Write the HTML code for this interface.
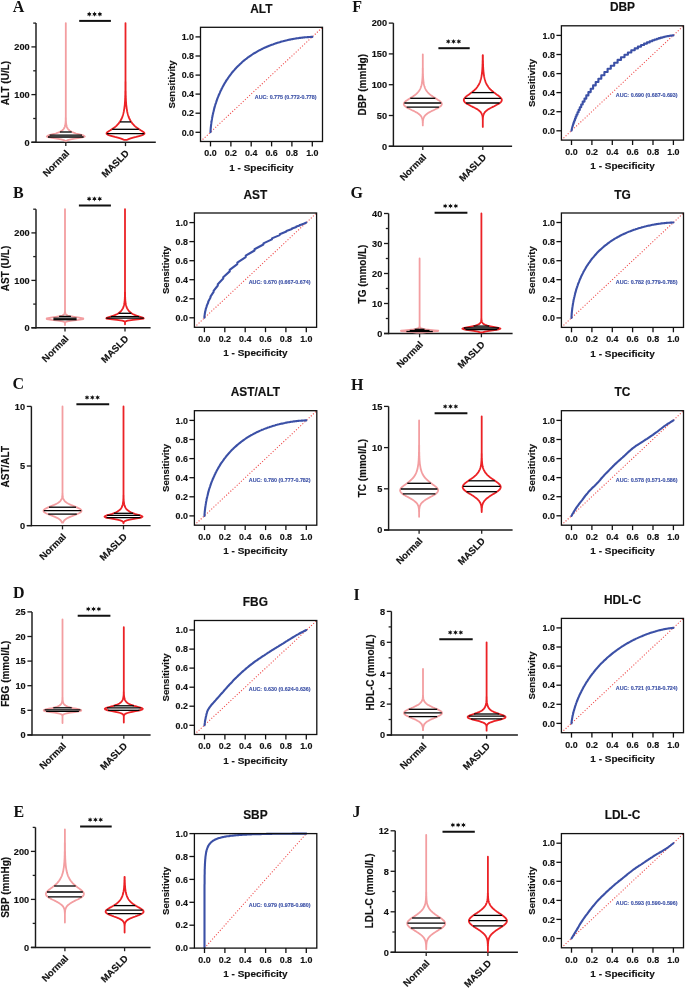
<!DOCTYPE html>
<html><head><meta charset="utf-8"><style>
html,body{margin:0;padding:0;background:#fff;}
svg{display:block;will-change:transform;}
text{font-family:"Liberation Sans",sans-serif;font-weight:bold;}
.t{fill:#111;stroke:#111;stroke-width:0.15px;}
.lt{font-family:"Liberation Serif",serif;font-size:16px;fill:#111;}
.e{text-anchor:end;} .m{text-anchor:middle;}
.vt{font-size:9.2px;} .st{font-size:13.9px;stroke-width:0.1px;} .yl{font-size:10px;} .cl{font-size:9.5px;}
.ti{font-size:11.9px;} .rt{font-size:8.9px;} .xl{font-size:10px;} .sl{font-size:9.6px;}
.au{font-size:5.35px;fill:#3b50a6;stroke:#3b50a6;stroke-width:0.12px;}
</style></head><body>
<svg width="685" height="988" viewBox="0 0 685 988">
<rect width="685" height="988" fill="#fff"/>
<text x="12.7" y="11.7" class="lt">A</text>
<line x1="36.0" y1="23.1" x2="36.0" y2="143.0" stroke="#1a1a1a" stroke-width="1.45"/>
<line x1="31.4" y1="142.3" x2="155.8" y2="142.3" stroke="#1a1a1a" stroke-width="1.45"/>
<line x1="31.4" y1="142.3" x2="36.0" y2="142.3" stroke="#1a1a1a" stroke-width="1.3"/>
<text x="29.7" y="145.6" class="t vt e">0</text>
<line x1="31.4" y1="94.6" x2="36.0" y2="94.6" stroke="#1a1a1a" stroke-width="1.3"/>
<text x="29.7" y="97.9" class="t vt e">100</text>
<line x1="31.4" y1="46.9" x2="36.0" y2="46.9" stroke="#1a1a1a" stroke-width="1.3"/>
<text x="29.7" y="50.2" class="t vt e">200</text>
<line x1="33.2" y1="118.5" x2="36.0" y2="118.5" stroke="#222" stroke-width="1.3"/>
<line x1="33.2" y1="70.8" x2="36.0" y2="70.8" stroke="#222" stroke-width="1.3"/>
<line x1="33.2" y1="23.1" x2="36.0" y2="23.1" stroke="#222" stroke-width="1.3"/>
<line x1="65.8" y1="142.3" x2="65.8" y2="146.10000000000002" stroke="#222" stroke-width="1.3"/>
<line x1="125.5" y1="142.3" x2="125.5" y2="146.10000000000002" stroke="#222" stroke-width="1.3"/>
<path d="M65.8,23.1 65.8,23.8 65.8,24.5 65.8,25.3 65.8,26 65.8,26.8 65.8,27.5 65.8,28.2 65.8,29 65.8,29.7 65.8,30.5 65.8,31.2 65.8,31.9 65.8,32.7 65.8,33.4 65.8,34.2 65.8,34.9 65.8,35.6 65.8,36.4 65.8,37.1 65.8,37.9 65.8,38.6 65.8,39.4 65.8,40.1 65.8,40.8 65.8,41.6 65.8,42.3 65.8,43.1 65.8,43.8 65.8,44.5 65.8,45.3 65.8,46 65.8,46.8 65.8,47.5 65.8,48.2 65.8,49 65.8,49.7 65.8,50.5 65.8,51.2 65.8,51.9 65.8,52.7 65.8,53.4 65.8,54.2 65.8,54.9 65.8,55.7 65.8,56.4 65.8,57.1 65.8,57.9 65.8,58.6 65.8,59.4 65.8,60.1 65.8,60.8 65.8,61.6 65.8,62.3 65.8,63.1 65.8,63.8 65.8,64.5 65.8,65.3 65.8,66 65.8,66.8 65.8,67.5 65.8,68.3 65.8,69 65.8,69.7 65.8,70.5 65.8,71.2 65.8,72 65.8,72.7 65.8,73.4 65.8,74.2 65.8,74.9 65.8,75.7 65.8,76.4 65.8,77.1 65.8,77.9 65.8,78.6 65.8,79.4 65.8,80.1 65.8,80.8 65.8,81.6 65.8,82.3 65.8,83.1 65.8,83.8 65.8,84.6 65.8,85.3 65.8,86 65.8,86.8 65.8,87.5 65.8,88.3 65.8,89 65.8,89.7 65.8,90.5 65.8,91.2 65.8,92 65.8,92.7 65.8,93.4 65.8,94.2 65.8,94.9 65.8,95.7 65.8,96.4 65.8,97.2 65.8,97.9 65.8,98.6 65.8,99.4 65.8,100.1 65.8,100.9 65.8,101.6 65.8,102.3 65.8,103.1 65.8,103.8 65.8,104.6 65.8,105.3 65.8,106 65.8,106.8 65.8,107.5 65.8,108.3 65.8,109 65.8,109.7 65.8,110.5 65.8,111.2 65.8,112 65.8,112.7 65.8,113.5 65.8,114.2 65.8,114.9 65.8,115.7 65.8,116.4 65.8,117.2 65.9,117.9 65.9,118.6 65.9,119.4 65.9,120.1 65.9,120.9 66,121.6 66,122.3 66.1,123.1 66.2,123.8 66.3,124.6 66.4,125.3 66.6,126 66.8,126.8 67.1,127.5 67.5,128.3 68,129 68.7,129.8 69.5,130.5 70.6,131.2 71.9,132 73.7,132.7 75.9,133.5 78.6,134.2 81.4,134.9 83.8,135.7 84.8,136.4 83.4,137.2 79.6,137.9 74.7,138.6 70.5,139.4 67.7,140.1 66.4,140.9 L65.2,140.9 63.9,140.1 61.1,139.4 56.9,138.6 52,137.9 48.2,137.2 46.8,136.4 47.8,135.7 50.2,134.9 53,134.2 55.7,133.5 57.9,132.7 59.7,132 61,131.2 62.1,130.5 62.9,129.8 63.6,129 64.1,128.3 64.5,127.5 64.8,126.8 65,126 65.2,125.3 65.3,124.6 65.4,123.8 65.5,123.1 65.6,122.3 65.6,121.6 65.7,120.9 65.7,120.1 65.7,119.4 65.7,118.6 65.7,117.9 65.8,117.2 65.8,116.4 65.8,115.7 65.8,114.9 65.8,114.2 65.8,113.5 65.8,112.7 65.8,112 65.8,111.2 65.8,110.5 65.8,109.7 65.8,109 65.8,108.3 65.8,107.5 65.8,106.8 65.8,106 65.8,105.3 65.8,104.6 65.8,103.8 65.8,103.1 65.8,102.3 65.8,101.6 65.8,100.9 65.8,100.1 65.8,99.4 65.8,98.6 65.8,97.9 65.8,97.2 65.8,96.4 65.8,95.7 65.8,94.9 65.8,94.2 65.8,93.4 65.8,92.7 65.8,92 65.8,91.2 65.8,90.5 65.8,89.7 65.8,89 65.8,88.3 65.8,87.5 65.8,86.8 65.8,86 65.8,85.3 65.8,84.6 65.8,83.8 65.8,83.1 65.8,82.3 65.8,81.6 65.8,80.8 65.8,80.1 65.8,79.4 65.8,78.6 65.8,77.9 65.8,77.1 65.8,76.4 65.8,75.7 65.8,74.9 65.8,74.2 65.8,73.4 65.8,72.7 65.8,72 65.8,71.2 65.8,70.5 65.8,69.7 65.8,69 65.8,68.3 65.8,67.5 65.8,66.8 65.8,66 65.8,65.3 65.8,64.5 65.8,63.8 65.8,63.1 65.8,62.3 65.8,61.6 65.8,60.8 65.8,60.1 65.8,59.4 65.8,58.6 65.8,57.9 65.8,57.1 65.8,56.4 65.8,55.7 65.8,54.9 65.8,54.2 65.8,53.4 65.8,52.7 65.8,51.9 65.8,51.2 65.8,50.5 65.8,49.7 65.8,49 65.8,48.2 65.8,47.5 65.8,46.8 65.8,46 65.8,45.3 65.8,44.5 65.8,43.8 65.8,43.1 65.8,42.3 65.8,41.6 65.8,40.8 65.8,40.1 65.8,39.4 65.8,38.6 65.8,37.9 65.8,37.1 65.8,36.4 65.8,35.6 65.8,34.9 65.8,34.2 65.8,33.4 65.8,32.7 65.8,31.9 65.8,31.2 65.8,30.5 65.8,29.7 65.8,29 65.8,28.2 65.8,27.5 65.8,26.8 65.8,26 65.8,25.3 65.8,24.5 65.8,23.8 65.8,23.1 Z" fill="none" stroke="#f39ea1" stroke-width="1.8" stroke-linejoin="round"/>
<line x1="48" y1="137" x2="83.6" y2="137" stroke="#000" stroke-width="1.3"/>
<line x1="49.6" y1="135.2" x2="82" y2="135.2" stroke="#000" stroke-width="1.3"/>
<line x1="59.9" y1="132" x2="71.7" y2="132" stroke="#000" stroke-width="1.3"/>
<path d="M125.5,23.1 125.5,23.8 125.5,24.5 125.5,25.3 125.5,26 125.5,26.7 125.5,27.5 125.5,28.2 125.5,28.9 125.5,29.7 125.5,30.4 125.5,31.1 125.5,31.9 125.5,32.6 125.5,33.3 125.5,34.1 125.5,34.8 125.5,35.5 125.5,36.3 125.5,37 125.5,37.7 125.5,38.5 125.5,39.2 125.5,39.9 125.5,40.7 125.5,41.4 125.5,42.1 125.5,42.9 125.5,43.6 125.5,44.3 125.5,45.1 125.5,45.8 125.5,46.6 125.5,47.3 125.5,48 125.5,48.8 125.5,49.5 125.5,50.2 125.5,51 125.5,51.7 125.5,52.4 125.5,53.2 125.5,53.9 125.5,54.6 125.5,55.4 125.5,56.1 125.5,56.8 125.5,57.6 125.5,58.3 125.5,59 125.5,59.8 125.5,60.5 125.5,61.2 125.5,62 125.5,62.7 125.5,63.4 125.5,64.2 125.5,64.9 125.5,65.6 125.5,66.4 125.5,67.1 125.5,67.8 125.5,68.6 125.5,69.3 125.5,70.1 125.5,70.8 125.5,71.5 125.5,72.3 125.5,73 125.5,73.7 125.5,74.5 125.5,75.2 125.5,75.9 125.5,76.7 125.5,77.4 125.5,78.1 125.5,78.9 125.5,79.6 125.5,80.3 125.5,81.1 125.6,81.8 125.6,82.5 125.6,83.3 125.6,84 125.6,84.7 125.6,85.5 125.6,86.2 125.6,86.9 125.6,87.7 125.6,88.4 125.6,89.1 125.6,89.9 125.6,90.6 125.7,91.3 125.7,92.1 125.7,92.8 125.7,93.6 125.7,94.3 125.7,95 125.8,95.8 125.8,96.5 125.8,97.2 125.8,98 125.9,98.7 125.9,99.4 125.9,100.2 126,100.9 126,101.6 126.1,102.4 126.1,103.1 126.2,103.8 126.2,104.6 126.3,105.3 126.4,106 126.5,106.8 126.6,107.5 126.6,108.2 126.8,109 126.9,109.7 127,110.4 127.1,111.2 127.3,111.9 127.4,112.6 127.6,113.4 127.8,114.1 128,114.9 128.2,115.6 128.5,116.3 128.7,117.1 129,117.8 129.3,118.5 129.7,119.3 130.1,120 130.5,120.7 130.9,121.5 131.4,122.2 132,122.9 132.5,123.7 133.2,124.4 133.9,125.1 134.6,125.9 135.4,126.6 136.3,127.3 137.3,128.1 138.4,128.8 139.5,129.5 140.7,130.3 141.9,131 143,131.7 144,132.5 144.5,133.2 144.3,133.9 143.4,134.7 141.6,135.4 139.1,136.1 136.1,136.9 133.2,137.6 130.6,138.4 128.6,139.1 127.2,139.8 L123.8,139.8 122.4,139.1 120.4,138.4 117.8,137.6 114.9,136.9 111.9,136.1 109.4,135.4 107.6,134.7 106.7,133.9 106.5,133.2 107,132.5 108,131.7 109.1,131 110.3,130.3 111.5,129.5 112.6,128.8 113.7,128.1 114.7,127.3 115.6,126.6 116.4,125.9 117.1,125.1 117.8,124.4 118.5,123.7 119,122.9 119.6,122.2 120.1,121.5 120.5,120.7 120.9,120 121.3,119.3 121.7,118.5 122,117.8 122.3,117.1 122.5,116.3 122.8,115.6 123,114.9 123.2,114.1 123.4,113.4 123.6,112.6 123.7,111.9 123.9,111.2 124,110.4 124.1,109.7 124.2,109 124.4,108.2 124.4,107.5 124.5,106.8 124.6,106 124.7,105.3 124.8,104.6 124.8,103.8 124.9,103.1 124.9,102.4 125,101.6 125,100.9 125.1,100.2 125.1,99.4 125.1,98.7 125.2,98 125.2,97.2 125.2,96.5 125.2,95.8 125.3,95 125.3,94.3 125.3,93.6 125.3,92.8 125.3,92.1 125.3,91.3 125.4,90.6 125.4,89.9 125.4,89.1 125.4,88.4 125.4,87.7 125.4,86.9 125.4,86.2 125.4,85.5 125.4,84.7 125.4,84 125.4,83.3 125.4,82.5 125.4,81.8 125.5,81.1 125.5,80.3 125.5,79.6 125.5,78.9 125.5,78.1 125.5,77.4 125.5,76.7 125.5,75.9 125.5,75.2 125.5,74.5 125.5,73.7 125.5,73 125.5,72.3 125.5,71.5 125.5,70.8 125.5,70.1 125.5,69.3 125.5,68.6 125.5,67.8 125.5,67.1 125.5,66.4 125.5,65.6 125.5,64.9 125.5,64.2 125.5,63.4 125.5,62.7 125.5,62 125.5,61.2 125.5,60.5 125.5,59.8 125.5,59 125.5,58.3 125.5,57.6 125.5,56.8 125.5,56.1 125.5,55.4 125.5,54.6 125.5,53.9 125.5,53.2 125.5,52.4 125.5,51.7 125.5,51 125.5,50.2 125.5,49.5 125.5,48.8 125.5,48 125.5,47.3 125.5,46.6 125.5,45.8 125.5,45.1 125.5,44.3 125.5,43.6 125.5,42.9 125.5,42.1 125.5,41.4 125.5,40.7 125.5,39.9 125.5,39.2 125.5,38.5 125.5,37.7 125.5,37 125.5,36.3 125.5,35.5 125.5,34.8 125.5,34.1 125.5,33.3 125.5,32.6 125.5,31.9 125.5,31.1 125.5,30.4 125.5,29.7 125.5,28.9 125.5,28.2 125.5,27.5 125.5,26.7 125.5,26 125.5,25.3 125.5,24.5 125.5,23.8 125.5,23.1 Z" fill="none" stroke="#ec2226" stroke-width="1.8" stroke-linejoin="round"/>
<line x1="106.8" y1="133.6" x2="144.2" y2="133.6" stroke="#000" stroke-width="1.3"/>
<line x1="112.2" y1="129.3" x2="138.8" y2="129.3" stroke="#000" stroke-width="1.3"/>
<line x1="120.1" y1="121.9" x2="130.9" y2="121.9" stroke="#000" stroke-width="1.3"/>
<line x1="79.2" y1="20.9" x2="110.9" y2="20.9" stroke="#111" stroke-width="2"/>
<polygon points="89.3,11.6 88.6,13.1 87,12.9 88,14.1 87,15.4 88.6,15.2 89.3,16.7 89.9,15.2 91.5,15.4 90.5,14.1 91.5,12.9 89.9,13.1" fill="#111"/>
<polygon points="94.6,11.6 93.9,13.1 92.3,12.9 93.3,14.1 92.3,15.4 93.9,15.2 94.6,16.7 95.2,15.2 96.8,15.4 95.8,14.1 96.8,12.9 95.2,13.1" fill="#111"/>
<polygon points="99.9,11.6 99.2,13.1 97.6,12.9 98.6,14.1 97.6,15.4 99.2,15.2 99.9,16.7 100.5,15.2 102.1,15.4 101.1,14.1 102.1,12.9 100.5,13.1" fill="#111"/>
<text transform="translate(8.8,83.0) rotate(-90)" class="t yl m">ALT (U/L)</text>
<text transform="translate(69.8,154) rotate(-45)" class="t cl e">Normal</text>
<text transform="translate(129.5,154) rotate(-45)" class="t cl e">MASLD</text>
<text x="13.0" y="197.8" class="lt">B</text>
<line x1="36.0" y1="209.2" x2="36.0" y2="328.5" stroke="#1a1a1a" stroke-width="1.45"/>
<line x1="31.4" y1="327.8" x2="150.6" y2="327.8" stroke="#1a1a1a" stroke-width="1.45"/>
<line x1="31.4" y1="327.8" x2="36.0" y2="327.8" stroke="#1a1a1a" stroke-width="1.3"/>
<text x="29.7" y="331.1" class="t vt e">0</text>
<line x1="31.4" y1="280.4" x2="36.0" y2="280.4" stroke="#1a1a1a" stroke-width="1.3"/>
<text x="29.7" y="283.7" class="t vt e">100</text>
<line x1="31.4" y1="232.9" x2="36.0" y2="232.9" stroke="#1a1a1a" stroke-width="1.3"/>
<text x="29.7" y="236.2" class="t vt e">200</text>
<line x1="33.2" y1="304.1" x2="36.0" y2="304.1" stroke="#222" stroke-width="1.3"/>
<line x1="33.2" y1="256.6" x2="36.0" y2="256.6" stroke="#222" stroke-width="1.3"/>
<line x1="33.2" y1="209.2" x2="36.0" y2="209.2" stroke="#222" stroke-width="1.3"/>
<line x1="65.0" y1="327.8" x2="65.0" y2="331.6" stroke="#222" stroke-width="1.3"/>
<line x1="125.0" y1="327.8" x2="125.0" y2="331.6" stroke="#222" stroke-width="1.3"/>
<path d="M65,209.2 65,209.9 65,210.7 65,211.4 65,212.1 65,212.8 65,213.6 65,214.3 65,215 65,215.8 65,216.5 65,217.2 65,217.9 65,218.7 65,219.4 65,220.1 65,220.8 65,221.6 65,222.3 65,223 65,223.8 65,224.5 65,225.2 65,225.9 65,226.7 65,227.4 65,228.1 65,228.9 65,229.6 65,230.3 65,231 65,231.8 65,232.5 65,233.2 65,234 65,234.7 65,235.4 65,236.1 65,236.9 65,237.6 65,238.3 65,239 65,239.8 65,240.5 65,241.2 65,242 65,242.7 65,243.4 65,244.1 65,244.9 65,245.6 65,246.3 65,247.1 65,247.8 65,248.5 65,249.2 65,250 65,250.7 65,251.4 65,252.2 65,252.9 65,253.6 65,254.3 65,255.1 65,255.8 65,256.5 65,257.2 65,258 65,258.7 65,259.4 65,260.2 65,260.9 65,261.6 65,262.3 65,263.1 65,263.8 65,264.5 65,265.3 65,266 65,266.7 65,267.4 65,268.2 65,268.9 65,269.6 65,270.4 65,271.1 65,271.8 65,272.5 65,273.3 65,274 65,274.7 65,275.4 65,276.2 65,276.9 65,277.6 65,278.4 65,279.1 65,279.8 65,280.5 65,281.3 65,282 65,282.7 65,283.5 65,284.2 65,284.9 65,285.6 65,286.4 65,287.1 65,287.8 65,288.6 65,289.3 65,290 65,290.7 65,291.5 65,292.2 65,292.9 65,293.6 65,294.4 65,295.1 65,295.8 65,296.6 65,297.3 65,298 65,298.7 65,299.5 65,300.2 65,300.9 65,301.7 65,302.4 65,303.1 65,303.8 65,304.6 65,305.3 65,306 65,306.8 65,307.5 65,308.2 65,308.9 65,309.7 65,310.4 65,311.1 65.1,311.8 65.2,312.6 65.4,313.3 65.7,314 66.4,314.8 67.7,315.5 70.2,316.2 74.1,316.9 79.2,317.7 83.3,318.4 83.3,319.1 78.4,319.9 71.9,320.6 67.4,321.3 65.6,322 65.1,322.8 65,323.5 65,324.2 65,325 L65,325 65,324.2 65,323.5 64.9,322.8 64.4,322 62.6,321.3 58.1,320.6 51.6,319.9 46.7,319.1 46.7,318.4 50.8,317.7 55.9,316.9 59.8,316.2 62.3,315.5 63.6,314.8 64.3,314 64.6,313.3 64.8,312.6 64.9,311.8 65,311.1 65,310.4 65,309.7 65,308.9 65,308.2 65,307.5 65,306.8 65,306 65,305.3 65,304.6 65,303.8 65,303.1 65,302.4 65,301.7 65,300.9 65,300.2 65,299.5 65,298.7 65,298 65,297.3 65,296.6 65,295.8 65,295.1 65,294.4 65,293.6 65,292.9 65,292.2 65,291.5 65,290.7 65,290 65,289.3 65,288.6 65,287.8 65,287.1 65,286.4 65,285.6 65,284.9 65,284.2 65,283.5 65,282.7 65,282 65,281.3 65,280.5 65,279.8 65,279.1 65,278.4 65,277.6 65,276.9 65,276.2 65,275.4 65,274.7 65,274 65,273.3 65,272.5 65,271.8 65,271.1 65,270.4 65,269.6 65,268.9 65,268.2 65,267.4 65,266.7 65,266 65,265.3 65,264.5 65,263.8 65,263.1 65,262.3 65,261.6 65,260.9 65,260.2 65,259.4 65,258.7 65,258 65,257.2 65,256.5 65,255.8 65,255.1 65,254.3 65,253.6 65,252.9 65,252.2 65,251.4 65,250.7 65,250 65,249.2 65,248.5 65,247.8 65,247.1 65,246.3 65,245.6 65,244.9 65,244.1 65,243.4 65,242.7 65,242 65,241.2 65,240.5 65,239.8 65,239 65,238.3 65,237.6 65,236.9 65,236.1 65,235.4 65,234.7 65,234 65,233.2 65,232.5 65,231.8 65,231 65,230.3 65,229.6 65,228.9 65,228.1 65,227.4 65,226.7 65,225.9 65,225.2 65,224.5 65,223.8 65,223 65,222.3 65,221.6 65,220.8 65,220.1 65,219.4 65,218.7 65,217.9 65,217.2 65,216.5 65,215.8 65,215 65,214.3 65,213.6 65,212.8 65,212.1 65,211.4 65,210.7 65,209.9 65,209.2 Z" fill="none" stroke="#f39ea1" stroke-width="1.8" stroke-linejoin="round"/>
<line x1="53.4" y1="319.7" x2="76.6" y2="319.7" stroke="#000" stroke-width="1.3"/>
<line x1="53.4" y1="318.2" x2="76.6" y2="318.2" stroke="#000" stroke-width="1.3"/>
<line x1="59.1" y1="316.4" x2="70.9" y2="316.4" stroke="#000" stroke-width="1.3"/>
<path d="M125,209.2 125,209.9 125,210.6 125,211.4 125,212.1 125,212.8 125,213.5 125,214.3 125,215 125,215.7 125,216.4 125,217.2 125,217.9 125,218.6 125,219.3 125,220.1 125,220.8 125,221.5 125,222.2 125,223 125,223.7 125,224.4 125,225.1 125,225.8 125,226.6 125,227.3 125,228 125,228.7 125,229.5 125,230.2 125,230.9 125,231.6 125,232.4 125,233.1 125,233.8 125,234.5 125,235.3 125,236 125,236.7 125,237.4 125,238.2 125,238.9 125,239.6 125,240.3 125,241 125,241.8 125,242.5 125,243.2 125,243.9 125,244.7 125,245.4 125,246.1 125,246.8 125,247.6 125,248.3 125,249 125,249.7 125,250.5 125,251.2 125,251.9 125,252.6 125,253.4 125,254.1 125,254.8 125,255.5 125,256.2 125,257 125,257.7 125,258.4 125,259.1 125,259.9 125,260.6 125,261.3 125,262 125,262.8 125,263.5 125,264.2 125,264.9 125,265.7 125,266.4 125,267.1 125,267.8 125,268.6 125,269.3 125,270 125,270.7 125,271.4 125,272.2 125,272.9 125,273.6 125,274.3 125,275.1 125,275.8 125,276.5 125,277.2 125,278 125,278.7 125,279.4 125,280.1 125,280.9 125,281.6 125,282.3 125,283 125,283.8 125,284.5 125,285.2 125,285.9 125,286.7 125,287.4 125,288.1 125,288.8 125,289.5 125,290.3 125,291 125,291.7 125.1,292.4 125.1,293.2 125.1,293.9 125.1,294.6 125.1,295.3 125.1,296.1 125.1,296.8 125.2,297.5 125.2,298.2 125.2,299 125.3,299.7 125.3,300.4 125.4,301.1 125.5,301.9 125.5,302.6 125.7,303.3 125.8,304 125.9,304.7 126.1,305.5 126.3,306.2 126.5,306.9 126.8,307.6 127.1,308.4 127.5,309.1 128,309.8 128.5,310.5 129.2,311.3 130,312 130.9,312.7 131.9,313.4 133.2,314.2 134.7,314.9 136.5,315.6 138.6,316.3 141.1,317.1 143.4,317.8 143.7,318.5 139.9,319.2 133.1,319.9 127.7,320.7 125.5,321.4 125.1,322.1 125,322.8 125,323.6 125,324.3 L125,324.3 125,323.6 125,322.8 124.9,322.1 124.5,321.4 122.3,320.7 116.9,319.9 110.1,319.2 106.3,318.5 106.6,317.8 108.9,317.1 111.4,316.3 113.5,315.6 115.3,314.9 116.8,314.2 118.1,313.4 119.1,312.7 120,312 120.8,311.3 121.5,310.5 122,309.8 122.5,309.1 122.9,308.4 123.2,307.6 123.5,306.9 123.7,306.2 123.9,305.5 124.1,304.7 124.2,304 124.3,303.3 124.5,302.6 124.5,301.9 124.6,301.1 124.7,300.4 124.7,299.7 124.8,299 124.8,298.2 124.8,297.5 124.9,296.8 124.9,296.1 124.9,295.3 124.9,294.6 124.9,293.9 124.9,293.2 124.9,292.4 125,291.7 125,291 125,290.3 125,289.5 125,288.8 125,288.1 125,287.4 125,286.7 125,285.9 125,285.2 125,284.5 125,283.8 125,283 125,282.3 125,281.6 125,280.9 125,280.1 125,279.4 125,278.7 125,278 125,277.2 125,276.5 125,275.8 125,275.1 125,274.3 125,273.6 125,272.9 125,272.2 125,271.4 125,270.7 125,270 125,269.3 125,268.6 125,267.8 125,267.1 125,266.4 125,265.7 125,264.9 125,264.2 125,263.5 125,262.8 125,262 125,261.3 125,260.6 125,259.9 125,259.1 125,258.4 125,257.7 125,257 125,256.2 125,255.5 125,254.8 125,254.1 125,253.4 125,252.6 125,251.9 125,251.2 125,250.5 125,249.7 125,249 125,248.3 125,247.6 125,246.8 125,246.1 125,245.4 125,244.7 125,243.9 125,243.2 125,242.5 125,241.8 125,241 125,240.3 125,239.6 125,238.9 125,238.2 125,237.4 125,236.7 125,236 125,235.3 125,234.5 125,233.8 125,233.1 125,232.4 125,231.6 125,230.9 125,230.2 125,229.5 125,228.7 125,228 125,227.3 125,226.6 125,225.8 125,225.1 125,224.4 125,223.7 125,223 125,222.2 125,221.5 125,220.8 125,220.1 125,219.3 125,218.6 125,217.9 125,217.2 125,216.4 125,215.7 125,215 125,214.3 125,213.5 125,212.8 125,212.1 125,211.4 125,210.6 125,209.9 125,209.2 Z" fill="none" stroke="#ec2226" stroke-width="1.8" stroke-linejoin="round"/>
<line x1="106.3" y1="318.1" x2="143.7" y2="318.1" stroke="#000" stroke-width="1.3"/>
<line x1="110.8" y1="316.6" x2="139.2" y2="316.6" stroke="#000" stroke-width="1.3"/>
<line x1="118.6" y1="313.3" x2="131.4" y2="313.3" stroke="#000" stroke-width="1.3"/>
<line x1="78.9" y1="205.6" x2="110.9" y2="205.6" stroke="#111" stroke-width="2"/>
<polygon points="89.1,196.3 88.5,197.8 86.9,197.6 87.9,198.8 86.9,200.1 88.5,199.9 89.1,201.4 89.7,199.9 91.3,200.1 90.4,198.8 91.3,197.6 89.7,197.8" fill="#111"/>
<polygon points="94.4,196.3 93.8,197.8 92.2,197.6 93.2,198.8 92.2,200.1 93.8,199.9 94.4,201.4 95,199.9 96.6,200.1 95.7,198.8 96.6,197.6 95,197.8" fill="#111"/>
<polygon points="99.7,196.3 99.1,197.8 97.5,197.6 98.5,198.8 97.5,200.1 99.1,199.9 99.7,201.4 100.3,199.9 101.9,200.1 101,198.8 101.9,197.6 100.3,197.8" fill="#111"/>
<text transform="translate(8.8,268.5) rotate(-90)" class="t yl m">AST (U/L)</text>
<text transform="translate(69,339.5) rotate(-45)" class="t cl e">Normal</text>
<text transform="translate(129,339.5) rotate(-45)" class="t cl e">MASLD</text>
<text x="12.6" y="389.4" class="lt">C</text>
<line x1="31.4" y1="406.4" x2="31.4" y2="526.3000000000001" stroke="#1a1a1a" stroke-width="1.45"/>
<line x1="26.799999999999997" y1="525.6" x2="150.6" y2="525.6" stroke="#1a1a1a" stroke-width="1.45"/>
<line x1="26.799999999999997" y1="525.6" x2="31.4" y2="525.6" stroke="#1a1a1a" stroke-width="1.3"/>
<text x="25.099999999999998" y="528.9" class="t vt e">0</text>
<line x1="26.799999999999997" y1="466" x2="31.4" y2="466" stroke="#1a1a1a" stroke-width="1.3"/>
<text x="25.099999999999998" y="469.3" class="t vt e">5</text>
<line x1="26.799999999999997" y1="406.4" x2="31.4" y2="406.4" stroke="#1a1a1a" stroke-width="1.3"/>
<text x="25.099999999999998" y="409.7" class="t vt e">10</text>
<line x1="62.5" y1="525.6" x2="62.5" y2="529.4" stroke="#222" stroke-width="1.3"/>
<line x1="123.5" y1="525.6" x2="123.5" y2="529.4" stroke="#222" stroke-width="1.3"/>
<path d="M62.5,406.4 62.5,407.1 62.5,407.9 62.5,408.6 62.5,409.3 62.5,410.1 62.5,410.8 62.5,411.5 62.5,412.3 62.5,413 62.5,413.7 62.5,414.4 62.5,415.2 62.5,415.9 62.5,416.6 62.5,417.4 62.5,418.1 62.5,418.8 62.5,419.6 62.5,420.3 62.5,421 62.5,421.8 62.5,422.5 62.5,423.2 62.5,424 62.5,424.7 62.5,425.4 62.5,426.2 62.5,426.9 62.5,427.6 62.5,428.4 62.5,429.1 62.5,429.8 62.5,430.5 62.5,431.3 62.5,432 62.5,432.7 62.5,433.5 62.5,434.2 62.5,434.9 62.5,435.7 62.5,436.4 62.5,437.1 62.5,437.9 62.5,438.6 62.5,439.3 62.5,440.1 62.5,440.8 62.5,441.5 62.5,442.3 62.5,443 62.5,443.7 62.5,444.4 62.5,445.2 62.5,445.9 62.5,446.6 62.5,447.4 62.5,448.1 62.5,448.8 62.5,449.6 62.5,450.3 62.5,451 62.5,451.8 62.5,452.5 62.5,453.2 62.5,454 62.5,454.7 62.5,455.4 62.5,456.2 62.5,456.9 62.5,457.6 62.5,458.4 62.5,459.1 62.5,459.8 62.5,460.5 62.5,461.3 62.5,462 62.5,462.7 62.5,463.5 62.5,464.2 62.5,464.9 62.5,465.7 62.5,466.4 62.5,467.1 62.5,467.9 62.5,468.6 62.5,469.3 62.5,470.1 62.5,470.8 62.5,471.5 62.5,472.3 62.5,473 62.5,473.7 62.5,474.4 62.5,475.2 62.5,475.9 62.5,476.6 62.5,477.4 62.5,478.1 62.5,478.8 62.5,479.6 62.5,480.3 62.5,481 62.5,481.8 62.5,482.5 62.5,483.2 62.5,484 62.5,484.7 62.5,485.4 62.5,486.2 62.5,486.9 62.5,487.6 62.5,488.3 62.5,489.1 62.5,489.8 62.5,490.5 62.5,491.3 62.5,492 62.5,492.7 62.6,493.5 62.6,494.2 62.6,494.9 62.7,495.7 62.8,496.4 62.9,497.1 63,497.9 63.2,498.6 63.6,499.3 64,500.1 64.5,500.8 65.2,501.5 66.1,502.3 67.1,503 68.4,503.7 69.8,504.4 71.5,505.2 73.2,505.9 75,506.6 76.8,507.4 78.4,508.1 79.7,508.8 80.8,509.6 81.4,510.3 81.5,511 81.1,511.8 80.3,512.5 79,513.2 77.4,514 75.6,514.7 73.8,515.4 71.9,516.2 70.1,516.9 68.5,517.6 67.1,518.3 65.9,519.1 65,519.8 64.2,520.5 63.7,521.3 63.3,522 63,522.7 L62,522.7 61.7,522 61.3,521.3 60.8,520.5 60,519.8 59.1,519.1 57.9,518.3 56.5,517.6 54.9,516.9 53.1,516.2 51.2,515.4 49.4,514.7 47.6,514 46,513.2 44.7,512.5 43.9,511.8 43.5,511 43.6,510.3 44.2,509.6 45.3,508.8 46.6,508.1 48.2,507.4 50,506.6 51.8,505.9 53.5,505.2 55.2,504.4 56.6,503.7 57.9,503 58.9,502.3 59.8,501.5 60.5,500.8 61,500.1 61.4,499.3 61.8,498.6 62,497.9 62.1,497.1 62.2,496.4 62.3,495.7 62.4,494.9 62.4,494.2 62.4,493.5 62.5,492.7 62.5,492 62.5,491.3 62.5,490.5 62.5,489.8 62.5,489.1 62.5,488.3 62.5,487.6 62.5,486.9 62.5,486.2 62.5,485.4 62.5,484.7 62.5,484 62.5,483.2 62.5,482.5 62.5,481.8 62.5,481 62.5,480.3 62.5,479.6 62.5,478.8 62.5,478.1 62.5,477.4 62.5,476.6 62.5,475.9 62.5,475.2 62.5,474.4 62.5,473.7 62.5,473 62.5,472.3 62.5,471.5 62.5,470.8 62.5,470.1 62.5,469.3 62.5,468.6 62.5,467.9 62.5,467.1 62.5,466.4 62.5,465.7 62.5,464.9 62.5,464.2 62.5,463.5 62.5,462.7 62.5,462 62.5,461.3 62.5,460.5 62.5,459.8 62.5,459.1 62.5,458.4 62.5,457.6 62.5,456.9 62.5,456.2 62.5,455.4 62.5,454.7 62.5,454 62.5,453.2 62.5,452.5 62.5,451.8 62.5,451 62.5,450.3 62.5,449.6 62.5,448.8 62.5,448.1 62.5,447.4 62.5,446.6 62.5,445.9 62.5,445.2 62.5,444.4 62.5,443.7 62.5,443 62.5,442.3 62.5,441.5 62.5,440.8 62.5,440.1 62.5,439.3 62.5,438.6 62.5,437.9 62.5,437.1 62.5,436.4 62.5,435.7 62.5,434.9 62.5,434.2 62.5,433.5 62.5,432.7 62.5,432 62.5,431.3 62.5,430.5 62.5,429.8 62.5,429.1 62.5,428.4 62.5,427.6 62.5,426.9 62.5,426.2 62.5,425.4 62.5,424.7 62.5,424 62.5,423.2 62.5,422.5 62.5,421.8 62.5,421 62.5,420.3 62.5,419.6 62.5,418.8 62.5,418.1 62.5,417.4 62.5,416.6 62.5,415.9 62.5,415.2 62.5,414.4 62.5,413.7 62.5,413 62.5,412.3 62.5,411.5 62.5,410.8 62.5,410.1 62.5,409.3 62.5,408.6 62.5,407.9 62.5,407.1 62.5,406.4 Z" fill="none" stroke="#f39ea1" stroke-width="1.8" stroke-linejoin="round"/>
<line x1="48.2" y1="514.1" x2="76.8" y2="514.1" stroke="#000" stroke-width="1.3"/>
<line x1="43.8" y1="510.6" x2="81.2" y2="510.6" stroke="#000" stroke-width="1.3"/>
<line x1="49" y1="507.2" x2="76" y2="507.2" stroke="#000" stroke-width="1.3"/>
<path d="M123.5,406.4 123.5,407.1 123.5,407.9 123.5,408.6 123.5,409.3 123.5,410.1 123.5,410.8 123.5,411.5 123.5,412.3 123.5,413 123.5,413.8 123.5,414.5 123.5,415.2 123.5,416 123.5,416.7 123.5,417.4 123.5,418.2 123.5,418.9 123.5,419.6 123.5,420.4 123.5,421.1 123.5,421.8 123.5,422.6 123.5,423.3 123.5,424.1 123.5,424.8 123.5,425.5 123.5,426.3 123.5,427 123.5,427.7 123.5,428.5 123.5,429.2 123.5,429.9 123.5,430.7 123.5,431.4 123.5,432.1 123.5,432.9 123.5,433.6 123.5,434.3 123.5,435.1 123.5,435.8 123.5,436.6 123.5,437.3 123.5,438 123.5,438.8 123.5,439.5 123.5,440.2 123.5,441 123.5,441.7 123.5,442.4 123.5,443.2 123.5,443.9 123.5,444.6 123.5,445.4 123.5,446.1 123.5,446.8 123.5,447.6 123.5,448.3 123.5,449.1 123.5,449.8 123.5,450.5 123.5,451.3 123.5,452 123.5,452.7 123.5,453.5 123.5,454.2 123.5,454.9 123.5,455.7 123.5,456.4 123.5,457.1 123.5,457.9 123.5,458.6 123.5,459.4 123.5,460.1 123.5,460.8 123.5,461.6 123.5,462.3 123.5,463 123.5,463.8 123.5,464.5 123.5,465.2 123.5,466 123.5,466.7 123.5,467.4 123.5,468.2 123.5,468.9 123.5,469.6 123.5,470.4 123.5,471.1 123.5,471.9 123.5,472.6 123.5,473.3 123.5,474.1 123.5,474.8 123.5,475.5 123.5,476.3 123.5,477 123.5,477.7 123.5,478.5 123.5,479.2 123.5,479.9 123.5,480.7 123.5,481.4 123.5,482.2 123.5,482.9 123.5,483.6 123.5,484.4 123.5,485.1 123.5,485.8 123.5,486.6 123.5,487.3 123.5,488 123.5,488.8 123.5,489.5 123.5,490.2 123.5,491 123.5,491.7 123.5,492.4 123.5,493.2 123.5,493.9 123.5,494.7 123.6,495.4 123.6,496.1 123.6,496.9 123.6,497.6 123.6,498.3 123.7,499.1 123.7,499.8 123.7,500.5 123.8,501.3 123.9,502 124,502.7 124.1,503.5 124.2,504.2 124.4,504.9 124.6,505.7 124.9,506.4 125.2,507.2 125.6,507.9 126.1,508.6 126.7,509.4 127.4,510.1 128.4,510.8 129.5,511.6 130.9,512.3 132.7,513 134.8,513.8 137.2,514.5 139.7,515.2 141.7,516 142.5,516.7 141.3,517.5 138.2,518.2 133.9,518.9 129.8,519.7 126.7,520.4 124.8,521.1 124,521.9 123.6,522.6 123.5,523.3 L123.5,523.3 123.4,522.6 123,521.9 122.2,521.1 120.3,520.4 117.2,519.7 113.1,518.9 108.8,518.2 105.7,517.5 104.5,516.7 105.3,516 107.3,515.2 109.8,514.5 112.2,513.8 114.3,513 116.1,512.3 117.5,511.6 118.6,510.8 119.6,510.1 120.3,509.4 120.9,508.6 121.4,507.9 121.8,507.2 122.1,506.4 122.4,505.7 122.6,504.9 122.8,504.2 122.9,503.5 123,502.7 123.1,502 123.2,501.3 123.3,500.5 123.3,499.8 123.3,499.1 123.4,498.3 123.4,497.6 123.4,496.9 123.4,496.1 123.4,495.4 123.5,494.7 123.5,493.9 123.5,493.2 123.5,492.4 123.5,491.7 123.5,491 123.5,490.2 123.5,489.5 123.5,488.8 123.5,488 123.5,487.3 123.5,486.6 123.5,485.8 123.5,485.1 123.5,484.4 123.5,483.6 123.5,482.9 123.5,482.2 123.5,481.4 123.5,480.7 123.5,479.9 123.5,479.2 123.5,478.5 123.5,477.7 123.5,477 123.5,476.3 123.5,475.5 123.5,474.8 123.5,474.1 123.5,473.3 123.5,472.6 123.5,471.9 123.5,471.1 123.5,470.4 123.5,469.6 123.5,468.9 123.5,468.2 123.5,467.4 123.5,466.7 123.5,466 123.5,465.2 123.5,464.5 123.5,463.8 123.5,463 123.5,462.3 123.5,461.6 123.5,460.8 123.5,460.1 123.5,459.4 123.5,458.6 123.5,457.9 123.5,457.1 123.5,456.4 123.5,455.7 123.5,454.9 123.5,454.2 123.5,453.5 123.5,452.7 123.5,452 123.5,451.3 123.5,450.5 123.5,449.8 123.5,449.1 123.5,448.3 123.5,447.6 123.5,446.8 123.5,446.1 123.5,445.4 123.5,444.6 123.5,443.9 123.5,443.2 123.5,442.4 123.5,441.7 123.5,441 123.5,440.2 123.5,439.5 123.5,438.8 123.5,438 123.5,437.3 123.5,436.6 123.5,435.8 123.5,435.1 123.5,434.3 123.5,433.6 123.5,432.9 123.5,432.1 123.5,431.4 123.5,430.7 123.5,429.9 123.5,429.2 123.5,428.5 123.5,427.7 123.5,427 123.5,426.3 123.5,425.5 123.5,424.8 123.5,424.1 123.5,423.3 123.5,422.6 123.5,421.8 123.5,421.1 123.5,420.4 123.5,419.6 123.5,418.9 123.5,418.2 123.5,417.4 123.5,416.7 123.5,416 123.5,415.2 123.5,414.5 123.5,413.8 123.5,413 123.5,412.3 123.5,411.5 123.5,410.8 123.5,410.1 123.5,409.3 123.5,408.6 123.5,407.9 123.5,407.1 123.5,406.4 Z" fill="none" stroke="#ec2226" stroke-width="1.8" stroke-linejoin="round"/>
<line x1="106.5" y1="517.6" x2="140.5" y2="517.6" stroke="#000" stroke-width="1.3"/>
<line x1="107.1" y1="515.4" x2="139.9" y2="515.4" stroke="#000" stroke-width="1.3"/>
<line x1="113.9" y1="513.3" x2="133.1" y2="513.3" stroke="#000" stroke-width="1.3"/>
<line x1="76.4" y1="404.2" x2="109.2" y2="404.2" stroke="#111" stroke-width="2"/>
<polygon points="87,394.9 86.4,396.4 84.8,396.2 85.8,397.4 84.8,398.7 86.4,398.5 87,400 87.6,398.5 89.2,398.7 88.3,397.4 89.2,396.2 87.6,396.4" fill="#111"/>
<polygon points="92.3,394.9 91.7,396.4 90.1,396.2 91.1,397.4 90.1,398.7 91.7,398.5 92.3,400 92.9,398.5 94.5,398.7 93.6,397.4 94.5,396.2 92.9,396.4" fill="#111"/>
<polygon points="97.6,394.9 97,396.4 95.4,396.2 96.4,397.4 95.4,398.7 97,398.5 97.6,400 98.2,398.5 99.8,398.7 98.9,397.4 99.8,396.2 98.2,396.4" fill="#111"/>
<text transform="translate(8.8,466.7) rotate(-90)" class="t yl m">AST/ALT</text>
<text transform="translate(66.5,537.3) rotate(-45)" class="t cl e">Normal</text>
<text transform="translate(127.5,537.3) rotate(-45)" class="t cl e">MASLD</text>
<text x="12.9" y="598.4" class="lt">D</text>
<line x1="32.0" y1="611.9" x2="32.0" y2="735.6" stroke="#1a1a1a" stroke-width="1.45"/>
<line x1="27.4" y1="734.9" x2="150.6" y2="734.9" stroke="#1a1a1a" stroke-width="1.45"/>
<line x1="27.4" y1="734.9" x2="32.0" y2="734.9" stroke="#1a1a1a" stroke-width="1.3"/>
<text x="25.7" y="738.2" class="t vt e">0</text>
<line x1="27.4" y1="710.3" x2="32.0" y2="710.3" stroke="#1a1a1a" stroke-width="1.3"/>
<text x="25.7" y="713.6" class="t vt e">5</text>
<line x1="27.4" y1="685.7" x2="32.0" y2="685.7" stroke="#1a1a1a" stroke-width="1.3"/>
<text x="25.7" y="689" class="t vt e">10</text>
<line x1="27.4" y1="661.1" x2="32.0" y2="661.1" stroke="#1a1a1a" stroke-width="1.3"/>
<text x="25.7" y="664.4" class="t vt e">15</text>
<line x1="27.4" y1="636.5" x2="32.0" y2="636.5" stroke="#1a1a1a" stroke-width="1.3"/>
<text x="25.7" y="639.8" class="t vt e">20</text>
<line x1="27.4" y1="611.9" x2="32.0" y2="611.9" stroke="#1a1a1a" stroke-width="1.3"/>
<text x="25.7" y="615.2" class="t vt e">25</text>
<line x1="62.5" y1="734.9" x2="62.5" y2="738.6999999999999" stroke="#222" stroke-width="1.3"/>
<line x1="123.8" y1="734.9" x2="123.8" y2="738.6999999999999" stroke="#222" stroke-width="1.3"/>
<path d="M62.5,619.3 62.5,619.9 62.5,620.6 62.5,621.2 62.5,621.9 62.5,622.5 62.5,623.2 62.5,623.9 62.5,624.5 62.5,625.2 62.5,625.8 62.5,626.5 62.5,627.1 62.5,627.8 62.5,628.4 62.5,629.1 62.5,629.7 62.5,630.4 62.5,631 62.5,631.7 62.5,632.3 62.5,633 62.5,633.6 62.5,634.3 62.5,634.9 62.5,635.6 62.5,636.3 62.5,636.9 62.5,637.6 62.5,638.2 62.5,638.9 62.5,639.5 62.5,640.2 62.5,640.8 62.5,641.5 62.5,642.1 62.5,642.8 62.5,643.4 62.5,644.1 62.5,644.7 62.5,645.4 62.5,646 62.5,646.7 62.5,647.4 62.5,648 62.5,648.7 62.5,649.3 62.5,650 62.5,650.6 62.5,651.3 62.5,651.9 62.5,652.6 62.5,653.2 62.5,653.9 62.5,654.5 62.5,655.2 62.5,655.8 62.5,656.5 62.5,657.1 62.5,657.8 62.5,658.5 62.5,659.1 62.5,659.8 62.5,660.4 62.5,661.1 62.5,661.7 62.5,662.4 62.5,663 62.5,663.7 62.5,664.3 62.5,665 62.5,665.6 62.5,666.3 62.5,666.9 62.5,667.6 62.5,668.2 62.5,668.9 62.5,669.6 62.5,670.2 62.5,670.9 62.5,671.5 62.5,672.2 62.5,672.8 62.5,673.5 62.5,674.1 62.5,674.8 62.5,675.4 62.5,676.1 62.5,676.7 62.5,677.4 62.5,678 62.5,678.7 62.5,679.3 62.5,680 62.5,680.7 62.5,681.3 62.5,682 62.5,682.6 62.5,683.3 62.5,683.9 62.5,684.6 62.5,685.2 62.5,685.9 62.5,686.5 62.5,687.2 62.5,687.8 62.5,688.5 62.5,689.1 62.5,689.8 62.5,690.4 62.5,691.1 62.5,691.8 62.5,692.4 62.5,693.1 62.5,693.7 62.5,694.4 62.5,695 62.5,695.7 62.5,696.3 62.5,697 62.6,697.6 62.6,698.3 62.6,698.9 62.6,699.6 62.7,700.2 62.8,700.9 62.9,701.5 63,702.2 63.3,702.9 63.6,703.5 64,704.2 64.6,704.8 65.4,705.5 66.6,706.1 68.2,706.8 70.3,707.4 73.1,708.1 76.2,708.7 79.2,709.4 81.2,710 81.2,710.7 78.9,711.3 74.9,712 70.4,712.6 66.7,713.3 64.4,714 63.2,714.6 62.7,715.3 62.6,715.9 62.5,716.6 62.5,717.2 62.5,717.9 62.5,718.5 62.5,719.2 62.5,719.8 62.5,720.5 62.5,721.1 62.5,721.8 62.5,722.4 62.5,723.1 L62.5,723.1 62.5,722.4 62.5,721.8 62.5,721.1 62.5,720.5 62.5,719.8 62.5,719.2 62.5,718.5 62.5,717.9 62.5,717.2 62.5,716.6 62.4,715.9 62.3,715.3 61.8,714.6 60.6,714 58.3,713.3 54.6,712.6 50.1,712 46.1,711.3 43.8,710.7 43.8,710 45.8,709.4 48.8,708.7 51.9,708.1 54.7,707.4 56.8,706.8 58.4,706.1 59.6,705.5 60.4,704.8 61,704.2 61.4,703.5 61.7,702.9 62,702.2 62.1,701.5 62.2,700.9 62.3,700.2 62.4,699.6 62.4,698.9 62.4,698.3 62.4,697.6 62.5,697 62.5,696.3 62.5,695.7 62.5,695 62.5,694.4 62.5,693.7 62.5,693.1 62.5,692.4 62.5,691.8 62.5,691.1 62.5,690.4 62.5,689.8 62.5,689.1 62.5,688.5 62.5,687.8 62.5,687.2 62.5,686.5 62.5,685.9 62.5,685.2 62.5,684.6 62.5,683.9 62.5,683.3 62.5,682.6 62.5,682 62.5,681.3 62.5,680.7 62.5,680 62.5,679.3 62.5,678.7 62.5,678 62.5,677.4 62.5,676.7 62.5,676.1 62.5,675.4 62.5,674.8 62.5,674.1 62.5,673.5 62.5,672.8 62.5,672.2 62.5,671.5 62.5,670.9 62.5,670.2 62.5,669.6 62.5,668.9 62.5,668.2 62.5,667.6 62.5,666.9 62.5,666.3 62.5,665.6 62.5,665 62.5,664.3 62.5,663.7 62.5,663 62.5,662.4 62.5,661.7 62.5,661.1 62.5,660.4 62.5,659.8 62.5,659.1 62.5,658.5 62.5,657.8 62.5,657.1 62.5,656.5 62.5,655.8 62.5,655.2 62.5,654.5 62.5,653.9 62.5,653.2 62.5,652.6 62.5,651.9 62.5,651.3 62.5,650.6 62.5,650 62.5,649.3 62.5,648.7 62.5,648 62.5,647.4 62.5,646.7 62.5,646 62.5,645.4 62.5,644.7 62.5,644.1 62.5,643.4 62.5,642.8 62.5,642.1 62.5,641.5 62.5,640.8 62.5,640.2 62.5,639.5 62.5,638.9 62.5,638.2 62.5,637.6 62.5,636.9 62.5,636.3 62.5,635.6 62.5,634.9 62.5,634.3 62.5,633.6 62.5,633 62.5,632.3 62.5,631.7 62.5,631 62.5,630.4 62.5,629.7 62.5,629.1 62.5,628.4 62.5,627.8 62.5,627.1 62.5,626.5 62.5,625.8 62.5,625.2 62.5,624.5 62.5,623.9 62.5,623.2 62.5,622.5 62.5,621.9 62.5,621.2 62.5,620.6 62.5,619.9 62.5,619.3 Z" fill="none" stroke="#f39ea1" stroke-width="1.8" stroke-linejoin="round"/>
<line x1="46.1" y1="711.3" x2="78.9" y2="711.3" stroke="#000" stroke-width="1.3"/>
<line x1="44.6" y1="709.8" x2="80.4" y2="709.8" stroke="#000" stroke-width="1.3"/>
<line x1="53.3" y1="707.8" x2="71.7" y2="707.8" stroke="#000" stroke-width="1.3"/>
<path d="M123.8,627.2 123.8,627.8 123.8,628.4 123.8,629 123.8,629.6 123.8,630.2 123.8,630.8 123.8,631.4 123.8,632 123.8,632.6 123.8,633.2 123.8,633.8 123.8,634.4 123.8,635 123.8,635.6 123.8,636.2 123.8,636.8 123.8,637.4 123.8,638 123.8,638.6 123.8,639.2 123.8,639.8 123.8,640.4 123.8,641 123.8,641.6 123.8,642.2 123.8,642.8 123.8,643.4 123.8,644 123.8,644.6 123.8,645.2 123.8,645.8 123.8,646.4 123.8,647 123.8,647.6 123.8,648.2 123.8,648.8 123.8,649.4 123.8,650 123.8,650.6 123.8,651.2 123.8,651.8 123.8,652.4 123.8,653 123.8,653.6 123.8,654.2 123.8,654.8 123.8,655.4 123.8,656 123.8,656.6 123.8,657.2 123.8,657.8 123.8,658.4 123.8,659 123.8,659.6 123.8,660.2 123.8,660.8 123.8,661.4 123.8,662 123.8,662.6 123.8,663.2 123.8,663.8 123.8,664.4 123.8,665 123.8,665.6 123.8,666.2 123.8,666.8 123.8,667.4 123.8,668 123.8,668.6 123.8,669.2 123.8,669.8 123.8,670.4 123.8,671 123.8,671.6 123.8,672.2 123.8,672.8 123.8,673.4 123.8,674 123.8,674.6 123.8,675.2 123.8,675.8 123.8,676.4 123.8,677 123.8,677.6 123.8,678.2 123.8,678.8 123.8,679.4 123.8,680 123.8,680.6 123.8,681.2 123.8,681.8 123.8,682.4 123.8,683 123.8,683.6 123.8,684.2 123.8,684.8 123.8,685.4 123.8,686 123.8,686.6 123.8,687.2 123.8,687.8 123.8,688.4 123.8,689 123.8,689.6 123.8,690.2 123.8,690.8 123.8,691.4 123.9,692 123.9,692.6 123.9,693.2 123.9,693.8 123.9,694.4 124,695 124,695.6 124.1,696.2 124.2,696.8 124.3,697.4 124.4,698 124.5,698.6 124.7,699.2 124.9,699.8 125.2,700.4 125.6,701 126,701.6 126.6,702.2 127.3,702.8 128.2,703.4 129.2,704 130.6,704.6 132.2,705.2 134.1,705.8 136.2,706.4 138.4,707 140.4,707.6 142,708.2 142.8,708.8 142.4,709.4 141,710 138.5,710.6 135.5,711.2 132.3,711.8 129.5,712.4 127.3,713 125.8,713.6 124.8,714.2 124.3,714.8 124,715.4 123.9,716 123.8,716.6 123.8,717.2 123.8,717.8 123.8,718.4 123.8,719 123.8,719.6 123.8,720.2 123.8,720.8 123.8,721.4 123.8,722 123.8,722.6 L123.8,722.6 123.8,722 123.8,721.4 123.8,720.8 123.8,720.2 123.8,719.6 123.8,719 123.8,718.4 123.8,717.8 123.8,717.2 123.8,716.6 123.7,716 123.6,715.4 123.3,714.8 122.8,714.2 121.8,713.6 120.3,713 118.1,712.4 115.3,711.8 112.1,711.2 109.1,710.6 106.6,710 105.2,709.4 104.8,708.8 105.6,708.2 107.2,707.6 109.2,707 111.4,706.4 113.5,705.8 115.4,705.2 117,704.6 118.4,704 119.4,703.4 120.3,702.8 121,702.2 121.6,701.6 122,701 122.4,700.4 122.7,699.8 122.9,699.2 123.1,698.6 123.2,698 123.3,697.4 123.4,696.8 123.5,696.2 123.6,695.6 123.6,695 123.7,694.4 123.7,693.8 123.7,693.2 123.7,692.6 123.7,692 123.8,691.4 123.8,690.8 123.8,690.2 123.8,689.6 123.8,689 123.8,688.4 123.8,687.8 123.8,687.2 123.8,686.6 123.8,686 123.8,685.4 123.8,684.8 123.8,684.2 123.8,683.6 123.8,683 123.8,682.4 123.8,681.8 123.8,681.2 123.8,680.6 123.8,680 123.8,679.4 123.8,678.8 123.8,678.2 123.8,677.6 123.8,677 123.8,676.4 123.8,675.8 123.8,675.2 123.8,674.6 123.8,674 123.8,673.4 123.8,672.8 123.8,672.2 123.8,671.6 123.8,671 123.8,670.4 123.8,669.8 123.8,669.2 123.8,668.6 123.8,668 123.8,667.4 123.8,666.8 123.8,666.2 123.8,665.6 123.8,665 123.8,664.4 123.8,663.8 123.8,663.2 123.8,662.6 123.8,662 123.8,661.4 123.8,660.8 123.8,660.2 123.8,659.6 123.8,659 123.8,658.4 123.8,657.8 123.8,657.2 123.8,656.6 123.8,656 123.8,655.4 123.8,654.8 123.8,654.2 123.8,653.6 123.8,653 123.8,652.4 123.8,651.8 123.8,651.2 123.8,650.6 123.8,650 123.8,649.4 123.8,648.8 123.8,648.2 123.8,647.6 123.8,647 123.8,646.4 123.8,645.8 123.8,645.2 123.8,644.6 123.8,644 123.8,643.4 123.8,642.8 123.8,642.2 123.8,641.6 123.8,641 123.8,640.4 123.8,639.8 123.8,639.2 123.8,638.6 123.8,638 123.8,637.4 123.8,636.8 123.8,636.2 123.8,635.6 123.8,635 123.8,634.4 123.8,633.8 123.8,633.2 123.8,632.6 123.8,632 123.8,631.4 123.8,630.8 123.8,630.2 123.8,629.6 123.8,629 123.8,628.4 123.8,627.8 123.8,627.2 Z" fill="none" stroke="#ec2226" stroke-width="1.8" stroke-linejoin="round"/>
<line x1="108.1" y1="710.3" x2="139.5" y2="710.3" stroke="#000" stroke-width="1.3"/>
<line x1="106.9" y1="707.8" x2="140.7" y2="707.8" stroke="#000" stroke-width="1.3"/>
<line x1="113.7" y1="705.8" x2="133.9" y2="705.8" stroke="#000" stroke-width="1.3"/>
<line x1="77.7" y1="615.8" x2="110.4" y2="615.8" stroke="#111" stroke-width="2"/>
<polygon points="88.3,606.5 87.6,608 86,607.8 87,609 86,610.3 87.6,610.1 88.3,611.6 88.9,610.1 90.5,610.3 89.5,609 90.5,607.8 88.9,608" fill="#111"/>
<polygon points="93.6,606.5 92.9,608 91.3,607.8 92.3,609 91.3,610.3 92.9,610.1 93.6,611.6 94.2,610.1 95.8,610.3 94.8,609 95.8,607.8 94.2,608" fill="#111"/>
<polygon points="98.9,606.5 98.2,608 96.6,607.8 97.6,609 96.6,610.3 98.2,610.1 98.9,611.6 99.5,610.1 101.1,610.3 100.1,609 101.1,607.8 99.5,608" fill="#111"/>
<text transform="translate(8.8,673.7) rotate(-90)" class="t yl m">FBG (mmol/L)</text>
<text transform="translate(66.5,746.6) rotate(-45)" class="t cl e">Normal</text>
<text transform="translate(127.8,746.6) rotate(-45)" class="t cl e">MASLD</text>
<text x="13.6" y="817.1" class="lt">E</text>
<line x1="35.5" y1="827.4" x2="35.5" y2="948.1" stroke="#1a1a1a" stroke-width="1.45"/>
<line x1="30.9" y1="947.4" x2="150.6" y2="947.4" stroke="#1a1a1a" stroke-width="1.45"/>
<line x1="30.9" y1="947.4" x2="35.5" y2="947.4" stroke="#1a1a1a" stroke-width="1.3"/>
<text x="29.2" y="950.7" class="t vt e">0</text>
<line x1="30.9" y1="899.4" x2="35.5" y2="899.4" stroke="#1a1a1a" stroke-width="1.3"/>
<text x="29.2" y="902.7" class="t vt e">100</text>
<line x1="30.9" y1="851.4" x2="35.5" y2="851.4" stroke="#1a1a1a" stroke-width="1.3"/>
<text x="29.2" y="854.7" class="t vt e">200</text>
<line x1="32.7" y1="923.4" x2="35.5" y2="923.4" stroke="#222" stroke-width="1.3"/>
<line x1="32.7" y1="875.4" x2="35.5" y2="875.4" stroke="#222" stroke-width="1.3"/>
<line x1="32.7" y1="827.4" x2="35.5" y2="827.4" stroke="#222" stroke-width="1.3"/>
<line x1="64.9" y1="947.4" x2="64.9" y2="951.1999999999999" stroke="#222" stroke-width="1.3"/>
<line x1="124.6" y1="947.4" x2="124.6" y2="951.1999999999999" stroke="#222" stroke-width="1.3"/>
<path d="M64.9,829.5 64.9,830.1 64.9,830.7 64.9,831.3 64.9,831.9 64.9,832.4 64.9,833 64.9,833.6 64.9,834.2 64.9,834.8 64.9,835.4 64.9,836 64.9,836.5 64.9,837.1 64.9,837.7 64.9,838.3 64.9,838.9 64.9,839.5 64.9,840 64.9,840.6 64.9,841.2 64.9,841.8 64.9,842.4 65,843 65,843.6 65,844.1 65,844.7 65,845.3 65,845.9 65,846.5 65,847.1 65,847.7 65,848.2 65,848.8 65,849.4 65,850 65,850.6 65,851.2 65.1,851.8 65.1,852.3 65.1,852.9 65.1,853.5 65.1,854.1 65.1,854.7 65.1,855.3 65.2,855.9 65.2,856.4 65.2,857 65.2,857.6 65.2,858.2 65.3,858.8 65.3,859.4 65.3,860 65.4,860.5 65.4,861.1 65.4,861.7 65.5,862.3 65.5,862.9 65.6,863.5 65.6,864 65.7,864.6 65.7,865.2 65.8,865.8 65.9,866.4 65.9,867 66,867.6 66.1,868.1 66.2,868.7 66.3,869.3 66.4,869.9 66.5,870.5 66.6,871.1 66.8,871.7 66.9,872.2 67,872.8 67.2,873.4 67.4,874 67.6,874.6 67.8,875.2 68,875.8 68.2,876.3 68.5,876.9 68.8,877.5 69.1,878.1 69.4,878.7 69.7,879.3 70.1,879.9 70.5,880.4 70.9,881 71.4,881.6 71.8,882.2 72.4,882.8 72.9,883.4 73.5,884 74.1,884.5 74.8,885.1 75.5,885.7 76.2,886.3 77,886.9 77.7,887.5 78.5,888 79.3,888.6 80.1,889.2 80.8,889.8 81.5,890.4 82.1,891 82.7,891.6 83.2,892.1 83.6,892.7 83.8,893.3 83.9,893.9 83.8,894.5 83.6,895.1 83.3,895.7 82.7,896.2 82.1,896.8 81.3,897.4 80.3,898 79.3,898.6 78.2,899.2 77,899.8 75.9,900.3 74.7,900.9 73.5,901.5 72.4,902.1 71.4,902.7 70.4,903.3 69.6,903.9 68.8,904.4 68.1,905 67.5,905.6 67,906.2 66.5,906.8 66.2,907.4 65.9,908 65.6,908.5 65.5,909.1 65.3,909.7 65.2,910.3 65.1,910.9 65.1,911.5 65,912 65,912.6 65,913.2 64.9,913.8 64.9,914.4 64.9,915 64.9,915.6 64.9,916.1 64.9,916.7 64.9,917.3 64.9,917.9 64.9,918.5 64.9,919.1 64.9,919.7 64.9,920.2 64.9,920.8 64.9,921.4 64.9,922 64.9,922.6 L64.9,922.6 64.9,922 64.9,921.4 64.9,920.8 64.9,920.2 64.9,919.7 64.9,919.1 64.9,918.5 64.9,917.9 64.9,917.3 64.9,916.7 64.9,916.1 64.9,915.6 64.9,915 64.9,914.4 64.9,913.8 64.8,913.2 64.8,912.6 64.8,912 64.7,911.5 64.7,910.9 64.6,910.3 64.5,909.7 64.3,909.1 64.2,908.5 63.9,908 63.6,907.4 63.3,906.8 62.8,906.2 62.3,905.6 61.7,905 61,904.4 60.2,903.9 59.4,903.3 58.4,902.7 57.4,902.1 56.3,901.5 55.1,900.9 53.9,900.3 52.8,899.8 51.6,899.2 50.5,898.6 49.5,898 48.5,897.4 47.7,896.8 47.1,896.2 46.5,895.7 46.2,895.1 46,894.5 45.9,893.9 46,893.3 46.2,892.7 46.6,892.1 47.1,891.6 47.7,891 48.3,890.4 49,889.8 49.7,889.2 50.5,888.6 51.3,888 52.1,887.5 52.8,886.9 53.6,886.3 54.3,885.7 55,885.1 55.7,884.5 56.3,884 56.9,883.4 57.4,882.8 58,882.2 58.4,881.6 58.9,881 59.3,880.4 59.7,879.9 60.1,879.3 60.4,878.7 60.7,878.1 61,877.5 61.3,876.9 61.6,876.3 61.8,875.8 62,875.2 62.2,874.6 62.4,874 62.6,873.4 62.8,872.8 62.9,872.2 63,871.7 63.2,871.1 63.3,870.5 63.4,869.9 63.5,869.3 63.6,868.7 63.7,868.1 63.8,867.6 63.9,867 63.9,866.4 64,865.8 64.1,865.2 64.1,864.6 64.2,864 64.2,863.5 64.3,862.9 64.3,862.3 64.4,861.7 64.4,861.1 64.4,860.5 64.5,860 64.5,859.4 64.5,858.8 64.6,858.2 64.6,857.6 64.6,857 64.6,856.4 64.6,855.9 64.7,855.3 64.7,854.7 64.7,854.1 64.7,853.5 64.7,852.9 64.7,852.3 64.7,851.8 64.8,851.2 64.8,850.6 64.8,850 64.8,849.4 64.8,848.8 64.8,848.2 64.8,847.7 64.8,847.1 64.8,846.5 64.8,845.9 64.8,845.3 64.8,844.7 64.8,844.1 64.8,843.6 64.8,843 64.9,842.4 64.9,841.8 64.9,841.2 64.9,840.6 64.9,840 64.9,839.5 64.9,838.9 64.9,838.3 64.9,837.7 64.9,837.1 64.9,836.5 64.9,836 64.9,835.4 64.9,834.8 64.9,834.2 64.9,833.6 64.9,833 64.9,832.4 64.9,831.9 64.9,831.3 64.9,830.7 64.9,830.1 64.9,829.5 Z" fill="none" stroke="#f39ea1" stroke-width="1.8" stroke-linejoin="round"/>
<line x1="48" y1="896.8" x2="81.8" y2="896.8" stroke="#000" stroke-width="1.3"/>
<line x1="47" y1="892" x2="82.8" y2="892" stroke="#000" stroke-width="1.3"/>
<line x1="54.2" y1="886" x2="75.6" y2="886" stroke="#000" stroke-width="1.3"/>
<path d="M124.7,877 124.7,877.3 124.7,877.7 124.7,878 124.7,878.4 124.7,878.7 124.7,879.1 124.7,879.4 124.7,879.8 124.8,880.1 124.8,880.5 124.8,880.8 124.8,881.2 124.8,881.5 124.8,881.9 124.8,882.2 124.8,882.6 124.9,882.9 124.9,883.3 124.9,883.6 124.9,884 124.9,884.3 124.9,884.7 125,885 125,885.4 125,885.7 125,886.1 125.1,886.4 125.1,886.8 125.1,887.1 125.1,887.5 125.2,887.8 125.2,888.2 125.2,888.5 125.3,888.9 125.3,889.2 125.4,889.6 125.4,889.9 125.5,890.3 125.5,890.6 125.6,891 125.6,891.3 125.7,891.7 125.8,892 125.8,892.4 125.9,892.7 126,893.1 126.1,893.4 126.1,893.7 126.2,894.1 126.3,894.4 126.4,894.8 126.6,895.1 126.7,895.5 126.8,895.8 126.9,896.2 127.1,896.5 127.2,896.9 127.4,897.2 127.5,897.6 127.7,897.9 127.9,898.3 128.1,898.6 128.3,899 128.5,899.3 128.8,899.7 129,900 129.3,900.4 129.6,900.7 129.9,901.1 130.2,901.4 130.5,901.8 130.9,902.1 131.3,902.5 131.7,902.8 132.1,903.2 132.5,903.5 133,903.9 133.5,904.2 134,904.6 134.5,904.9 135,905.3 135.6,905.6 136.2,906 136.8,906.3 137.4,906.7 138,907 138.6,907.4 139.3,907.7 139.9,908.1 140.5,908.4 141,908.8 141.6,909.1 142,909.5 142.5,909.8 142.9,910.2 143.2,910.5 143.4,910.9 143.5,911.2 143.6,911.6 143.6,911.9 143.4,912.3 143.2,912.6 142.8,913 142.4,913.3 141.8,913.7 141.2,914 140.5,914.4 139.7,914.7 138.9,915.1 138,915.4 137.1,915.8 136.2,916.1 135.3,916.5 134.3,916.8 133.4,917.2 132.5,917.5 131.7,917.9 130.9,918.2 130.1,918.5 129.4,918.9 128.7,919.2 128.2,919.6 127.6,919.9 127.2,920.3 126.7,920.6 126.4,921 126.1,921.3 125.8,921.7 125.6,922 125.4,922.4 125.2,922.7 125.1,923.1 125,923.4 124.9,923.8 124.8,924.1 124.8,924.5 124.7,924.8 124.7,925.2 124.7,925.5 124.7,925.9 124.6,926.2 124.6,926.6 124.6,926.9 124.6,927.3 124.6,927.6 124.6,928 124.6,928.3 124.6,928.7 124.6,929 124.6,929.4 124.6,929.7 124.6,930.1 124.6,930.4 124.6,930.8 124.6,931.1 124.6,931.5 124.6,931.8 124.6,932.2 124.6,932.5 L124.6,932.5 124.6,932.2 124.6,931.8 124.6,931.5 124.6,931.1 124.6,930.8 124.6,930.4 124.6,930.1 124.6,929.7 124.6,929.4 124.6,929 124.6,928.7 124.6,928.3 124.6,928 124.6,927.6 124.6,927.3 124.6,926.9 124.6,926.6 124.6,926.2 124.5,925.9 124.5,925.5 124.5,925.2 124.5,924.8 124.4,924.5 124.4,924.1 124.3,923.8 124.2,923.4 124.1,923.1 124,922.7 123.8,922.4 123.6,922 123.4,921.7 123.1,921.3 122.8,921 122.5,920.6 122,920.3 121.6,919.9 121,919.6 120.5,919.2 119.8,918.9 119.1,918.5 118.3,918.2 117.5,917.9 116.7,917.5 115.8,917.2 114.9,916.8 113.9,916.5 113,916.1 112.1,915.8 111.2,915.4 110.3,915.1 109.5,914.7 108.7,914.4 108,914 107.4,913.7 106.8,913.3 106.4,913 106,912.6 105.8,912.3 105.6,911.9 105.6,911.6 105.7,911.2 105.8,910.9 106,910.5 106.3,910.2 106.7,909.8 107.2,909.5 107.6,909.1 108.2,908.8 108.7,908.4 109.3,908.1 109.9,907.7 110.6,907.4 111.2,907 111.8,906.7 112.4,906.3 113,906 113.6,905.6 114.2,905.3 114.7,904.9 115.2,904.6 115.7,904.2 116.2,903.9 116.7,903.5 117.1,903.2 117.5,902.8 117.9,902.5 118.3,902.1 118.7,901.8 119,901.4 119.3,901.1 119.6,900.7 119.9,900.4 120.2,900 120.4,899.7 120.7,899.3 120.9,899 121.1,898.6 121.3,898.3 121.5,897.9 121.7,897.6 121.8,897.2 122,896.9 122.1,896.5 122.3,896.2 122.4,895.8 122.5,895.5 122.6,895.1 122.8,894.8 122.9,894.4 123,894.1 123.1,893.7 123.1,893.4 123.2,893.1 123.3,892.7 123.4,892.4 123.4,892 123.5,891.7 123.6,891.3 123.6,891 123.7,890.6 123.7,890.3 123.8,889.9 123.8,889.6 123.9,889.2 123.9,888.9 124,888.5 124,888.2 124,887.8 124.1,887.5 124.1,887.1 124.1,886.8 124.1,886.4 124.2,886.1 124.2,885.7 124.2,885.4 124.2,885 124.3,884.7 124.3,884.3 124.3,884 124.3,883.6 124.3,883.3 124.3,882.9 124.4,882.6 124.4,882.2 124.4,881.9 124.4,881.5 124.4,881.2 124.4,880.8 124.4,880.5 124.4,880.1 124.5,879.8 124.5,879.4 124.5,879.1 124.5,878.7 124.5,878.4 124.5,878 124.5,877.7 124.5,877.3 124.5,877 Z" fill="none" stroke="#ec2226" stroke-width="1.8" stroke-linejoin="round"/>
<line x1="107.7" y1="913.7" x2="141.5" y2="913.7" stroke="#000" stroke-width="1.3"/>
<line x1="106.7" y1="910.1" x2="142.5" y2="910.1" stroke="#000" stroke-width="1.3"/>
<line x1="114" y1="905.6" x2="135.2" y2="905.6" stroke="#000" stroke-width="1.3"/>
<line x1="80.1" y1="826.5" x2="111.7" y2="826.5" stroke="#111" stroke-width="2"/>
<polygon points="90.1,817.2 89.5,818.7 87.9,818.5 88.9,819.8 87.9,821 89.5,820.8 90.1,822.3 90.7,820.8 92.3,821 91.4,819.8 92.3,818.5 90.7,818.7" fill="#111"/>
<polygon points="95.4,817.2 94.8,818.7 93.2,818.5 94.2,819.8 93.2,821 94.8,820.8 95.4,822.3 96,820.8 97.6,821 96.7,819.8 97.6,818.5 96,818.7" fill="#111"/>
<polygon points="100.7,817.2 100.1,818.7 98.5,818.5 99.5,819.8 98.5,821 100.1,820.8 100.7,822.3 101.3,820.8 102.9,821 102,819.8 102.9,818.5 101.3,818.7" fill="#111"/>
<text transform="translate(8.8,887.4) rotate(-90)" class="t yl m">SBP (mmHg)</text>
<text transform="translate(68.9,959.1) rotate(-45)" class="t cl e">Normal</text>
<text transform="translate(128.6,959.1) rotate(-45)" class="t cl e">MASLD</text>
<text x="352.3" y="11.8" class="lt">F</text>
<line x1="393.4" y1="23.1" x2="393.4" y2="147.0" stroke="#1a1a1a" stroke-width="1.45"/>
<line x1="388.79999999999995" y1="146.3" x2="512.1" y2="146.3" stroke="#1a1a1a" stroke-width="1.45"/>
<line x1="388.79999999999995" y1="146.3" x2="393.4" y2="146.3" stroke="#1a1a1a" stroke-width="1.3"/>
<text x="387.09999999999997" y="149.6" class="t vt e">0</text>
<line x1="388.79999999999995" y1="115.5" x2="393.4" y2="115.5" stroke="#1a1a1a" stroke-width="1.3"/>
<text x="387.09999999999997" y="118.8" class="t vt e">50</text>
<line x1="388.79999999999995" y1="84.7" x2="393.4" y2="84.7" stroke="#1a1a1a" stroke-width="1.3"/>
<text x="387.09999999999997" y="88" class="t vt e">100</text>
<line x1="388.79999999999995" y1="53.9" x2="393.4" y2="53.9" stroke="#1a1a1a" stroke-width="1.3"/>
<text x="387.09999999999997" y="57.2" class="t vt e">150</text>
<line x1="388.79999999999995" y1="23.1" x2="393.4" y2="23.1" stroke="#1a1a1a" stroke-width="1.3"/>
<text x="387.09999999999997" y="26.4" class="t vt e">200</text>
<line x1="422.8" y1="146.3" x2="422.8" y2="150.10000000000002" stroke="#222" stroke-width="1.3"/>
<line x1="482.8" y1="146.3" x2="482.8" y2="150.10000000000002" stroke="#222" stroke-width="1.3"/>
<path d="M422.8,54.3 422.8,54.7 422.8,55.2 422.8,55.6 422.8,56.1 422.8,56.5 422.8,57 422.8,57.4 422.8,57.8 422.8,58.3 422.8,58.7 422.8,59.2 422.8,59.6 422.8,60.1 422.8,60.5 422.8,61 422.8,61.4 422.8,61.9 422.8,62.3 422.8,62.8 422.8,63.2 422.8,63.7 422.8,64.1 422.8,64.6 422.8,65 422.8,65.4 422.8,65.9 422.8,66.3 422.8,66.8 422.8,67.2 422.8,67.7 422.9,68.1 422.9,68.6 422.9,69 422.9,69.5 422.9,69.9 422.9,70.4 422.9,70.8 422.9,71.3 422.9,71.7 422.9,72.2 422.9,72.6 422.9,73 422.9,73.5 423,73.9 423,74.4 423,74.8 423,75.3 423,75.7 423,76.2 423.1,76.6 423.1,77.1 423.1,77.5 423.1,78 423.2,78.4 423.2,78.9 423.2,79.3 423.3,79.8 423.3,80.2 423.4,80.6 423.4,81.1 423.5,81.5 423.5,82 423.6,82.4 423.7,82.9 423.7,83.3 423.8,83.8 423.9,84.2 424,84.7 424.1,85.1 424.2,85.6 424.3,86 424.5,86.5 424.6,86.9 424.8,87.4 424.9,87.8 425.1,88.2 425.3,88.7 425.5,89.1 425.8,89.6 426,90 426.3,90.5 426.6,90.9 427,91.4 427.3,91.8 427.7,92.3 428.1,92.7 428.5,93.2 429,93.6 429.5,94.1 430,94.5 430.6,95 431.2,95.4 431.8,95.8 432.4,96.3 433.1,96.7 433.8,97.2 434.5,97.6 435.2,98.1 436,98.5 436.7,99 437.4,99.4 438.1,99.9 438.7,100.3 439.4,100.8 439.9,101.2 440.4,101.7 440.9,102.1 441.3,102.6 441.5,103 441.7,103.4 441.8,103.9 441.8,104.3 441.6,104.8 441.4,105.2 441.1,105.7 440.6,106.1 440.1,106.6 439.5,107 438.8,107.5 438,107.9 437.2,108.4 436.3,108.8 435.4,109.3 434.5,109.7 433.5,110.2 432.6,110.6 431.7,111 430.8,111.5 430,111.9 429.2,112.4 428.4,112.8 427.7,113.3 427.1,113.7 426.5,114.2 426,114.6 425.5,115.1 425.1,115.5 424.7,116 424.4,116.4 424.1,116.9 423.9,117.3 423.7,117.8 423.5,118.2 423.4,118.6 423.2,119.1 423.2,119.5 423.1,120 423,120.4 423,120.9 422.9,121.3 422.9,121.8 422.9,122.2 422.9,122.7 422.8,123.1 422.8,123.6 422.8,124 422.8,124.5 422.8,124.9 422.8,125.4 L422.8,125.4 422.8,124.9 422.8,124.5 422.8,124 422.8,123.6 422.8,123.1 422.7,122.7 422.7,122.2 422.7,121.8 422.7,121.3 422.6,120.9 422.6,120.4 422.5,120 422.4,119.5 422.4,119.1 422.2,118.6 422.1,118.2 421.9,117.8 421.7,117.3 421.5,116.9 421.2,116.4 420.9,116 420.5,115.5 420.1,115.1 419.6,114.6 419.1,114.2 418.5,113.7 417.9,113.3 417.2,112.8 416.4,112.4 415.6,111.9 414.8,111.5 413.9,111 413,110.6 412.1,110.2 411.1,109.7 410.2,109.3 409.3,108.8 408.4,108.4 407.6,107.9 406.8,107.5 406.1,107 405.5,106.6 405,106.1 404.5,105.7 404.2,105.2 404,104.8 403.8,104.3 403.8,103.9 403.9,103.4 404.1,103 404.3,102.6 404.7,102.1 405.2,101.7 405.7,101.2 406.2,100.8 406.9,100.3 407.5,99.9 408.2,99.4 408.9,99 409.6,98.5 410.4,98.1 411.1,97.6 411.8,97.2 412.5,96.7 413.2,96.3 413.8,95.8 414.4,95.4 415,95 415.6,94.5 416.1,94.1 416.6,93.6 417.1,93.2 417.5,92.7 417.9,92.3 418.3,91.8 418.6,91.4 419,90.9 419.3,90.5 419.6,90 419.8,89.6 420.1,89.1 420.3,88.7 420.5,88.2 420.7,87.8 420.8,87.4 421,86.9 421.1,86.5 421.3,86 421.4,85.6 421.5,85.1 421.6,84.7 421.7,84.2 421.8,83.8 421.9,83.3 421.9,82.9 422,82.4 422.1,82 422.1,81.5 422.2,81.1 422.2,80.6 422.3,80.2 422.3,79.8 422.4,79.3 422.4,78.9 422.4,78.4 422.5,78 422.5,77.5 422.5,77.1 422.5,76.6 422.6,76.2 422.6,75.7 422.6,75.3 422.6,74.8 422.6,74.4 422.6,73.9 422.7,73.5 422.7,73 422.7,72.6 422.7,72.2 422.7,71.7 422.7,71.3 422.7,70.8 422.7,70.4 422.7,69.9 422.7,69.5 422.7,69 422.7,68.6 422.7,68.1 422.8,67.7 422.8,67.2 422.8,66.8 422.8,66.3 422.8,65.9 422.8,65.4 422.8,65 422.8,64.6 422.8,64.1 422.8,63.7 422.8,63.2 422.8,62.8 422.8,62.3 422.8,61.9 422.8,61.4 422.8,61 422.8,60.5 422.8,60.1 422.8,59.6 422.8,59.2 422.8,58.7 422.8,58.3 422.8,57.8 422.8,57.4 422.8,57 422.8,56.5 422.8,56.1 422.8,55.6 422.8,55.2 422.8,54.7 422.8,54.3 Z" fill="none" stroke="#f39ea1" stroke-width="1.8" stroke-linejoin="round"/>
<line x1="406.7" y1="107.2" x2="438.9" y2="107.2" stroke="#000" stroke-width="1.3"/>
<line x1="404.4" y1="103" x2="441.2" y2="103" stroke="#000" stroke-width="1.3"/>
<line x1="410.3" y1="98.3" x2="435.3" y2="98.3" stroke="#000" stroke-width="1.3"/>
<path d="M482.9,55.2 482.9,55.6 482.9,56.1 482.9,56.5 482.9,57 482.9,57.4 482.9,57.9 482.9,58.4 482.9,58.8 482.9,59.3 482.9,59.7 482.9,60.2 483,60.6 483,61.1 483,61.5 483,62 483,62.4 483,62.9 483,63.3 483,63.8 483.1,64.2 483.1,64.7 483.1,65.1 483.1,65.6 483.1,66 483.1,66.5 483.2,66.9 483.2,67.4 483.2,67.8 483.2,68.3 483.3,68.7 483.3,69.2 483.3,69.6 483.4,70.1 483.4,70.5 483.4,71 483.5,71.4 483.5,71.9 483.6,72.3 483.6,72.8 483.7,73.2 483.7,73.7 483.8,74.1 483.8,74.6 483.9,75 484,75.5 484,75.9 484.1,76.4 484.2,76.8 484.3,77.3 484.4,77.7 484.5,78.2 484.6,78.6 484.7,79.1 484.8,79.5 485,80 485.1,80.4 485.2,80.9 485.4,81.3 485.5,81.8 485.7,82.3 485.9,82.7 486.1,83.2 486.3,83.6 486.5,84.1 486.8,84.5 487,85 487.3,85.4 487.6,85.9 487.9,86.3 488.2,86.8 488.5,87.2 488.9,87.7 489.2,88.1 489.6,88.6 490,89 490.5,89.5 491,89.9 491.4,90.4 491.9,90.8 492.5,91.3 493,91.7 493.6,92.2 494.2,92.6 494.8,93.1 495.4,93.5 496,94 496.6,94.4 497.3,94.9 497.9,95.3 498.5,95.8 499.1,96.2 499.6,96.7 500.1,97.1 500.5,97.6 500.9,98 501.3,98.5 501.5,98.9 501.7,99.4 501.8,99.8 501.8,100.3 501.7,100.7 501.5,101.2 501.2,101.6 500.8,102.1 500.4,102.5 499.8,103 499.2,103.4 498.4,103.9 497.7,104.3 496.8,104.8 496,105.2 495.1,105.7 494.2,106.2 493.3,106.6 492.4,107.1 491.5,107.5 490.6,108 489.8,108.4 489,108.9 488.3,109.3 487.6,109.8 487,110.2 486.4,110.7 485.9,111.1 485.4,111.6 485,112 484.7,112.5 484.4,112.9 484.1,113.4 483.9,113.8 483.7,114.3 483.5,114.7 483.4,115.2 483.2,115.6 483.1,116.1 483.1,116.5 483,117 483,117.4 482.9,117.9 482.9,118.3 482.9,118.8 482.9,119.2 482.8,119.7 482.8,120.1 482.8,120.6 482.8,121 482.8,121.5 482.8,121.9 482.8,122.4 482.8,122.8 482.8,123.3 482.8,123.7 482.8,124.2 482.8,124.6 482.8,125.1 482.8,125.5 482.8,126 482.8,126.4 482.8,126.9 L482.8,126.9 482.8,126.4 482.8,126 482.8,125.5 482.8,125.1 482.8,124.6 482.8,124.2 482.8,123.7 482.8,123.3 482.8,122.8 482.8,122.4 482.8,121.9 482.8,121.5 482.8,121 482.8,120.6 482.8,120.1 482.8,119.7 482.7,119.2 482.7,118.8 482.7,118.3 482.7,117.9 482.6,117.4 482.6,117 482.5,116.5 482.5,116.1 482.4,115.6 482.2,115.2 482.1,114.7 481.9,114.3 481.7,113.8 481.5,113.4 481.2,112.9 480.9,112.5 480.6,112 480.2,111.6 479.7,111.1 479.2,110.7 478.6,110.2 478,109.8 477.3,109.3 476.6,108.9 475.8,108.4 475,108 474.1,107.5 473.2,107.1 472.3,106.6 471.4,106.2 470.5,105.7 469.6,105.2 468.8,104.8 467.9,104.3 467.2,103.9 466.4,103.4 465.8,103 465.2,102.5 464.8,102.1 464.4,101.6 464.1,101.2 463.9,100.7 463.8,100.3 463.8,99.8 463.9,99.4 464.1,98.9 464.3,98.5 464.7,98 465.1,97.6 465.5,97.1 466,96.7 466.5,96.2 467.1,95.8 467.7,95.3 468.3,94.9 469,94.4 469.6,94 470.2,93.5 470.8,93.1 471.4,92.6 472,92.2 472.6,91.7 473.1,91.3 473.7,90.8 474.2,90.4 474.6,89.9 475.1,89.5 475.6,89 476,88.6 476.4,88.1 476.7,87.7 477.1,87.2 477.4,86.8 477.7,86.3 478,85.9 478.3,85.4 478.6,85 478.8,84.5 479.1,84.1 479.3,83.6 479.5,83.2 479.7,82.7 479.9,82.3 480.1,81.8 480.2,81.3 480.4,80.9 480.5,80.4 480.6,80 480.8,79.5 480.9,79.1 481,78.6 481.1,78.2 481.2,77.7 481.3,77.3 481.4,76.8 481.5,76.4 481.6,75.9 481.6,75.5 481.7,75 481.8,74.6 481.8,74.1 481.9,73.7 481.9,73.2 482,72.8 482,72.3 482.1,71.9 482.1,71.4 482.2,71 482.2,70.5 482.2,70.1 482.3,69.6 482.3,69.2 482.3,68.7 482.4,68.3 482.4,67.8 482.4,67.4 482.4,66.9 482.5,66.5 482.5,66 482.5,65.6 482.5,65.1 482.5,64.7 482.5,64.2 482.6,63.8 482.6,63.3 482.6,62.9 482.6,62.4 482.6,62 482.6,61.5 482.6,61.1 482.6,60.6 482.7,60.2 482.7,59.7 482.7,59.3 482.7,58.8 482.7,58.4 482.7,57.9 482.7,57.4 482.7,57 482.7,56.5 482.7,56.1 482.7,55.6 482.7,55.2 Z" fill="none" stroke="#ec2226" stroke-width="1.8" stroke-linejoin="round"/>
<line x1="466.1" y1="103" x2="499.5" y2="103" stroke="#000" stroke-width="1.3"/>
<line x1="464.8" y1="98.3" x2="500.8" y2="98.3" stroke="#000" stroke-width="1.3"/>
<line x1="471.8" y1="92.6" x2="493.8" y2="92.6" stroke="#000" stroke-width="1.3"/>
<line x1="438.4" y1="48.2" x2="469.7" y2="48.2" stroke="#111" stroke-width="2"/>
<polygon points="448.2,38.9 447.6,40.4 446,40.2 447,41.5 446,42.7 447.6,42.5 448.2,44 448.9,42.5 450.5,42.7 449.5,41.5 450.5,40.2 448.9,40.4" fill="#111"/>
<polygon points="453.5,38.9 452.9,40.4 451.3,40.2 452.3,41.5 451.3,42.7 452.9,42.5 453.5,44 454.2,42.5 455.8,42.7 454.8,41.5 455.8,40.2 454.2,40.4" fill="#111"/>
<polygon points="458.8,38.9 458.2,40.4 456.6,40.2 457.6,41.5 456.6,42.7 458.2,42.5 458.8,44 459.5,42.5 461.1,42.7 460.1,41.5 461.1,40.2 459.5,40.4" fill="#111"/>
<text transform="translate(365.7,84.7) rotate(-90)" class="t yl m">DBP (mmHg)</text>
<text transform="translate(426.8,158) rotate(-45)" class="t cl e">Normal</text>
<text transform="translate(486.8,158) rotate(-45)" class="t cl e">MASLD</text>
<text x="350.5" y="198.4" class="lt">G</text>
<line x1="388.6" y1="213.5" x2="388.6" y2="334.2" stroke="#1a1a1a" stroke-width="1.45"/>
<line x1="384.0" y1="333.5" x2="512.6" y2="333.5" stroke="#1a1a1a" stroke-width="1.45"/>
<line x1="384.0" y1="333.5" x2="388.6" y2="333.5" stroke="#1a1a1a" stroke-width="1.3"/>
<text x="382.3" y="336.8" class="t vt e">0</text>
<line x1="384.0" y1="303.5" x2="388.6" y2="303.5" stroke="#1a1a1a" stroke-width="1.3"/>
<text x="382.3" y="306.8" class="t vt e">10</text>
<line x1="384.0" y1="273.5" x2="388.6" y2="273.5" stroke="#1a1a1a" stroke-width="1.3"/>
<text x="382.3" y="276.8" class="t vt e">20</text>
<line x1="384.0" y1="243.5" x2="388.6" y2="243.5" stroke="#1a1a1a" stroke-width="1.3"/>
<text x="382.3" y="246.8" class="t vt e">30</text>
<line x1="384.0" y1="213.5" x2="388.6" y2="213.5" stroke="#1a1a1a" stroke-width="1.3"/>
<text x="382.3" y="216.8" class="t vt e">40</text>
<line x1="385.8" y1="318.5" x2="388.6" y2="318.5" stroke="#222" stroke-width="1.3"/>
<line x1="385.8" y1="288.5" x2="388.6" y2="288.5" stroke="#222" stroke-width="1.3"/>
<line x1="385.8" y1="258.5" x2="388.6" y2="258.5" stroke="#222" stroke-width="1.3"/>
<line x1="385.8" y1="228.5" x2="388.6" y2="228.5" stroke="#222" stroke-width="1.3"/>
<line x1="419.6" y1="333.5" x2="419.6" y2="337.3" stroke="#222" stroke-width="1.3"/>
<line x1="481.4" y1="333.5" x2="481.4" y2="337.3" stroke="#222" stroke-width="1.3"/>
<path d="M419.6,258.5 419.6,259 419.6,259.4 419.6,259.9 419.6,260.4 419.6,260.8 419.6,261.3 419.6,261.8 419.6,262.2 419.6,262.7 419.6,263.2 419.6,263.6 419.6,264.1 419.6,264.6 419.6,265 419.6,265.5 419.6,266 419.6,266.4 419.6,266.9 419.6,267.4 419.6,267.8 419.6,268.3 419.6,268.8 419.6,269.2 419.6,269.7 419.6,270.2 419.6,270.6 419.6,271.1 419.6,271.5 419.6,272 419.6,272.5 419.6,272.9 419.6,273.4 419.6,273.9 419.6,274.3 419.6,274.8 419.6,275.3 419.6,275.7 419.6,276.2 419.6,276.7 419.6,277.1 419.6,277.6 419.6,278.1 419.6,278.5 419.6,279 419.6,279.5 419.6,279.9 419.6,280.4 419.6,280.9 419.6,281.3 419.6,281.8 419.6,282.3 419.6,282.7 419.6,283.2 419.6,283.7 419.6,284.1 419.6,284.6 419.6,285.1 419.6,285.5 419.6,286 419.6,286.5 419.6,286.9 419.6,287.4 419.6,287.9 419.6,288.3 419.6,288.8 419.6,289.3 419.6,289.7 419.6,290.2 419.6,290.7 419.6,291.1 419.6,291.6 419.6,292.1 419.6,292.5 419.6,293 419.6,293.5 419.6,293.9 419.6,294.4 419.6,294.9 419.6,295.3 419.6,295.8 419.6,296.2 419.6,296.7 419.6,297.2 419.6,297.6 419.6,298.1 419.6,298.6 419.6,299 419.6,299.5 419.6,300 419.6,300.4 419.6,300.9 419.6,301.4 419.6,301.8 419.6,302.3 419.6,302.8 419.6,303.2 419.6,303.7 419.6,304.2 419.6,304.6 419.6,305.1 419.6,305.6 419.6,306 419.6,306.5 419.6,307 419.6,307.4 419.6,307.9 419.6,308.4 419.6,308.8 419.6,309.3 419.6,309.8 419.6,310.2 419.6,310.7 419.6,311.2 419.6,311.6 419.6,312.1 419.6,312.6 419.6,313 419.6,313.5 419.6,314 419.6,314.4 419.6,314.9 419.6,315.4 419.6,315.8 419.6,316.3 419.6,316.8 419.6,317.2 419.6,317.7 419.6,318.2 419.6,318.6 419.6,319.1 419.6,319.6 419.6,320 419.6,320.5 419.6,320.9 419.6,321.4 419.6,321.9 419.6,322.3 419.6,322.8 419.6,323.3 419.6,323.7 419.6,324.2 419.6,324.7 419.6,325.1 419.6,325.6 419.7,326.1 419.7,326.5 419.9,327 420.1,327.5 420.6,327.9 421.4,328.4 423.1,328.9 425.8,329.3 430,329.8 434.8,330.3 438.3,330.7 437.6,331.2 432.7,331.7 426.5,332.1 422.2,332.6 L417,332.6 412.7,332.1 406.5,331.7 401.6,331.2 400.9,330.7 404.4,330.3 409.2,329.8 413.4,329.3 416.1,328.9 417.8,328.4 418.6,327.9 419.1,327.5 419.3,327 419.5,326.5 419.5,326.1 419.6,325.6 419.6,325.1 419.6,324.7 419.6,324.2 419.6,323.7 419.6,323.3 419.6,322.8 419.6,322.3 419.6,321.9 419.6,321.4 419.6,320.9 419.6,320.5 419.6,320 419.6,319.6 419.6,319.1 419.6,318.6 419.6,318.2 419.6,317.7 419.6,317.2 419.6,316.8 419.6,316.3 419.6,315.8 419.6,315.4 419.6,314.9 419.6,314.4 419.6,314 419.6,313.5 419.6,313 419.6,312.6 419.6,312.1 419.6,311.6 419.6,311.2 419.6,310.7 419.6,310.2 419.6,309.8 419.6,309.3 419.6,308.8 419.6,308.4 419.6,307.9 419.6,307.4 419.6,307 419.6,306.5 419.6,306 419.6,305.6 419.6,305.1 419.6,304.6 419.6,304.2 419.6,303.7 419.6,303.2 419.6,302.8 419.6,302.3 419.6,301.8 419.6,301.4 419.6,300.9 419.6,300.4 419.6,300 419.6,299.5 419.6,299 419.6,298.6 419.6,298.1 419.6,297.6 419.6,297.2 419.6,296.7 419.6,296.2 419.6,295.8 419.6,295.3 419.6,294.9 419.6,294.4 419.6,293.9 419.6,293.5 419.6,293 419.6,292.5 419.6,292.1 419.6,291.6 419.6,291.1 419.6,290.7 419.6,290.2 419.6,289.7 419.6,289.3 419.6,288.8 419.6,288.3 419.6,287.9 419.6,287.4 419.6,286.9 419.6,286.5 419.6,286 419.6,285.5 419.6,285.1 419.6,284.6 419.6,284.1 419.6,283.7 419.6,283.2 419.6,282.7 419.6,282.3 419.6,281.8 419.6,281.3 419.6,280.9 419.6,280.4 419.6,279.9 419.6,279.5 419.6,279 419.6,278.5 419.6,278.1 419.6,277.6 419.6,277.1 419.6,276.7 419.6,276.2 419.6,275.7 419.6,275.3 419.6,274.8 419.6,274.3 419.6,273.9 419.6,273.4 419.6,272.9 419.6,272.5 419.6,272 419.6,271.5 419.6,271.1 419.6,270.6 419.6,270.2 419.6,269.7 419.6,269.2 419.6,268.8 419.6,268.3 419.6,267.8 419.6,267.4 419.6,266.9 419.6,266.4 419.6,266 419.6,265.5 419.6,265 419.6,264.6 419.6,264.1 419.6,263.6 419.6,263.2 419.6,262.7 419.6,262.2 419.6,261.8 419.6,261.3 419.6,260.8 419.6,260.4 419.6,259.9 419.6,259.4 419.6,259 419.6,258.5 Z" fill="none" stroke="#f39ea1" stroke-width="1.8" stroke-linejoin="round"/>
<line x1="406.4" y1="331.5" x2="432.8" y2="331.5" stroke="#000" stroke-width="1.3"/>
<line x1="409.7" y1="330.5" x2="429.5" y2="330.5" stroke="#000" stroke-width="1.3"/>
<line x1="414.7" y1="329.3" x2="424.5" y2="329.3" stroke="#000" stroke-width="1.3"/>
<path d="M481.4,213.5 481.4,214.2 481.4,215 481.4,215.7 481.4,216.5 481.4,217.2 481.4,218 481.4,218.7 481.4,219.5 481.4,220.2 481.4,221 481.4,221.7 481.4,222.5 481.4,223.2 481.4,224 481.4,224.7 481.4,225.5 481.4,226.2 481.4,226.9 481.4,227.7 481.4,228.4 481.4,229.2 481.4,229.9 481.4,230.7 481.4,231.4 481.4,232.2 481.4,232.9 481.4,233.7 481.4,234.4 481.4,235.2 481.4,235.9 481.4,236.7 481.4,237.4 481.4,238.2 481.4,238.9 481.4,239.7 481.4,240.4 481.4,241.1 481.4,241.9 481.4,242.6 481.4,243.4 481.4,244.1 481.4,244.9 481.4,245.6 481.4,246.4 481.4,247.1 481.4,247.9 481.4,248.6 481.4,249.4 481.4,250.1 481.4,250.9 481.4,251.6 481.4,252.4 481.4,253.1 481.4,253.8 481.4,254.6 481.4,255.3 481.4,256.1 481.4,256.8 481.4,257.6 481.4,258.3 481.4,259.1 481.4,259.8 481.4,260.6 481.4,261.3 481.4,262.1 481.4,262.8 481.4,263.6 481.4,264.3 481.4,265.1 481.4,265.8 481.4,266.5 481.4,267.3 481.4,268 481.4,268.8 481.4,269.5 481.4,270.3 481.4,271 481.4,271.8 481.4,272.5 481.4,273.3 481.4,274 481.4,274.8 481.4,275.5 481.4,276.3 481.4,277 481.4,277.8 481.4,278.5 481.4,279.3 481.4,280 481.4,280.7 481.4,281.5 481.4,282.2 481.4,283 481.4,283.7 481.4,284.5 481.4,285.2 481.4,286 481.4,286.7 481.4,287.5 481.4,288.2 481.4,289 481.4,289.7 481.4,290.5 481.4,291.2 481.4,292 481.4,292.7 481.4,293.4 481.4,294.2 481.4,294.9 481.4,295.7 481.4,296.4 481.4,297.2 481.4,297.9 481.4,298.7 481.4,299.4 481.4,300.2 481.4,300.9 481.4,301.7 481.4,302.4 481.4,303.2 481.4,303.9 481.4,304.7 481.4,305.4 481.4,306.1 481.4,306.9 481.4,307.6 481.4,308.4 481.4,309.1 481.4,309.9 481.4,310.6 481.4,311.4 481.4,312.1 481.4,312.9 481.4,313.6 481.4,314.4 481.4,315.1 481.4,315.9 481.4,316.6 481.4,317.4 481.4,318.1 481.5,318.9 481.5,319.6 481.6,320.3 481.7,321.1 481.9,321.8 482.3,322.6 482.8,323.3 483.7,324.1 485.2,324.8 487.4,325.6 490.6,326.3 494.6,327.1 498.4,327.8 500.4,328.6 499,329.3 494.6,330.1 489.1,330.8 484.9,331.6 482.6,332.3 L480.2,332.3 477.9,331.6 473.7,330.8 468.2,330.1 463.8,329.3 462.4,328.6 464.4,327.8 468.2,327.1 472.2,326.3 475.4,325.6 477.6,324.8 479.1,324.1 480,323.3 480.5,322.6 480.9,321.8 481.1,321.1 481.2,320.3 481.3,319.6 481.3,318.9 481.4,318.1 481.4,317.4 481.4,316.6 481.4,315.9 481.4,315.1 481.4,314.4 481.4,313.6 481.4,312.9 481.4,312.1 481.4,311.4 481.4,310.6 481.4,309.9 481.4,309.1 481.4,308.4 481.4,307.6 481.4,306.9 481.4,306.1 481.4,305.4 481.4,304.7 481.4,303.9 481.4,303.2 481.4,302.4 481.4,301.7 481.4,300.9 481.4,300.2 481.4,299.4 481.4,298.7 481.4,297.9 481.4,297.2 481.4,296.4 481.4,295.7 481.4,294.9 481.4,294.2 481.4,293.4 481.4,292.7 481.4,292 481.4,291.2 481.4,290.5 481.4,289.7 481.4,289 481.4,288.2 481.4,287.5 481.4,286.7 481.4,286 481.4,285.2 481.4,284.5 481.4,283.7 481.4,283 481.4,282.2 481.4,281.5 481.4,280.7 481.4,280 481.4,279.3 481.4,278.5 481.4,277.8 481.4,277 481.4,276.3 481.4,275.5 481.4,274.8 481.4,274 481.4,273.3 481.4,272.5 481.4,271.8 481.4,271 481.4,270.3 481.4,269.5 481.4,268.8 481.4,268 481.4,267.3 481.4,266.5 481.4,265.8 481.4,265.1 481.4,264.3 481.4,263.6 481.4,262.8 481.4,262.1 481.4,261.3 481.4,260.6 481.4,259.8 481.4,259.1 481.4,258.3 481.4,257.6 481.4,256.8 481.4,256.1 481.4,255.3 481.4,254.6 481.4,253.8 481.4,253.1 481.4,252.4 481.4,251.6 481.4,250.9 481.4,250.1 481.4,249.4 481.4,248.6 481.4,247.9 481.4,247.1 481.4,246.4 481.4,245.6 481.4,244.9 481.4,244.1 481.4,243.4 481.4,242.6 481.4,241.9 481.4,241.1 481.4,240.4 481.4,239.7 481.4,238.9 481.4,238.2 481.4,237.4 481.4,236.7 481.4,235.9 481.4,235.2 481.4,234.4 481.4,233.7 481.4,232.9 481.4,232.2 481.4,231.4 481.4,230.7 481.4,229.9 481.4,229.2 481.4,228.4 481.4,227.7 481.4,226.9 481.4,226.2 481.4,225.5 481.4,224.7 481.4,224 481.4,223.2 481.4,222.5 481.4,221.7 481.4,221 481.4,220.2 481.4,219.5 481.4,218.7 481.4,218 481.4,217.2 481.4,216.5 481.4,215.7 481.4,215 481.4,214.2 481.4,213.5 Z" fill="none" stroke="#ec2226" stroke-width="1.8" stroke-linejoin="round"/>
<line x1="465.5" y1="329.6" x2="497.3" y2="329.6" stroke="#000" stroke-width="1.3"/>
<line x1="463.9" y1="328" x2="498.9" y2="328" stroke="#000" stroke-width="1.3"/>
<line x1="473.6" y1="326.1" x2="489.2" y2="326.1" stroke="#000" stroke-width="1.3"/>
<line x1="434.6" y1="212.8" x2="467.4" y2="212.8" stroke="#111" stroke-width="2"/>
<polygon points="445.2,203.5 444.6,205 443,204.8 443.9,206.1 443,207.3 444.6,207.1 445.2,208.6 445.8,207.1 447.4,207.3 446.4,206.1 447.4,204.8 445.8,205" fill="#111"/>
<polygon points="450.5,203.5 449.9,205 448.3,204.8 449.2,206.1 448.3,207.3 449.9,207.1 450.5,208.6 451.1,207.1 452.7,207.3 451.8,206.1 452.7,204.8 451.1,205" fill="#111"/>
<polygon points="455.8,203.5 455.2,205 453.6,204.8 454.6,206.1 453.6,207.3 455.2,207.1 455.8,208.6 456.4,207.1 458,207.3 457.1,206.1 458,204.8 456.4,205" fill="#111"/>
<text transform="translate(366.3,274.0) rotate(-90)" class="t yl m">TG (mmol/L)</text>
<text transform="translate(423.6,345.2) rotate(-45)" class="t cl e">Normal</text>
<text transform="translate(485.4,345.2) rotate(-45)" class="t cl e">MASLD</text>
<text x="351.0" y="390.0" class="lt">H</text>
<line x1="388.6" y1="406.4" x2="388.6" y2="530.7" stroke="#1a1a1a" stroke-width="1.45"/>
<line x1="384.0" y1="530.0" x2="512.6" y2="530.0" stroke="#1a1a1a" stroke-width="1.45"/>
<line x1="384.0" y1="530" x2="388.6" y2="530" stroke="#1a1a1a" stroke-width="1.3"/>
<text x="382.3" y="533.3" class="t vt e">0</text>
<line x1="384.0" y1="488.8" x2="388.6" y2="488.8" stroke="#1a1a1a" stroke-width="1.3"/>
<text x="382.3" y="492.1" class="t vt e">5</text>
<line x1="384.0" y1="447.6" x2="388.6" y2="447.6" stroke="#1a1a1a" stroke-width="1.3"/>
<text x="382.3" y="450.9" class="t vt e">10</text>
<line x1="384.0" y1="406.4" x2="388.6" y2="406.4" stroke="#1a1a1a" stroke-width="1.3"/>
<text x="382.3" y="409.7" class="t vt e">15</text>
<line x1="419.1" y1="530.0" x2="419.1" y2="533.8" stroke="#222" stroke-width="1.3"/>
<line x1="481.7" y1="530.0" x2="481.7" y2="533.8" stroke="#222" stroke-width="1.3"/>
<path d="M419.1,420.4 419.1,421 419.1,421.6 419.1,422.2 419.1,422.8 419.1,423.4 419.1,424 419.1,424.7 419.1,425.3 419.1,425.9 419.1,426.5 419.1,427.1 419.1,427.7 419.1,428.3 419.1,428.9 419.1,429.5 419.1,430.1 419.1,430.7 419.1,431.3 419.1,431.9 419.1,432.5 419.1,433.1 419.1,433.7 419.1,434.4 419.1,435 419.1,435.6 419.1,436.2 419.1,436.8 419.1,437.4 419.1,438 419.1,438.6 419.1,439.2 419.1,439.8 419.1,440.4 419.1,441 419.1,441.6 419.1,442.2 419.1,442.8 419.1,443.4 419.1,444.1 419.1,444.7 419.2,445.3 419.2,445.9 419.2,446.5 419.2,447.1 419.2,447.7 419.2,448.3 419.2,448.9 419.2,449.5 419.2,450.1 419.2,450.7 419.2,451.3 419.2,451.9 419.3,452.5 419.3,453.2 419.3,453.8 419.3,454.4 419.3,455 419.3,455.6 419.4,456.2 419.4,456.8 419.4,457.4 419.4,458 419.5,458.6 419.5,459.2 419.5,459.8 419.6,460.4 419.6,461 419.7,461.6 419.7,462.2 419.8,462.9 419.8,463.5 419.9,464.1 420,464.7 420.1,465.3 420.2,465.9 420.3,466.5 420.4,467.1 420.5,467.7 420.6,468.3 420.7,468.9 420.9,469.5 421.1,470.1 421.3,470.7 421.4,471.3 421.7,471.9 421.9,472.6 422.2,473.2 422.4,473.8 422.8,474.4 423.1,475 423.4,475.6 423.8,476.2 424.3,476.8 424.7,477.4 425.2,478 425.8,478.6 426.4,479.2 427,479.8 427.7,480.4 428.4,481 429.1,481.6 429.9,482.3 430.7,482.9 431.5,483.5 432.3,484.1 433.1,484.7 433.9,485.3 434.7,485.9 435.5,486.5 436.2,487.1 436.8,487.7 437.3,488.3 437.7,488.9 437.9,489.5 438.1,490.1 438.1,490.7 437.9,491.3 437.6,492 437.1,492.6 436.5,493.2 435.8,493.8 435,494.4 434,495 433,495.6 431.9,496.2 430.8,496.8 429.7,497.4 428.6,498 427.5,498.6 426.4,499.2 425.5,499.8 424.6,500.4 423.7,501.1 423,501.7 422.3,502.3 421.7,502.9 421.2,503.5 420.8,504.1 420.5,504.7 420.2,505.3 419.9,505.9 419.7,506.5 419.6,507.1 419.5,507.7 419.4,508.3 419.3,508.9 419.2,509.5 419.2,510.1 419.2,510.8 419.2,511.4 419.1,512 419.1,512.6 419.1,513.2 419.1,513.8 419.1,514.4 419.1,515 419.1,515.6 419.1,516.2 419.1,516.8 L419.1,516.8 419.1,516.2 419.1,515.6 419.1,515 419.1,514.4 419.1,513.8 419.1,513.2 419.1,512.6 419.1,512 419,511.4 419,510.8 419,510.1 419,509.5 418.9,508.9 418.8,508.3 418.7,507.7 418.6,507.1 418.5,506.5 418.3,505.9 418,505.3 417.7,504.7 417.4,504.1 417,503.5 416.5,502.9 415.9,502.3 415.2,501.7 414.5,501.1 413.6,500.4 412.7,499.8 411.8,499.2 410.7,498.6 409.6,498 408.5,497.4 407.4,496.8 406.3,496.2 405.2,495.6 404.2,495 403.2,494.4 402.4,493.8 401.7,493.2 401.1,492.6 400.6,492 400.3,491.3 400.1,490.7 400.1,490.1 400.3,489.5 400.5,488.9 400.9,488.3 401.4,487.7 402,487.1 402.7,486.5 403.5,485.9 404.3,485.3 405.1,484.7 405.9,484.1 406.7,483.5 407.5,482.9 408.3,482.3 409.1,481.6 409.8,481 410.5,480.4 411.2,479.8 411.8,479.2 412.4,478.6 413,478 413.5,477.4 413.9,476.8 414.4,476.2 414.8,475.6 415.1,475 415.4,474.4 415.8,473.8 416,473.2 416.3,472.6 416.5,471.9 416.8,471.3 416.9,470.7 417.1,470.1 417.3,469.5 417.5,468.9 417.6,468.3 417.7,467.7 417.8,467.1 417.9,466.5 418,465.9 418.1,465.3 418.2,464.7 418.3,464.1 418.4,463.5 418.4,462.9 418.5,462.2 418.5,461.6 418.6,461 418.6,460.4 418.7,459.8 418.7,459.2 418.7,458.6 418.8,458 418.8,457.4 418.8,456.8 418.8,456.2 418.9,455.6 418.9,455 418.9,454.4 418.9,453.8 418.9,453.2 418.9,452.5 419,451.9 419,451.3 419,450.7 419,450.1 419,449.5 419,448.9 419,448.3 419,447.7 419,447.1 419,446.5 419,445.9 419,445.3 419.1,444.7 419.1,444.1 419.1,443.4 419.1,442.8 419.1,442.2 419.1,441.6 419.1,441 419.1,440.4 419.1,439.8 419.1,439.2 419.1,438.6 419.1,438 419.1,437.4 419.1,436.8 419.1,436.2 419.1,435.6 419.1,435 419.1,434.4 419.1,433.7 419.1,433.1 419.1,432.5 419.1,431.9 419.1,431.3 419.1,430.7 419.1,430.1 419.1,429.5 419.1,428.9 419.1,428.3 419.1,427.7 419.1,427.1 419.1,426.5 419.1,425.9 419.1,425.3 419.1,424.7 419.1,424 419.1,423.4 419.1,422.8 419.1,422.2 419.1,421.6 419.1,421 419.1,420.4 Z" fill="none" stroke="#f39ea1" stroke-width="1.8" stroke-linejoin="round"/>
<line x1="402.8" y1="493.8" x2="435.4" y2="493.8" stroke="#000" stroke-width="1.3"/>
<line x1="400.8" y1="489" x2="437.4" y2="489" stroke="#000" stroke-width="1.3"/>
<line x1="407.3" y1="483.3" x2="430.9" y2="483.3" stroke="#000" stroke-width="1.3"/>
<path d="M481.7,416.3 481.7,416.9 481.7,417.5 481.7,418.1 481.7,418.7 481.7,419.3 481.7,419.9 481.7,420.5 481.7,421.1 481.7,421.7 481.7,422.3 481.7,422.9 481.7,423.5 481.7,424.1 481.7,424.7 481.7,425.3 481.7,425.9 481.7,426.5 481.7,427.1 481.7,427.7 481.7,428.3 481.7,428.9 481.7,429.5 481.7,430.2 481.7,430.8 481.7,431.4 481.7,432 481.7,432.6 481.7,433.2 481.7,433.8 481.7,434.4 481.7,435 481.7,435.6 481.7,436.2 481.7,436.8 481.7,437.4 481.7,438 481.7,438.6 481.7,439.2 481.7,439.8 481.7,440.4 481.7,441 481.7,441.6 481.7,442.2 481.7,442.8 481.7,443.4 481.7,444 481.7,444.6 481.7,445.2 481.7,445.8 481.7,446.4 481.7,447 481.7,447.6 481.7,448.2 481.7,448.8 481.7,449.4 481.7,450 481.7,450.6 481.7,451.2 481.7,451.8 481.7,452.5 481.7,453.1 481.8,453.7 481.8,454.3 481.8,454.9 481.8,455.5 481.8,456.1 481.8,456.7 481.8,457.3 481.8,457.9 481.9,458.5 481.9,459.1 481.9,459.7 481.9,460.3 482,460.9 482,461.5 482.1,462.1 482.1,462.7 482.2,463.3 482.2,463.9 482.3,464.5 482.4,465.1 482.5,465.7 482.6,466.3 482.8,466.9 482.9,467.5 483.1,468.1 483.3,468.7 483.5,469.3 483.8,469.9 484.1,470.5 484.4,471.1 484.8,471.7 485.1,472.3 485.6,472.9 486.1,473.5 486.6,474.1 487.2,474.8 487.8,475.4 488.5,476 489.2,476.6 489.9,477.2 490.7,477.8 491.6,478.4 492.4,479 493.3,479.6 494.2,480.2 495,480.8 495.9,481.4 496.7,482 497.5,482.6 498.3,483.2 498.9,483.8 499.5,484.4 500,485 500.3,485.6 500.6,486.2 500.7,486.8 500.7,487.4 500.5,488 500.3,488.6 499.9,489.2 499.4,489.8 498.7,490.4 498,491 497.2,491.6 496.3,492.2 495.4,492.8 494.4,493.4 493.4,494 492.4,494.6 491.4,495.2 490.4,495.8 489.5,496.4 488.6,497.1 487.8,497.7 487,498.3 486.3,498.9 485.6,499.5 485.1,500.1 484.5,500.7 484.1,501.3 483.7,501.9 483.3,502.5 483,503.1 482.8,503.7 482.6,504.3 482.4,504.9 482.2,505.5 482.1,506.1 482,506.7 482,507.3 481.9,507.9 481.8,508.5 481.8,509.1 481.8,509.7 481.8,510.3 481.7,510.9 481.7,511.5 481.7,512.1 L481.7,512.1 481.7,511.5 481.7,510.9 481.6,510.3 481.6,509.7 481.6,509.1 481.6,508.5 481.5,507.9 481.4,507.3 481.4,506.7 481.3,506.1 481.2,505.5 481,504.9 480.8,504.3 480.6,503.7 480.4,503.1 480.1,502.5 479.7,501.9 479.3,501.3 478.9,500.7 478.3,500.1 477.8,499.5 477.1,498.9 476.4,498.3 475.6,497.7 474.8,497.1 473.9,496.4 473,495.8 472,495.2 471,494.6 470,494 469,493.4 468,492.8 467.1,492.2 466.2,491.6 465.4,491 464.7,490.4 464,489.8 463.5,489.2 463.1,488.6 462.9,488 462.7,487.4 462.7,486.8 462.8,486.2 463.1,485.6 463.4,485 463.9,484.4 464.5,483.8 465.1,483.2 465.9,482.6 466.7,482 467.5,481.4 468.4,480.8 469.2,480.2 470.1,479.6 471,479 471.8,478.4 472.7,477.8 473.5,477.2 474.2,476.6 474.9,476 475.6,475.4 476.2,474.8 476.8,474.1 477.3,473.5 477.8,472.9 478.3,472.3 478.6,471.7 479,471.1 479.3,470.5 479.6,469.9 479.9,469.3 480.1,468.7 480.3,468.1 480.5,467.5 480.6,466.9 480.8,466.3 480.9,465.7 481,465.1 481.1,464.5 481.2,463.9 481.2,463.3 481.3,462.7 481.3,462.1 481.4,461.5 481.4,460.9 481.5,460.3 481.5,459.7 481.5,459.1 481.5,458.5 481.6,457.9 481.6,457.3 481.6,456.7 481.6,456.1 481.6,455.5 481.6,454.9 481.6,454.3 481.6,453.7 481.7,453.1 481.7,452.5 481.7,451.8 481.7,451.2 481.7,450.6 481.7,450 481.7,449.4 481.7,448.8 481.7,448.2 481.7,447.6 481.7,447 481.7,446.4 481.7,445.8 481.7,445.2 481.7,444.6 481.7,444 481.7,443.4 481.7,442.8 481.7,442.2 481.7,441.6 481.7,441 481.7,440.4 481.7,439.8 481.7,439.2 481.7,438.6 481.7,438 481.7,437.4 481.7,436.8 481.7,436.2 481.7,435.6 481.7,435 481.7,434.4 481.7,433.8 481.7,433.2 481.7,432.6 481.7,432 481.7,431.4 481.7,430.8 481.7,430.2 481.7,429.5 481.7,428.9 481.7,428.3 481.7,427.7 481.7,427.1 481.7,426.5 481.7,425.9 481.7,425.3 481.7,424.7 481.7,424.1 481.7,423.5 481.7,422.9 481.7,422.3 481.7,421.7 481.7,421.1 481.7,420.5 481.7,419.9 481.7,419.3 481.7,418.7 481.7,418.1 481.7,417.5 481.7,416.9 481.7,416.3 Z" fill="none" stroke="#ec2226" stroke-width="1.8" stroke-linejoin="round"/>
<line x1="466.6" y1="491.7" x2="496.8" y2="491.7" stroke="#000" stroke-width="1.3"/>
<line x1="463.1" y1="486.4" x2="500.3" y2="486.4" stroke="#000" stroke-width="1.3"/>
<line x1="468.6" y1="480.8" x2="494.8" y2="480.8" stroke="#000" stroke-width="1.3"/>
<line x1="434.6" y1="413.3" x2="467.4" y2="413.3" stroke="#111" stroke-width="2"/>
<polygon points="445.2,404 444.6,405.5 443,405.3 443.9,406.6 443,407.8 444.6,407.6 445.2,409.1 445.8,407.6 447.4,407.8 446.4,406.6 447.4,405.3 445.8,405.5" fill="#111"/>
<polygon points="450.5,404 449.9,405.5 448.3,405.3 449.2,406.6 448.3,407.8 449.9,407.6 450.5,409.1 451.1,407.6 452.7,407.8 451.8,406.6 452.7,405.3 451.1,405.5" fill="#111"/>
<polygon points="455.8,404 455.2,405.5 453.6,405.3 454.6,406.6 453.6,407.8 455.2,407.6 455.8,409.1 456.4,407.6 458,407.8 457.1,406.6 458,405.3 456.4,405.5" fill="#111"/>
<text transform="translate(365.6,468.2) rotate(-90)" class="t yl m">TC (mmol/L)</text>
<text transform="translate(423.1,541.7) rotate(-45)" class="t cl e">Normal</text>
<text transform="translate(485.7,541.7) rotate(-45)" class="t cl e">MASLD</text>
<text x="353.5" y="600.2" class="lt">I</text>
<line x1="391.4" y1="611.4" x2="391.4" y2="735.7" stroke="#1a1a1a" stroke-width="1.45"/>
<line x1="386.79999999999995" y1="735.0" x2="517.9" y2="735.0" stroke="#1a1a1a" stroke-width="1.45"/>
<line x1="386.79999999999995" y1="735" x2="391.4" y2="735" stroke="#1a1a1a" stroke-width="1.3"/>
<text x="385.09999999999997" y="738.3" class="t vt e">0</text>
<line x1="386.79999999999995" y1="704.1" x2="391.4" y2="704.1" stroke="#1a1a1a" stroke-width="1.3"/>
<text x="385.09999999999997" y="707.4" class="t vt e">2</text>
<line x1="386.79999999999995" y1="673.2" x2="391.4" y2="673.2" stroke="#1a1a1a" stroke-width="1.3"/>
<text x="385.09999999999997" y="676.5" class="t vt e">4</text>
<line x1="386.79999999999995" y1="642.3" x2="391.4" y2="642.3" stroke="#1a1a1a" stroke-width="1.3"/>
<text x="385.09999999999997" y="645.6" class="t vt e">6</text>
<line x1="386.79999999999995" y1="611.4" x2="391.4" y2="611.4" stroke="#1a1a1a" stroke-width="1.3"/>
<text x="385.09999999999997" y="614.7" class="t vt e">8</text>
<line x1="388.59999999999997" y1="719.5" x2="391.4" y2="719.5" stroke="#222" stroke-width="1.3"/>
<line x1="388.59999999999997" y1="688.6" x2="391.4" y2="688.6" stroke="#222" stroke-width="1.3"/>
<line x1="388.59999999999997" y1="657.8" x2="391.4" y2="657.8" stroke="#222" stroke-width="1.3"/>
<line x1="388.59999999999997" y1="626.9" x2="391.4" y2="626.9" stroke="#222" stroke-width="1.3"/>
<line x1="423.0" y1="735.0" x2="423.0" y2="738.8" stroke="#222" stroke-width="1.3"/>
<line x1="486.6" y1="735.0" x2="486.6" y2="738.8" stroke="#222" stroke-width="1.3"/>
<path d="M423,668.9 423,669.3 423,669.6 423,670 423,670.4 423,670.8 423,671.2 423,671.6 423,672 423,672.3 423,672.7 423,673.1 423,673.5 423,673.9 423,674.3 423,674.7 423,675 423,675.4 423,675.8 423,676.2 423,676.6 423,677 423,677.4 423,677.7 423,678.1 423,678.5 423,678.9 423,679.3 423,679.7 423,680.1 423,680.4 423,680.8 423,681.2 423,681.6 423,682 423,682.4 423,682.8 423,683.1 423,683.5 423,683.9 423,684.3 423,684.7 423,685.1 423,685.5 423,685.8 423,686.2 423,686.6 423,687 423,687.4 423,687.8 423,688.2 423,688.5 423,688.9 423,689.3 423,689.7 423,690.1 423,690.5 423,690.9 423,691.2 423,691.6 423,692 423,692.4 423,692.8 423,693.2 423,693.6 423,693.9 423,694.3 423,694.7 423,695.1 423.1,695.5 423.1,695.9 423.1,696.3 423.1,696.6 423.1,697 423.2,697.4 423.2,697.8 423.3,698.2 423.3,698.6 423.4,699 423.5,699.3 423.6,699.7 423.8,700.1 423.9,700.5 424.1,700.9 424.3,701.3 424.5,701.7 424.8,702 425.1,702.4 425.5,702.8 425.9,703.2 426.3,703.6 426.8,704 427.3,704.4 427.9,704.8 428.6,705.1 429.3,705.5 430,705.9 430.8,706.3 431.6,706.7 432.4,707.1 433.3,707.5 434.2,707.8 435,708.2 435.9,708.6 436.8,709 437.6,709.4 438.4,709.8 439.1,710.2 439.8,710.5 440.4,710.9 440.9,711.3 441.4,711.7 441.7,712.1 441.9,712.5 442,712.9 442,713.2 441.8,713.6 441.6,714 441.2,714.4 440.8,714.8 440.2,715.2 439.6,715.6 438.9,715.9 438.1,716.3 437.3,716.7 436.4,717.1 435.6,717.5 434.7,717.9 433.8,718.3 432.9,718.6 432,719 431.1,719.4 430.3,719.8 429.5,720.2 428.8,720.6 428.1,721 427.5,721.3 426.9,721.7 426.4,722.1 425.9,722.5 425.5,722.9 425.1,723.3 424.8,723.7 424.5,724 424.3,724.4 424,724.8 423.9,725.2 423.7,725.6 423.6,726 423.5,726.4 423.4,726.7 423.3,727.1 423.2,727.5 423.2,727.9 423.1,728.3 423.1,728.7 423.1,729.1 423.1,729.4 423.1,729.8 423,730.2 L423,730.2 422.9,729.8 422.9,729.4 422.9,729.1 422.9,728.7 422.9,728.3 422.8,727.9 422.8,727.5 422.7,727.1 422.6,726.7 422.5,726.4 422.4,726 422.3,725.6 422.1,725.2 422,724.8 421.7,724.4 421.5,724 421.2,723.7 420.9,723.3 420.5,722.9 420.1,722.5 419.6,722.1 419.1,721.7 418.5,721.3 417.9,721 417.2,720.6 416.5,720.2 415.7,719.8 414.9,719.4 414,719 413.1,718.6 412.2,718.3 411.3,717.9 410.4,717.5 409.6,717.1 408.7,716.7 407.9,716.3 407.1,715.9 406.4,715.6 405.8,715.2 405.2,714.8 404.8,714.4 404.4,714 404.2,713.6 404,713.2 404,712.9 404.1,712.5 404.3,712.1 404.6,711.7 405.1,711.3 405.6,710.9 406.2,710.5 406.9,710.2 407.6,709.8 408.4,709.4 409.2,709 410.1,708.6 411,708.2 411.8,707.8 412.7,707.5 413.6,707.1 414.4,706.7 415.2,706.3 416,705.9 416.7,705.5 417.4,705.1 418.1,704.8 418.7,704.4 419.2,704 419.7,703.6 420.1,703.2 420.5,702.8 420.9,702.4 421.2,702 421.5,701.7 421.7,701.3 421.9,700.9 422.1,700.5 422.2,700.1 422.4,699.7 422.5,699.3 422.6,699 422.7,698.6 422.7,698.2 422.8,697.8 422.8,697.4 422.9,697 422.9,696.6 422.9,696.3 422.9,695.9 422.9,695.5 423,695.1 423,694.7 423,694.3 423,693.9 423,693.6 423,693.2 423,692.8 423,692.4 423,692 423,691.6 423,691.2 423,690.9 423,690.5 423,690.1 423,689.7 423,689.3 423,688.9 423,688.5 423,688.2 423,687.8 423,687.4 423,687 423,686.6 423,686.2 423,685.8 423,685.5 423,685.1 423,684.7 423,684.3 423,683.9 423,683.5 423,683.1 423,682.8 423,682.4 423,682 423,681.6 423,681.2 423,680.8 423,680.4 423,680.1 423,679.7 423,679.3 423,678.9 423,678.5 423,678.1 423,677.7 423,677.4 423,677 423,676.6 423,676.2 423,675.8 423,675.4 423,675 423,674.7 423,674.3 423,673.9 423,673.5 423,673.1 423,672.7 423,672.3 423,672 423,671.6 423,671.2 423,670.8 423,670.4 423,670 423,669.6 423,669.3 423,668.9 Z" fill="none" stroke="#f39ea1" stroke-width="1.8" stroke-linejoin="round"/>
<line x1="408.8" y1="716.6" x2="437.2" y2="716.6" stroke="#000" stroke-width="1.3"/>
<line x1="404.3" y1="712.8" x2="441.7" y2="712.8" stroke="#000" stroke-width="1.3"/>
<line x1="408.8" y1="709.3" x2="437.2" y2="709.3" stroke="#000" stroke-width="1.3"/>
<path d="M486.6,642.3 486.6,642.9 486.6,643.4 486.6,644 486.6,644.5 486.6,645.1 486.6,645.6 486.6,646.2 486.6,646.7 486.6,647.3 486.6,647.9 486.6,648.4 486.6,649 486.6,649.5 486.6,650.1 486.6,650.6 486.6,651.2 486.6,651.7 486.6,652.3 486.6,652.9 486.6,653.4 486.6,654 486.6,654.5 486.6,655.1 486.6,655.6 486.6,656.2 486.6,656.8 486.6,657.3 486.6,657.9 486.6,658.4 486.6,659 486.6,659.5 486.6,660.1 486.6,660.6 486.6,661.2 486.6,661.8 486.6,662.3 486.6,662.9 486.6,663.4 486.6,664 486.6,664.5 486.6,665.1 486.6,665.6 486.6,666.2 486.6,666.8 486.6,667.3 486.6,667.9 486.6,668.4 486.6,669 486.6,669.5 486.6,670.1 486.6,670.6 486.6,671.2 486.6,671.8 486.6,672.3 486.6,672.9 486.6,673.4 486.6,674 486.6,674.5 486.6,675.1 486.6,675.6 486.6,676.2 486.6,676.8 486.6,677.3 486.6,677.9 486.6,678.4 486.6,679 486.6,679.5 486.6,680.1 486.6,680.7 486.6,681.2 486.6,681.8 486.6,682.3 486.6,682.9 486.6,683.4 486.6,684 486.6,684.5 486.6,685.1 486.6,685.7 486.6,686.2 486.6,686.8 486.6,687.3 486.6,687.9 486.6,688.4 486.6,689 486.6,689.5 486.6,690.1 486.6,690.7 486.6,691.2 486.6,691.8 486.6,692.3 486.6,692.9 486.6,693.4 486.6,694 486.6,694.5 486.6,695.1 486.6,695.7 486.6,696.2 486.7,696.8 486.7,697.3 486.7,697.9 486.7,698.4 486.7,699 486.7,699.5 486.8,700.1 486.8,700.7 486.8,701.2 486.9,701.8 486.9,702.3 487,702.9 487.1,703.4 487.2,704 487.3,704.6 487.4,705.1 487.6,705.7 487.8,706.2 488,706.8 488.3,707.3 488.6,707.9 489,708.4 489.5,709 490,709.6 490.7,710.1 491.5,710.7 492.5,711.2 493.6,711.8 494.9,712.3 496.3,712.9 497.8,713.4 499.4,714 501.1,714.6 502.6,715.1 504,715.7 505,716.2 505.5,716.8 505.5,717.3 505,717.9 503.9,718.4 502.3,719 500.4,719.6 498.2,720.1 496.1,720.7 494,721.2 492.2,721.8 490.7,722.3 489.4,722.9 488.5,723.4 487.8,724 487.3,724.6 487,725.1 486.8,725.7 486.7,726.2 486.7,726.8 486.6,727.3 486.6,727.9 486.6,728.5 486.6,729 486.6,729.6 486.6,730.1 486.6,730.7 L486.6,730.7 486.6,730.1 486.6,729.6 486.6,729 486.6,728.5 486.6,727.9 486.6,727.3 486.5,726.8 486.5,726.2 486.4,725.7 486.2,725.1 485.9,724.6 485.4,724 484.7,723.4 483.8,722.9 482.5,722.3 481,721.8 479.2,721.2 477.1,720.7 475,720.1 472.8,719.6 470.9,719 469.3,718.4 468.2,717.9 467.7,717.3 467.7,716.8 468.2,716.2 469.2,715.7 470.6,715.1 472.1,714.6 473.8,714 475.4,713.4 476.9,712.9 478.3,712.3 479.6,711.8 480.7,711.2 481.7,710.7 482.5,710.1 483.2,709.6 483.7,709 484.2,708.4 484.6,707.9 484.9,707.3 485.2,706.8 485.4,706.2 485.6,705.7 485.8,705.1 485.9,704.6 486,704 486.1,703.4 486.2,702.9 486.3,702.3 486.3,701.8 486.4,701.2 486.4,700.7 486.4,700.1 486.5,699.5 486.5,699 486.5,698.4 486.5,697.9 486.5,697.3 486.5,696.8 486.6,696.2 486.6,695.7 486.6,695.1 486.6,694.5 486.6,694 486.6,693.4 486.6,692.9 486.6,692.3 486.6,691.8 486.6,691.2 486.6,690.7 486.6,690.1 486.6,689.5 486.6,689 486.6,688.4 486.6,687.9 486.6,687.3 486.6,686.8 486.6,686.2 486.6,685.7 486.6,685.1 486.6,684.5 486.6,684 486.6,683.4 486.6,682.9 486.6,682.3 486.6,681.8 486.6,681.2 486.6,680.7 486.6,680.1 486.6,679.5 486.6,679 486.6,678.4 486.6,677.9 486.6,677.3 486.6,676.8 486.6,676.2 486.6,675.6 486.6,675.1 486.6,674.5 486.6,674 486.6,673.4 486.6,672.9 486.6,672.3 486.6,671.8 486.6,671.2 486.6,670.6 486.6,670.1 486.6,669.5 486.6,669 486.6,668.4 486.6,667.9 486.6,667.3 486.6,666.8 486.6,666.2 486.6,665.6 486.6,665.1 486.6,664.5 486.6,664 486.6,663.4 486.6,662.9 486.6,662.3 486.6,661.8 486.6,661.2 486.6,660.6 486.6,660.1 486.6,659.5 486.6,659 486.6,658.4 486.6,657.9 486.6,657.3 486.6,656.8 486.6,656.2 486.6,655.6 486.6,655.1 486.6,654.5 486.6,654 486.6,653.4 486.6,652.9 486.6,652.3 486.6,651.7 486.6,651.2 486.6,650.6 486.6,650.1 486.6,649.5 486.6,649 486.6,648.4 486.6,647.9 486.6,647.3 486.6,646.7 486.6,646.2 486.6,645.6 486.6,645.1 486.6,644.5 486.6,644 486.6,643.4 486.6,642.9 486.6,642.3 Z" fill="none" stroke="#ec2226" stroke-width="1.8" stroke-linejoin="round"/>
<line x1="470.9" y1="718.9" x2="502.3" y2="718.9" stroke="#000" stroke-width="1.3"/>
<line x1="468.7" y1="716.1" x2="504.5" y2="716.1" stroke="#000" stroke-width="1.3"/>
<line x1="474" y1="714" x2="499.2" y2="714" stroke="#000" stroke-width="1.3"/>
<line x1="439.3" y1="639.3" x2="472.7" y2="639.3" stroke="#111" stroke-width="2"/>
<polygon points="450.2,630 449.6,631.5 448,631.3 448.9,632.5 448,633.8 449.6,633.6 450.2,635.1 450.8,633.6 452.4,633.8 451.4,632.5 452.4,631.3 450.8,631.5" fill="#111"/>
<polygon points="455.5,630 454.9,631.5 453.3,631.3 454.2,632.5 453.3,633.8 454.9,633.6 455.5,635.1 456.1,633.6 457.7,633.8 456.8,632.5 457.7,631.3 456.1,631.5" fill="#111"/>
<polygon points="460.8,630 460.2,631.5 458.6,631.3 459.6,632.5 458.6,633.8 460.2,633.6 460.8,635.1 461.4,633.6 463,633.8 462.1,632.5 463,631.3 461.4,631.5" fill="#111"/>
<text transform="translate(373.5,672.5) rotate(-90)" class="t yl m">HDL-C (mmol/L)</text>
<text transform="translate(427,746.7) rotate(-45)" class="t cl e">Normal</text>
<text transform="translate(490.6,746.7) rotate(-45)" class="t cl e">MASLD</text>
<text x="352.6" y="817.3" class="lt">J</text>
<line x1="395.2" y1="830.8" x2="395.2" y2="953.0" stroke="#1a1a1a" stroke-width="1.45"/>
<line x1="390.59999999999997" y1="952.3" x2="517.9" y2="952.3" stroke="#1a1a1a" stroke-width="1.45"/>
<line x1="390.59999999999997" y1="952.3" x2="395.2" y2="952.3" stroke="#1a1a1a" stroke-width="1.3"/>
<text x="388.9" y="955.6" class="t vt e">0</text>
<line x1="390.59999999999997" y1="911.8" x2="395.2" y2="911.8" stroke="#1a1a1a" stroke-width="1.3"/>
<text x="388.9" y="915.1" class="t vt e">4</text>
<line x1="390.59999999999997" y1="871.3" x2="395.2" y2="871.3" stroke="#1a1a1a" stroke-width="1.3"/>
<text x="388.9" y="874.6" class="t vt e">8</text>
<line x1="390.59999999999997" y1="830.8" x2="395.2" y2="830.8" stroke="#1a1a1a" stroke-width="1.3"/>
<text x="388.9" y="834.1" class="t vt e">12</text>
<line x1="392.4" y1="932" x2="395.2" y2="932" stroke="#222" stroke-width="1.3"/>
<line x1="392.4" y1="891.5" x2="395.2" y2="891.5" stroke="#222" stroke-width="1.3"/>
<line x1="392.4" y1="851" x2="395.2" y2="851" stroke="#222" stroke-width="1.3"/>
<line x1="426.2" y1="952.3" x2="426.2" y2="956.0999999999999" stroke="#222" stroke-width="1.3"/>
<line x1="487.9" y1="952.3" x2="487.9" y2="956.0999999999999" stroke="#222" stroke-width="1.3"/>
<path d="M426.2,834.8 426.2,835.6 426.2,836.3 426.2,837 426.2,837.7 426.2,838.4 426.2,839.2 426.2,839.9 426.2,840.6 426.2,841.3 426.2,842 426.2,842.8 426.2,843.5 426.2,844.2 426.2,844.9 426.2,845.6 426.2,846.4 426.2,847.1 426.2,847.8 426.2,848.5 426.2,849.2 426.2,850 426.2,850.7 426.2,851.4 426.2,852.1 426.2,852.8 426.2,853.6 426.2,854.3 426.2,855 426.2,855.7 426.2,856.4 426.2,857.2 426.2,857.9 426.2,858.6 426.2,859.3 426.2,860 426.2,860.8 426.2,861.5 426.2,862.2 426.2,862.9 426.2,863.6 426.2,864.4 426.2,865.1 426.2,865.8 426.2,866.5 426.2,867.2 426.2,868 426.2,868.7 426.2,869.4 426.2,870.1 426.2,870.8 426.2,871.5 426.2,872.3 426.2,873 426.2,873.7 426.2,874.4 426.2,875.1 426.2,875.9 426.2,876.6 426.2,877.3 426.2,878 426.2,878.7 426.2,879.5 426.2,880.2 426.2,880.9 426.2,881.6 426.2,882.3 426.2,883.1 426.2,883.8 426.2,884.5 426.2,885.2 426.2,885.9 426.2,886.7 426.2,887.4 426.2,888.1 426.2,888.8 426.2,889.5 426.2,890.3 426.2,891 426.2,891.7 426.3,892.4 426.3,893.1 426.3,893.9 426.3,894.6 426.3,895.3 426.3,896 426.4,896.7 426.4,897.5 426.4,898.2 426.5,898.9 426.5,899.6 426.6,900.3 426.7,901.1 426.8,901.8 426.9,902.5 427.1,903.2 427.2,903.9 427.4,904.6 427.6,905.4 427.9,906.1 428.2,906.8 428.6,907.5 429,908.2 429.5,909 430,909.7 430.6,910.4 431.3,911.1 432.1,911.8 432.9,912.6 433.8,913.3 434.7,914 435.7,914.7 436.8,915.4 437.9,916.2 438.9,916.9 440,917.6 441,918.3 442,919 442.9,919.8 443.6,920.5 444.3,921.2 444.7,921.9 445.1,922.6 445.2,923.4 445.1,924.1 444.9,924.8 444.5,925.5 443.9,926.2 443.1,927 442.2,927.7 441.2,928.4 440.1,929.1 439,929.8 437.8,930.6 436.6,931.3 435.5,932 434.3,932.7 433.3,933.4 432.3,934.2 431.4,934.9 430.5,935.6 429.8,936.3 429.2,937 428.6,937.7 428.1,938.5 427.7,939.2 427.4,939.9 427.1,940.6 426.9,941.3 426.7,942.1 426.6,942.8 426.5,943.5 426.4,944.2 426.4,944.9 426.3,945.7 426.3,946.4 426.3,947.1 426.2,947.8 426.2,948.5 426.2,949.3 L426.2,949.3 426.2,948.5 426.2,947.8 426.1,947.1 426.1,946.4 426.1,945.7 426,944.9 426,944.2 425.9,943.5 425.8,942.8 425.7,942.1 425.5,941.3 425.3,940.6 425,939.9 424.7,939.2 424.3,938.5 423.8,937.7 423.2,937 422.6,936.3 421.9,935.6 421,934.9 420.1,934.2 419.1,933.4 418.1,932.7 416.9,932 415.8,931.3 414.6,930.6 413.4,929.8 412.3,929.1 411.2,928.4 410.2,927.7 409.3,927 408.5,926.2 407.9,925.5 407.5,924.8 407.3,924.1 407.2,923.4 407.3,922.6 407.7,921.9 408.1,921.2 408.8,920.5 409.5,919.8 410.4,919 411.4,918.3 412.4,917.6 413.5,916.9 414.5,916.2 415.6,915.4 416.7,914.7 417.7,914 418.6,913.3 419.5,912.6 420.3,911.8 421.1,911.1 421.8,910.4 422.4,909.7 422.9,909 423.4,908.2 423.8,907.5 424.2,906.8 424.5,906.1 424.8,905.4 425,904.6 425.2,903.9 425.3,903.2 425.5,902.5 425.6,901.8 425.7,901.1 425.8,900.3 425.9,899.6 425.9,898.9 426,898.2 426,897.5 426,896.7 426.1,896 426.1,895.3 426.1,894.6 426.1,893.9 426.1,893.1 426.1,892.4 426.2,891.7 426.2,891 426.2,890.3 426.2,889.5 426.2,888.8 426.2,888.1 426.2,887.4 426.2,886.7 426.2,885.9 426.2,885.2 426.2,884.5 426.2,883.8 426.2,883.1 426.2,882.3 426.2,881.6 426.2,880.9 426.2,880.2 426.2,879.5 426.2,878.7 426.2,878 426.2,877.3 426.2,876.6 426.2,875.9 426.2,875.1 426.2,874.4 426.2,873.7 426.2,873 426.2,872.3 426.2,871.5 426.2,870.8 426.2,870.1 426.2,869.4 426.2,868.7 426.2,868 426.2,867.2 426.2,866.5 426.2,865.8 426.2,865.1 426.2,864.4 426.2,863.6 426.2,862.9 426.2,862.2 426.2,861.5 426.2,860.8 426.2,860 426.2,859.3 426.2,858.6 426.2,857.9 426.2,857.2 426.2,856.4 426.2,855.7 426.2,855 426.2,854.3 426.2,853.6 426.2,852.8 426.2,852.1 426.2,851.4 426.2,850.7 426.2,850 426.2,849.2 426.2,848.5 426.2,847.8 426.2,847.1 426.2,846.4 426.2,845.6 426.2,844.9 426.2,844.2 426.2,843.5 426.2,842.8 426.2,842 426.2,841.3 426.2,840.6 426.2,839.9 426.2,839.2 426.2,838.4 426.2,837.7 426.2,837 426.2,836.3 426.2,835.6 426.2,834.8 Z" fill="none" stroke="#f39ea1" stroke-width="1.8" stroke-linejoin="round"/>
<line x1="410.9" y1="928" x2="441.5" y2="928" stroke="#000" stroke-width="1.3"/>
<line x1="407.5" y1="923.1" x2="444.9" y2="923.1" stroke="#000" stroke-width="1.3"/>
<line x1="412.1" y1="918" x2="440.3" y2="918" stroke="#000" stroke-width="1.3"/>
<path d="M487.9,856.7 487.9,857.3 487.9,857.9 487.9,858.5 487.9,859.1 487.9,859.7 487.9,860.3 487.9,860.9 487.9,861.5 487.9,862.1 487.9,862.7 487.9,863.3 487.9,863.9 487.9,864.5 487.9,865.1 487.9,865.7 487.9,866.3 487.9,866.9 487.9,867.5 487.9,868.1 487.9,868.7 487.9,869.3 487.9,869.9 487.9,870.5 487.9,871.1 487.9,871.7 487.9,872.3 487.9,872.9 487.9,873.5 487.9,874.1 487.9,874.7 487.9,875.3 487.9,875.9 487.9,876.5 487.9,877.1 487.9,877.6 487.9,878.2 487.9,878.8 487.9,879.4 487.9,880 487.9,880.6 487.9,881.2 487.9,881.8 487.9,882.4 487.9,883 487.9,883.6 487.9,884.2 487.9,884.8 487.9,885.4 487.9,886 487.9,886.6 487.9,887.2 487.9,887.8 487.9,888.4 487.9,889 487.9,889.6 487.9,890.2 487.9,890.8 487.9,891.4 487.9,892 487.9,892.6 488,893.2 488,893.8 488,894.4 488,895 488,895.6 488.1,896.2 488.1,896.8 488.1,897.4 488.2,898 488.2,898.6 488.3,899.2 488.4,899.8 488.5,900.4 488.6,901 488.8,901.6 488.9,902.2 489.1,902.8 489.4,903.4 489.6,904 489.9,904.6 490.2,905.2 490.6,905.8 491,906.3 491.5,906.9 492,907.5 492.6,908.1 493.2,908.7 493.9,909.3 494.6,909.9 495.4,910.5 496.2,911.1 497,911.7 497.9,912.3 498.8,912.9 499.7,913.5 500.6,914.1 501.5,914.7 502.3,915.3 503.1,915.9 503.9,916.5 504.6,917.1 505.3,917.7 505.8,918.3 506.2,918.9 506.6,919.5 506.8,920.1 506.9,920.7 506.9,921.3 506.7,921.9 506.5,922.5 506.1,923.1 505.6,923.7 505,924.3 504.3,924.9 503.6,925.5 502.7,926.1 501.9,926.7 501,927.3 500,927.9 499.1,928.5 498.2,929.1 497.2,929.7 496.3,930.3 495.5,930.9 494.7,931.5 493.9,932.1 493.2,932.7 492.5,933.3 491.9,933.9 491.3,934.5 490.8,935.1 490.4,935.6 490,936.2 489.7,936.8 489.4,937.4 489.1,938 488.9,938.6 488.7,939.2 488.6,939.8 488.4,940.4 488.3,941 488.2,941.6 488.2,942.2 488.1,942.8 488.1,943.4 488,944 488,944.6 488,945.2 488,945.8 487.9,946.4 487.9,947 487.9,947.6 487.9,948.2 487.9,948.8 487.9,949.4 487.9,950 487.9,950.6 487.9,951.2 487.9,951.8 L487.9,951.8 487.9,951.2 487.9,950.6 487.9,950 487.9,949.4 487.9,948.8 487.9,948.2 487.9,947.6 487.9,947 487.9,946.4 487.8,945.8 487.8,945.2 487.8,944.6 487.8,944 487.7,943.4 487.7,942.8 487.6,942.2 487.6,941.6 487.5,941 487.4,940.4 487.2,939.8 487.1,939.2 486.9,938.6 486.7,938 486.4,937.4 486.1,936.8 485.8,936.2 485.4,935.6 485,935.1 484.5,934.5 483.9,933.9 483.3,933.3 482.6,932.7 481.9,932.1 481.1,931.5 480.3,930.9 479.5,930.3 478.6,929.7 477.6,929.1 476.7,928.5 475.8,927.9 474.8,927.3 473.9,926.7 473.1,926.1 472.2,925.5 471.5,924.9 470.8,924.3 470.2,923.7 469.7,923.1 469.3,922.5 469.1,921.9 468.9,921.3 468.9,920.7 469,920.1 469.2,919.5 469.6,918.9 470,918.3 470.5,917.7 471.2,917.1 471.9,916.5 472.7,915.9 473.5,915.3 474.3,914.7 475.2,914.1 476.1,913.5 477,912.9 477.9,912.3 478.8,911.7 479.6,911.1 480.4,910.5 481.2,909.9 481.9,909.3 482.6,908.7 483.2,908.1 483.8,907.5 484.3,906.9 484.8,906.3 485.2,905.8 485.6,905.2 485.9,904.6 486.2,904 486.4,903.4 486.7,902.8 486.9,902.2 487,901.6 487.2,901 487.3,900.4 487.4,899.8 487.5,899.2 487.6,898.6 487.6,898 487.7,897.4 487.7,896.8 487.7,896.2 487.8,895.6 487.8,895 487.8,894.4 487.8,893.8 487.8,893.2 487.9,892.6 487.9,892 487.9,891.4 487.9,890.8 487.9,890.2 487.9,889.6 487.9,889 487.9,888.4 487.9,887.8 487.9,887.2 487.9,886.6 487.9,886 487.9,885.4 487.9,884.8 487.9,884.2 487.9,883.6 487.9,883 487.9,882.4 487.9,881.8 487.9,881.2 487.9,880.6 487.9,880 487.9,879.4 487.9,878.8 487.9,878.2 487.9,877.6 487.9,877.1 487.9,876.5 487.9,875.9 487.9,875.3 487.9,874.7 487.9,874.1 487.9,873.5 487.9,872.9 487.9,872.3 487.9,871.7 487.9,871.1 487.9,870.5 487.9,869.9 487.9,869.3 487.9,868.7 487.9,868.1 487.9,867.5 487.9,866.9 487.9,866.3 487.9,865.7 487.9,865.1 487.9,864.5 487.9,863.9 487.9,863.3 487.9,862.7 487.9,862.1 487.9,861.5 487.9,860.9 487.9,860.3 487.9,859.7 487.9,859.1 487.9,858.5 487.9,857.9 487.9,857.3 487.9,856.7 Z" fill="none" stroke="#ec2226" stroke-width="1.8" stroke-linejoin="round"/>
<line x1="473.1" y1="925.9" x2="502.7" y2="925.9" stroke="#000" stroke-width="1.3"/>
<line x1="469.2" y1="920.7" x2="506.6" y2="920.7" stroke="#000" stroke-width="1.3"/>
<line x1="473.7" y1="915.4" x2="502.1" y2="915.4" stroke="#000" stroke-width="1.3"/>
<line x1="442.5" y1="831.7" x2="474.8" y2="831.7" stroke="#111" stroke-width="2"/>
<polygon points="452.8,822.4 452.2,823.9 450.6,823.7 451.6,825 450.6,826.2 452.2,826 452.8,827.5 453.5,826 455.1,826.2 454.1,825 455.1,823.7 453.5,823.9" fill="#111"/>
<polygon points="458.1,822.4 457.5,823.9 455.9,823.7 456.9,825 455.9,826.2 457.5,826 458.1,827.5 458.8,826 460.4,826.2 459.4,825 460.4,823.7 458.8,823.9" fill="#111"/>
<polygon points="463.4,822.4 462.8,823.9 461.2,823.7 462.2,825 461.2,826.2 462.8,826 463.4,827.5 464.1,826 465.7,826.2 464.7,825 465.7,823.7 464.1,823.9" fill="#111"/>
<text transform="translate(372.8,890.8) rotate(-90)" class="t yl m">LDL-C (mmol/L)</text>
<text transform="translate(430.2,964) rotate(-45)" class="t cl e">Normal</text>
<text transform="translate(491.9,964) rotate(-45)" class="t cl e">MASLD</text>
<text x="261.4" y="12.9" class="t ti m">ALT</text>
<line x1="200.5" y1="141.5" x2="322.5" y2="27.3" stroke="#ef4f4f" stroke-width="1.1" stroke-dasharray="1.1 1.8"/>
<polyline points="210.5,132.3 210.5,132.3 210.5,132.3 210.5,132.3 210.5,132.3 210.5,132.3 210.5,132.2 210.5,132.2 210.5,132.2 210.5,132.2 210.5,132.2 210.5,132.2 210.5,132.2 210.5,132.2 210.5,132.2 210.5,132.2 210.5,132.2 210.5,132.1 210.5,132.1 210.5,132.1 210.5,132.1 210.5,132.1 210.5,132 210.5,132 210.5,132 210.5,132 210.5,131.9 210.5,131.9 210.5,131.8 210.5,131.8 210.5,131.8 210.5,131.7 210.5,131.7 210.5,131.6 210.5,131.5 210.5,131.5 210.5,131.4 210.5,131.3 210.5,131.2 210.5,131.2 210.5,131.1 210.5,131 210.6,130.9 210.6,130.7 210.6,130.6 210.6,130.5 210.6,130.4 210.6,130.2 210.6,130.1 210.6,129.9 210.6,129.7 210.6,129.5 210.7,129.3 210.7,129.1 210.7,128.9 210.7,128.7 210.7,128.4 210.7,128.2 210.8,127.9 210.8,127.6 210.8,127.3 210.9,127 210.9,126.6 210.9,126.3 211,125.9 211,125.5 211.1,125.1 211.1,124.7 211.2,124.3 211.2,123.8 211.3,123.4 211.4,122.9 211.4,122.3 211.5,121.8 211.6,121.3 211.7,120.7 211.8,120.1 211.9,119.5 212,118.8 212.1,118.2 212.2,117.5 212.4,116.8 212.5,116.1 212.6,115.3 212.8,114.6 213,113.8 213.2,113 213.3,112.1 213.6,111.3 213.8,110.4 214,109.5 214.2,108.6 214.5,107.7 214.7,106.7 215,105.8 215.3,104.8 215.6,103.8 216,102.8 216.3,101.8 216.7,100.7 217,99.7 217.4,98.6 217.8,97.5 218.3,96.4 218.7,95.3 219.2,94.2 219.7,93.1 220.2,91.9 220.7,90.8 221.3,89.7 221.8,88.5 222.4,87.4 223,86.2 223.7,85.1 224.3,83.9 225,82.7 225.7,81.6 226.4,80.4 227.2,79.3 228,78.1 228.8,77 229.6,75.9 230.4,74.8 231.3,73.7 232.1,72.5 233,71.5 234,70.4 234.9,69.3 235.9,68.3 236.8,67.2 237.8,66.2 238.9,65.2 239.9,64.2 241,63.2 242,62.2 243.1,61.3 244.2,60.4 245.3,59.5 246.5,58.6 247.6,57.7 248.8,56.9 249.9,56.1 251.1,55.3 252.3,54.5 253.5,53.7 254.7,53 255.9,52.3 257.1,51.6 258.3,50.9 259.6,50.2 260.8,49.6 262,49 263.2,48.4 264.5,47.8 265.7,47.3 266.9,46.7 268.1,46.2 269.3,45.7 270.5,45.3 271.7,44.8 272.9,44.4 274,44 275.2,43.6 276.3,43.2 277.5,42.8 278.6,42.5 279.7,42.2 280.8,41.8 281.8,41.5 282.9,41.3 283.9,41 285,40.7 286,40.5 286.9,40.3 287.9,40 288.8,39.8 289.8,39.6 290.7,39.4 291.5,39.3 292.4,39.1 293.2,39 294,38.8 294.8,38.7 295.6,38.5 296.4,38.4 297.1,38.3 297.8,38.2 298.5,38.1 299.1,38 299.8,37.9 300.4,37.9 301,37.8 301.5,37.7 302.1,37.6 302.6,37.6 303.1,37.5 303.6,37.5 304.1,37.4 304.5,37.4 305,37.3 305.4,37.3 305.8,37.3 306.1,37.2 306.5,37.2 306.8,37.2 307.2,37.2 307.5,37.1 307.8,37.1 308.1,37.1 308.3,37.1 308.6,37.1 308.8,37 309,37 309.2,37 309.5,37 309.6,37 309.8,37 310,37 310.2,37 310.3,37 310.4,37 310.6,37 310.7,36.9 310.8,36.9 310.9,36.9 311,36.9 311.1,36.9 311.2,36.9 311.3,36.9 311.4,36.9 311.4,36.9 311.5,36.9 311.6,36.9 311.6,36.9 311.7,36.9 311.7,36.9 311.8,36.9 311.8,36.9 311.9,36.9 311.9,36.9 311.9,36.9 312,36.9 312,36.9 312,36.9 312.1,36.9 312.1,36.9 312.1,36.9 312.1,36.9 312.1,36.9 312.1,36.9 312.2,36.9 312.2,36.9 312.2,36.9 312.2,36.9 312.2,36.9 312.2,36.9 312.2,36.9 312.2,36.9 312.2,36.9 312.2,36.9 312.3,36.9 312.3,36.9 312.3,36.9 312.3,36.9 312.3,36.9 312.3,36.9 312.3,36.9 312.3,36.9 312.3,36.9 312.3,36.9 312.3,36.9 312.3,36.9 312.3,36.9 312.3,36.9 312.3,36.9 312.3,36.9 312.3,36.9 312.3,36.9 312.3,36.9 312.3,36.9 312.3,36.9 312.3,36.9 312.3,36.9 312.3,36.9 312.3,36.9 312.3,36.9 312.3,36.9 312.3,36.9 312.3,36.9 312.3,36.9 312.3,36.9 312.3,36.9 312.3,36.9 312.3,36.9 312.3,36.9 312.3,36.9 312.3,36.9 312.3,36.9 312.3,36.9 312.3,36.9 312.3,36.9 312.3,36.9" fill="none" stroke="#3b50a6" stroke-width="2.1" stroke-linejoin="round" stroke-linecap="round"/>
<rect x="200.5" y="27.3" width="122" height="114.2" fill="none" stroke="#111" stroke-width="1.3"/>
<line x1="210.5" y1="141.5" x2="210.5" y2="146.4" stroke="#111" stroke-width="1.3"/>
<line x1="195.5" y1="132.3" x2="200.5" y2="132.3" stroke="#111" stroke-width="1.3"/>
<text x="210.5" y="156.3" class="t rt m">0.0</text>
<text x="194" y="135.5" class="t rt e">0.0</text>
<line x1="230.9" y1="141.5" x2="230.9" y2="146.4" stroke="#111" stroke-width="1.3"/>
<line x1="195.5" y1="113.2" x2="200.5" y2="113.2" stroke="#111" stroke-width="1.3"/>
<text x="230.9" y="156.3" class="t rt m">0.2</text>
<text x="194" y="116.4" class="t rt e">0.2</text>
<line x1="251.2" y1="141.5" x2="251.2" y2="146.4" stroke="#111" stroke-width="1.3"/>
<line x1="195.5" y1="94.1" x2="200.5" y2="94.1" stroke="#111" stroke-width="1.3"/>
<text x="251.2" y="156.3" class="t rt m">0.4</text>
<text x="194" y="97.3" class="t rt e">0.4</text>
<line x1="271.6" y1="141.5" x2="271.6" y2="146.4" stroke="#111" stroke-width="1.3"/>
<line x1="195.5" y1="75.1" x2="200.5" y2="75.1" stroke="#111" stroke-width="1.3"/>
<text x="271.6" y="156.3" class="t rt m">0.6</text>
<text x="194" y="78.3" class="t rt e">0.6</text>
<line x1="291.9" y1="141.5" x2="291.9" y2="146.4" stroke="#111" stroke-width="1.3"/>
<line x1="195.5" y1="56" x2="200.5" y2="56" stroke="#111" stroke-width="1.3"/>
<text x="291.9" y="156.3" class="t rt m">0.8</text>
<text x="194" y="59.2" class="t rt e">0.8</text>
<line x1="312.3" y1="141.5" x2="312.3" y2="146.4" stroke="#111" stroke-width="1.3"/>
<line x1="195.5" y1="36.9" x2="200.5" y2="36.9" stroke="#111" stroke-width="1.3"/>
<text x="312.3" y="156.3" class="t rt m">1.0</text>
<text x="194" y="40.1" class="t rt e">1.0</text>
<text transform="translate(261.4,170.6) scale(1,0.86)" class="t xl m">1 - Specificity</text>
<text transform="translate(175.2,84.4) rotate(-90)" class="t sl m">Sensitivity</text>
<text x="254.8" y="98.8" class="au">AUC: 0.775 (0.772-0.778)</text>
<text x="255.4" y="198.5" class="t ti m">AST</text>
<line x1="194.4" y1="327.3" x2="316.6" y2="213.0" stroke="#ef4f4f" stroke-width="1.1" stroke-dasharray="1.1 1.8"/>
<polyline points="204.4,317.8 204.4,317.7 204.4,317.7 204.4,317.6 204.4,317.6 204.4,317.5 204.4,317.5 204.4,317.3 204.4,317.2 204.4,316.9 204.4,316.8 204.5,316.3 204.5,316.2 204.6,315.4 204.6,315.2 204.8,314.1 204.8,313.8 205.1,312.2 205.1,311.9 205.7,309.8 205.7,309.2 206.7,306.5 206.7,305.9 208.2,302.5 208.2,301.7 210.5,297.6 210.5,296.6 213.6,291.9 213.6,290.8 217.8,285.5 217.8,284.2 223.2,278.6 223.2,277.2 229.7,271.4 229.7,269.9 237.3,264.1 237.3,262.7 245.7,257.1 245.7,255.7 254.5,250.5 254.5,249.2 263.4,244.5 263.4,243.4 271.9,239.4 271.9,238.4 279.7,235.1 279.7,234.2 286.4,231.6 286.4,230.9 292,228.9 292,228.4 296.4,226.9 296.4,226.5 299.8,225.4 299.8,225.1 302.1,224.4 302.1,224.2 303.8,223.7 303.8,223.6 304.8,223.2 304.8,223.2 305.5,223 305.5,222.9 305.9,222.8 305.9,222.8 306.1,222.7 306.1,222.7 306.2,222.7 306.2,222.6 306.2,222.6 306.2,222.6 306.3,222.6 306.3,222.6 306.3,222.6 306.3,222.6 306.3,222.6 306.3,222.6 306.3,222.6 306.3,222.6 306.3,222.6 306.3,222.6" fill="none" stroke="#3b50a6" stroke-width="2.1" stroke-linejoin="round" stroke-linecap="round"/>
<rect x="194.4" y="213.0" width="122.2" height="114.3" fill="none" stroke="#111" stroke-width="1.3"/>
<line x1="204.4" y1="327.3" x2="204.4" y2="332.2" stroke="#111" stroke-width="1.3"/>
<line x1="189.4" y1="317.8" x2="194.4" y2="317.8" stroke="#111" stroke-width="1.3"/>
<text x="204.4" y="342.1" class="t rt m">0.0</text>
<text x="187.9" y="321" class="t rt e">0.0</text>
<line x1="224.8" y1="327.3" x2="224.8" y2="332.2" stroke="#111" stroke-width="1.3"/>
<line x1="189.4" y1="298.8" x2="194.4" y2="298.8" stroke="#111" stroke-width="1.3"/>
<text x="224.8" y="342.1" class="t rt m">0.2</text>
<text x="187.9" y="302" class="t rt e">0.2</text>
<line x1="245.2" y1="327.3" x2="245.2" y2="332.2" stroke="#111" stroke-width="1.3"/>
<line x1="189.4" y1="279.7" x2="194.4" y2="279.7" stroke="#111" stroke-width="1.3"/>
<text x="245.2" y="342.1" class="t rt m">0.4</text>
<text x="187.9" y="282.9" class="t rt e">0.4</text>
<line x1="265.5" y1="327.3" x2="265.5" y2="332.2" stroke="#111" stroke-width="1.3"/>
<line x1="189.4" y1="260.7" x2="194.4" y2="260.7" stroke="#111" stroke-width="1.3"/>
<text x="265.5" y="342.1" class="t rt m">0.6</text>
<text x="187.9" y="263.9" class="t rt e">0.6</text>
<line x1="285.9" y1="327.3" x2="285.9" y2="332.2" stroke="#111" stroke-width="1.3"/>
<line x1="189.4" y1="241.6" x2="194.4" y2="241.6" stroke="#111" stroke-width="1.3"/>
<text x="285.9" y="342.1" class="t rt m">0.8</text>
<text x="187.9" y="244.8" class="t rt e">0.8</text>
<line x1="306.3" y1="327.3" x2="306.3" y2="332.2" stroke="#111" stroke-width="1.3"/>
<line x1="189.4" y1="222.6" x2="194.4" y2="222.6" stroke="#111" stroke-width="1.3"/>
<text x="306.3" y="342.1" class="t rt m">1.0</text>
<text x="187.9" y="225.8" class="t rt e">1.0</text>
<text transform="translate(255.4,356.4) scale(1,0.86)" class="t xl m">1 - Specificity</text>
<text transform="translate(168.8,270.1) rotate(-90)" class="t sl m">Sensitivity</text>
<text x="248.7" y="284.4" class="au">AUC: 0.670 (0.667-0.674)</text>
<text x="255.4" y="396.1" class="t ti m">AST/ALT</text>
<line x1="194.4" y1="525.2" x2="316.8" y2="410.7" stroke="#ef4f4f" stroke-width="1.1" stroke-dasharray="1.1 1.8"/>
<polyline points="204.5,515.9 204.5,515.9 204.5,515.9 204.5,515.9 204.5,515.9 204.5,515.9 204.5,515.9 204.5,515.8 204.5,515.8 204.5,515.8 204.5,515.8 204.5,515.8 204.5,515.8 204.5,515.8 204.5,515.8 204.5,515.8 204.5,515.8 204.5,515.7 204.5,515.7 204.5,515.7 204.5,515.7 204.5,515.7 204.5,515.7 204.5,515.6 204.5,515.6 204.5,515.6 204.5,515.5 204.5,515.5 204.5,515.5 204.5,515.4 204.5,515.4 204.5,515.3 204.5,515.3 204.5,515.2 204.5,515.2 204.5,515.1 204.5,515.1 204.5,515 204.5,514.9 204.5,514.8 204.5,514.7 204.5,514.6 204.6,514.5 204.6,514.4 204.6,514.3 204.6,514.2 204.6,514 204.6,513.9 204.6,513.8 204.6,513.6 204.6,513.4 204.6,513.2 204.7,513.1 204.7,512.8 204.7,512.6 204.7,512.4 204.7,512.2 204.7,511.9 204.8,511.6 204.8,511.4 204.8,511.1 204.9,510.8 204.9,510.4 204.9,510.1 205,509.7 205,509.4 205.1,509 205.1,508.6 205.2,508.1 205.2,507.7 205.3,507.2 205.4,506.7 205.4,506.2 205.5,505.7 205.6,505.1 205.7,504.6 205.8,504 205.9,503.4 206,502.7 206.1,502.1 206.2,501.4 206.4,500.7 206.5,500 206.6,499.3 206.8,498.5 207,497.7 207.2,496.9 207.3,496.1 207.6,495.3 207.8,494.4 208,493.5 208.2,492.6 208.5,491.7 208.7,490.8 209,489.8 209.3,488.8 209.6,487.8 210,486.8 210.3,485.8 210.7,484.7 211,483.7 211.4,482.6 211.8,481.5 212.3,480.4 212.7,479.3 213.2,478.2 213.7,477.1 214.2,476 214.7,474.8 215.3,473.7 215.8,472.5 216.4,471.4 217,470.2 217.7,469 218.3,467.9 219,466.7 219.7,465.6 220.4,464.4 221.2,463.2 222,462.1 222.8,461 223.6,459.8 224.4,458.7 225.3,457.6 226.1,456.5 227,455.4 228,454.3 228.9,453.2 229.9,452.1 230.8,451.1 231.8,450 232.9,449 233.9,448 235,447 236,446.1 237.1,445.1 238.2,444.2 239.3,443.3 240.5,442.4 241.6,441.5 242.8,440.6 243.9,439.8 245.1,439 246.3,438.2 247.5,437.4 248.7,436.7 249.9,436 251.1,435.2 252.3,434.6 253.6,433.9 254.8,433.3 256,432.6 257.2,432 258.5,431.5 259.7,430.9 260.9,430.4 262.1,429.8 263.3,429.4 264.5,428.9 265.7,428.4 266.9,428 268,427.6 269.2,427.2 270.3,426.8 271.5,426.4 272.6,426 273.7,425.7 274.8,425.4 275.8,425.1 276.9,424.8 277.9,424.5 279,424.3 280,424 280.9,423.8 281.9,423.6 282.8,423.4 283.8,423.2 284.7,423 285.5,422.8 286.4,422.6 287.2,422.5 288,422.3 288.8,422.2 289.6,422.1 290.4,421.9 291.1,421.8 291.8,421.7 292.5,421.6 293.1,421.5 293.8,421.4 294.4,421.4 295,421.3 295.5,421.2 296.1,421.1 296.6,421.1 297.1,421 297.6,421 298.1,420.9 298.5,420.9 299,420.8 299.4,420.8 299.8,420.8 300.1,420.7 300.5,420.7 300.8,420.7 301.2,420.7 301.5,420.6 301.8,420.6 302.1,420.6 302.3,420.6 302.6,420.6 302.8,420.5 303,420.5 303.2,420.5 303.5,420.5 303.6,420.5 303.8,420.5 304,420.5 304.2,420.5 304.3,420.5 304.4,420.5 304.6,420.5 304.7,420.4 304.8,420.4 304.9,420.4 305,420.4 305.1,420.4 305.2,420.4 305.3,420.4 305.4,420.4 305.4,420.4 305.5,420.4 305.6,420.4 305.6,420.4 305.7,420.4 305.7,420.4 305.8,420.4 305.8,420.4 305.9,420.4 305.9,420.4 305.9,420.4 306,420.4 306,420.4 306,420.4 306.1,420.4 306.1,420.4 306.1,420.4 306.1,420.4 306.1,420.4 306.1,420.4 306.2,420.4 306.2,420.4 306.2,420.4 306.2,420.4 306.2,420.4 306.2,420.4 306.2,420.4 306.2,420.4 306.2,420.4 306.2,420.4 306.3,420.4 306.3,420.4 306.3,420.4 306.3,420.4 306.3,420.4 306.3,420.4 306.3,420.4 306.3,420.4 306.3,420.4 306.3,420.4 306.3,420.4 306.3,420.4 306.3,420.4 306.3,420.4 306.3,420.4 306.3,420.4 306.3,420.4 306.3,420.4 306.3,420.4 306.3,420.4 306.3,420.4 306.3,420.4 306.3,420.4 306.3,420.4 306.3,420.4 306.3,420.4 306.3,420.4 306.3,420.4 306.3,420.4 306.3,420.4 306.3,420.4 306.3,420.4 306.3,420.4 306.3,420.4 306.3,420.4 306.3,420.4 306.3,420.4 306.3,420.4 306.3,420.4 306.3,420.4 306.3,420.4 306.3,420.4" fill="none" stroke="#3b50a6" stroke-width="2.1" stroke-linejoin="round" stroke-linecap="round"/>
<rect x="194.4" y="410.7" width="122.4" height="114.5" fill="none" stroke="#111" stroke-width="1.3"/>
<line x1="204.5" y1="525.2" x2="204.5" y2="530.1" stroke="#111" stroke-width="1.3"/>
<line x1="189.4" y1="515.9" x2="194.4" y2="515.9" stroke="#111" stroke-width="1.3"/>
<text x="204.5" y="540" class="t rt m">0.0</text>
<text x="187.9" y="519.1" class="t rt e">0.0</text>
<line x1="224.9" y1="525.2" x2="224.9" y2="530.1" stroke="#111" stroke-width="1.3"/>
<line x1="189.4" y1="496.8" x2="194.4" y2="496.8" stroke="#111" stroke-width="1.3"/>
<text x="224.9" y="540" class="t rt m">0.2</text>
<text x="187.9" y="500" class="t rt e">0.2</text>
<line x1="245.2" y1="525.2" x2="245.2" y2="530.1" stroke="#111" stroke-width="1.3"/>
<line x1="189.4" y1="477.7" x2="194.4" y2="477.7" stroke="#111" stroke-width="1.3"/>
<text x="245.2" y="540" class="t rt m">0.4</text>
<text x="187.9" y="480.9" class="t rt e">0.4</text>
<line x1="265.6" y1="525.2" x2="265.6" y2="530.1" stroke="#111" stroke-width="1.3"/>
<line x1="189.4" y1="458.6" x2="194.4" y2="458.6" stroke="#111" stroke-width="1.3"/>
<text x="265.6" y="540" class="t rt m">0.6</text>
<text x="187.9" y="461.8" class="t rt e">0.6</text>
<line x1="285.9" y1="525.2" x2="285.9" y2="530.1" stroke="#111" stroke-width="1.3"/>
<line x1="189.4" y1="439.5" x2="194.4" y2="439.5" stroke="#111" stroke-width="1.3"/>
<text x="285.9" y="540" class="t rt m">0.8</text>
<text x="187.9" y="442.7" class="t rt e">0.8</text>
<line x1="306.3" y1="525.2" x2="306.3" y2="530.1" stroke="#111" stroke-width="1.3"/>
<line x1="189.4" y1="420.4" x2="194.4" y2="420.4" stroke="#111" stroke-width="1.3"/>
<text x="306.3" y="540" class="t rt m">1.0</text>
<text x="187.9" y="423.6" class="t rt e">1.0</text>
<text transform="translate(255.4,554.3) scale(1,0.86)" class="t xl m">1 - Specificity</text>
<text transform="translate(168.8,468) rotate(-90)" class="t sl m">Sensitivity</text>
<text x="248.8" y="482" class="au">AUC: 0.780 (0.777-0.782)</text>
<text x="255.4" y="606.1" class="t ti m">FBG</text>
<line x1="194.4" y1="734.5" x2="316.8" y2="620.5" stroke="#ef4f4f" stroke-width="1.1" stroke-dasharray="1.1 1.8"/>
<polyline points="204.5,725.3 204.7,723.7 204.9,722.4 205,721.2 205.2,720.2 205.4,719.3 205.6,718.5 205.7,717.6 205.9,716.8 206.1,716 206.3,715.2 206.4,714.5 206.6,713.8 206.8,713.1 207,712.5 207.1,711.9 207.3,711.4 207.5,710.9 207.7,710.5 207.8,710.2 208,709.8 208.2,709.5 208.4,709.2 208.5,708.9 208.7,708.6 208.9,708.4 209.1,708.1 209.2,707.8 209.4,707.6 209.6,707.4 210.6,706 211.5,704.8 212.5,703.7 213.5,702.6 214.5,701.5 215.5,700.4 216.4,699.3 217.4,698.2 218.4,697.1 219.4,696 220.3,694.9 221.3,693.8 222.3,692.7 223.3,691.6 224.2,690.5 225.2,689.4 226.2,688.3 227.2,687.1 228.2,686.1 229.1,685 230.1,683.9 231.1,682.9 232.1,681.9 233,680.8 234,679.8 235,678.8 236,677.9 236.9,676.9 237.9,675.9 238.9,675 239.9,674.1 240.8,673.2 241.8,672.3 242.8,671.4 243.8,670.5 244.8,669.7 245.7,668.9 246.7,668 247.7,667.2 248.7,666.4 249.6,665.7 250.6,664.9 251.6,664.1 252.6,663.4 253.5,662.7 254.5,661.9 255.5,661.2 256.5,660.5 257.5,659.9 258.4,659.2 259.4,658.5 260.4,657.9 261.4,657.2 262.3,656.5 263.3,655.9 264.3,655.3 265.3,654.6 266.2,654 267.2,653.3 268.2,652.7 269.2,652.1 270.2,651.4 271.1,650.8 272.1,650.2 273.1,649.6 274.1,649 275,648.4 276,647.8 277,647.2 278,646.6 278.9,646 279.9,645.4 280.9,644.8 281.9,644.2 282.9,643.6 283.8,643 284.8,642.4 285.8,641.7 286.8,641.1 287.7,640.5 288.7,639.9 289.7,639.3 290.7,638.7 291.6,638.1 292.6,637.5 293.6,636.9 294.6,636.3 295.6,635.7 296.5,635.2 297.5,634.6 298.5,634.1 299.5,633.5 300.4,633 301.4,632.5 302.4,632 303.4,631.5 304.3,631 305.3,630.5 306.3,630" fill="none" stroke="#3b50a6" stroke-width="2.1" stroke-linejoin="round" stroke-linecap="round"/>
<rect x="194.4" y="620.5" width="122.4" height="114" fill="none" stroke="#111" stroke-width="1.3"/>
<line x1="204.5" y1="734.5" x2="204.5" y2="739.4" stroke="#111" stroke-width="1.3"/>
<line x1="189.4" y1="725.3" x2="194.4" y2="725.3" stroke="#111" stroke-width="1.3"/>
<text x="204.5" y="749.3" class="t rt m">0.0</text>
<text x="187.9" y="728.5" class="t rt e">0.0</text>
<line x1="224.9" y1="734.5" x2="224.9" y2="739.4" stroke="#111" stroke-width="1.3"/>
<line x1="189.4" y1="706.2" x2="194.4" y2="706.2" stroke="#111" stroke-width="1.3"/>
<text x="224.9" y="749.3" class="t rt m">0.2</text>
<text x="187.9" y="709.4" class="t rt e">0.2</text>
<line x1="245.2" y1="734.5" x2="245.2" y2="739.4" stroke="#111" stroke-width="1.3"/>
<line x1="189.4" y1="687.2" x2="194.4" y2="687.2" stroke="#111" stroke-width="1.3"/>
<text x="245.2" y="749.3" class="t rt m">0.4</text>
<text x="187.9" y="690.4" class="t rt e">0.4</text>
<line x1="265.6" y1="734.5" x2="265.6" y2="739.4" stroke="#111" stroke-width="1.3"/>
<line x1="189.4" y1="668.1" x2="194.4" y2="668.1" stroke="#111" stroke-width="1.3"/>
<text x="265.6" y="749.3" class="t rt m">0.6</text>
<text x="187.9" y="671.3" class="t rt e">0.6</text>
<line x1="285.9" y1="734.5" x2="285.9" y2="739.4" stroke="#111" stroke-width="1.3"/>
<line x1="189.4" y1="649.1" x2="194.4" y2="649.1" stroke="#111" stroke-width="1.3"/>
<text x="285.9" y="749.3" class="t rt m">0.8</text>
<text x="187.9" y="652.3" class="t rt e">0.8</text>
<line x1="306.3" y1="734.5" x2="306.3" y2="739.4" stroke="#111" stroke-width="1.3"/>
<line x1="189.4" y1="630" x2="194.4" y2="630" stroke="#111" stroke-width="1.3"/>
<text x="306.3" y="749.3" class="t rt m">1.0</text>
<text x="187.9" y="633.2" class="t rt e">1.0</text>
<text transform="translate(255.4,763.6) scale(1,0.86)" class="t xl m">1 - Specificity</text>
<text transform="translate(168.8,677.5) rotate(-90)" class="t sl m">Sensitivity</text>
<text x="248.8" y="691.4" class="au">AUC: 0.630 (0.624-0.636)</text>
<text x="255.4" y="819.2" class="t ti m">SBP</text>
<line x1="204.5" y1="948.1" x2="306.3" y2="833.6" stroke="#ef4f4f" stroke-width="1.1" stroke-dasharray="1.1 1.8"/>
<polyline points="204.5,948.1 204.5,922 204.5,921.2 204.5,920.4 204.5,919.6 204.5,918.8 204.5,918 204.5,917.2 204.5,916.4 204.5,915.5 204.5,914.7 204.5,913.8 204.5,912.9 204.5,912 204.5,911.1 204.5,910.2 204.5,909.3 204.5,908.4 204.5,907.4 204.5,906.5 204.5,905.5 204.5,904.6 204.5,903.6 204.5,902.7 204.5,901.7 204.5,900.7 204.5,899.7 204.5,898.7 204.5,897.8 204.5,896.8 204.5,895.8 204.5,894.8 204.5,893.8 204.5,892.8 204.5,891.8 204.5,890.8 204.5,889.8 204.5,888.7 204.5,887.7 204.5,886.7 204.5,885.7 204.5,884.8 204.6,883.8 204.6,882.8 204.6,881.8 204.6,880.8 204.6,879.8 204.6,878.9 204.6,877.9 204.6,876.9 204.6,876 204.6,875 204.7,874.1 204.7,873.2 204.7,872.2 204.7,871.3 204.7,870.4 204.7,869.5 204.8,868.6 204.8,867.7 204.8,866.9 204.9,866 204.9,865.2 204.9,864.3 205,863.5 205,862.7 205.1,861.9 205.1,861.1 205.2,860.3 205.2,859.6 205.3,858.8 205.4,858.1 205.4,857.4 205.5,856.6 205.6,855.9 205.7,855.3 205.8,854.6 205.9,853.9 206,853.3 206.1,852.6 206.2,852 206.4,851.4 206.5,850.8 206.6,850.2 206.8,849.7 207,849.1 207.2,848.6 207.3,848 207.6,847.5 207.8,847 208,846.5 208.2,846.1 208.5,845.6 208.7,845.2 209,844.7 209.3,844.3 209.6,843.9 210,843.5 210.3,843.1 210.7,842.7 211,842.3 211.4,842 211.8,841.6 212.3,841.3 212.7,841 213.2,840.7 213.7,840.4 214.2,840.1 214.7,839.8 215.3,839.5 215.8,839.3 216.4,839 217,838.8 217.7,838.5 218.3,838.3 219,838.1 219.7,837.9 220.4,837.7 221.2,837.5 222,837.3 222.8,837.1 223.6,837 224.4,836.8 225.3,836.6 226.1,836.5 227,836.3 228,836.2 228.9,836.1 229.9,835.9 230.8,835.8 231.8,835.7 232.9,835.6 233.9,835.5 235,835.4 236,835.3 237.1,835.2 238.2,835.1 239.3,835 240.5,834.9 241.6,834.9 242.8,834.8 243.9,834.7 245.1,834.7 246.3,834.6 247.5,834.5 248.7,834.5 249.9,834.4 251.1,834.4 252.3,834.3 253.6,834.3 254.8,834.3 256,834.2 257.2,834.2 258.5,834.1 259.7,834.1 260.9,834.1 262.1,834 263.3,834 264.5,834 265.7,834 266.9,833.9 268,833.9 269.2,833.9 270.3,833.9 271.5,833.9 272.6,833.8 273.7,833.8 274.8,833.8 275.8,833.8 276.9,833.8 277.9,833.8 279,833.8 280,833.7 280.9,833.7 281.9,833.7 282.8,833.7 283.8,833.7 284.7,833.7 285.5,833.7 286.4,833.7 287.2,833.7 288,833.7 288.8,833.7 289.6,833.7 290.4,833.7 291.1,833.7 291.8,833.7 292.5,833.6 293.1,833.6 293.8,833.6 294.4,833.6 295,833.6 295.5,833.6 296.1,833.6 296.6,833.6 297.1,833.6 297.6,833.6 298.1,833.6 298.5,833.6 299,833.6 299.4,833.6 299.8,833.6 300.1,833.6 300.5,833.6 300.8,833.6 301.2,833.6 301.5,833.6 301.8,833.6 302.1,833.6 302.3,833.6 302.6,833.6 302.8,833.6 303,833.6 303.2,833.6 303.5,833.6 303.6,833.6 303.8,833.6 304,833.6 304.2,833.6 304.3,833.6 304.4,833.6 304.6,833.6 304.7,833.6 304.8,833.6 304.9,833.6 305,833.6 305.1,833.6 305.2,833.6 305.3,833.6 305.4,833.6 305.4,833.6 305.5,833.6 305.6,833.6 305.6,833.6 305.7,833.6 305.7,833.6 305.8,833.6 305.8,833.6 305.9,833.6 305.9,833.6 305.9,833.6 306,833.6 306,833.6 306,833.6 306.1,833.6 306.1,833.6 306.1,833.6 306.1,833.6 306.1,833.6 306.1,833.6 306.2,833.6 306.2,833.6 306.2,833.6 306.2,833.6 306.2,833.6 306.2,833.6 306.2,833.6 306.2,833.6 306.2,833.6 306.2,833.6 306.3,833.6 306.3,833.6 306.3,833.6 306.3,833.6 306.3,833.6 306.3,833.6 306.3,833.6 306.3,833.6 306.3,833.6 306.3,833.6 306.3,833.6 306.3,833.6 306.3,833.6 306.3,833.6 306.3,833.6 306.3,833.6 306.3,833.6 306.3,833.6 306.3,833.6 306.3,833.6 306.3,833.6 306.3,833.6 306.3,833.6 306.3,833.6 306.3,833.6 306.3,833.6 306.3,833.6 306.3,833.6 306.3,833.6 306.3,833.6 306.3,833.6 306.3,833.6 306.3,833.6 306.3,833.6 306.3,833.6 306.3,833.6 306.3,833.6 306.3,833.6 306.3,833.6 306.3,833.6 306.3,833.6 306.3,833.6" fill="none" stroke="#3b50a6" stroke-width="2.1" stroke-linejoin="round" stroke-linecap="round"/>
<rect x="194.4" y="833.6" width="122.4" height="114.5" fill="none" stroke="#111" stroke-width="1.3"/>
<line x1="204.5" y1="948.1" x2="204.5" y2="953" stroke="#111" stroke-width="1.3"/>
<line x1="189.4" y1="948.1" x2="194.4" y2="948.1" stroke="#111" stroke-width="1.3"/>
<text x="204.5" y="962.9" class="t rt m">0.0</text>
<text x="187.9" y="951.3" class="t rt e">0.0</text>
<line x1="224.9" y1="948.1" x2="224.9" y2="953" stroke="#111" stroke-width="1.3"/>
<line x1="189.4" y1="925.2" x2="194.4" y2="925.2" stroke="#111" stroke-width="1.3"/>
<text x="224.9" y="962.9" class="t rt m">0.2</text>
<text x="187.9" y="928.4" class="t rt e">0.2</text>
<line x1="245.2" y1="948.1" x2="245.2" y2="953" stroke="#111" stroke-width="1.3"/>
<line x1="189.4" y1="902.3" x2="194.4" y2="902.3" stroke="#111" stroke-width="1.3"/>
<text x="245.2" y="962.9" class="t rt m">0.4</text>
<text x="187.9" y="905.5" class="t rt e">0.4</text>
<line x1="265.6" y1="948.1" x2="265.6" y2="953" stroke="#111" stroke-width="1.3"/>
<line x1="189.4" y1="879.4" x2="194.4" y2="879.4" stroke="#111" stroke-width="1.3"/>
<text x="265.6" y="962.9" class="t rt m">0.6</text>
<text x="187.9" y="882.6" class="t rt e">0.6</text>
<line x1="285.9" y1="948.1" x2="285.9" y2="953" stroke="#111" stroke-width="1.3"/>
<line x1="189.4" y1="856.5" x2="194.4" y2="856.5" stroke="#111" stroke-width="1.3"/>
<text x="285.9" y="962.9" class="t rt m">0.8</text>
<text x="187.9" y="859.7" class="t rt e">0.8</text>
<line x1="306.3" y1="948.1" x2="306.3" y2="953" stroke="#111" stroke-width="1.3"/>
<line x1="189.4" y1="833.6" x2="194.4" y2="833.6" stroke="#111" stroke-width="1.3"/>
<text x="306.3" y="962.9" class="t rt m">1.0</text>
<text x="187.9" y="836.8" class="t rt e">1.0</text>
<text transform="translate(255.4,977.2) scale(1,0.86)" class="t xl m">1 - Specificity</text>
<text transform="translate(168.8,890.9) rotate(-90)" class="t sl m">Sensitivity</text>
<text x="248.8" y="907.2" class="au">AUC: 0.979 (0.978-0.980)</text>
<text x="622.5" y="11.1" class="t ti m">DBP</text>
<line x1="561.4" y1="140.1" x2="683.5" y2="25.8" stroke="#ef4f4f" stroke-width="1.1" stroke-dasharray="1.1 1.8"/>
<polyline points="571.5,130.8 571.5,130.8 571.5,130.8 571.5,130.8 571.5,130.8 571.5,130.8 571.5,130.8 571.5,130.8 571.5,130.8 571.5,130.8 571.5,130.7 571.5,130.7 571.5,130.7 571.5,130.7 571.5,130.7 571.5,130.7 571.5,130.7 571.5,130.7 571.5,130.6 571.5,130.6 571.5,130.6 571.5,130.6 571.5,130.5 571.6,130.5 571.6,130.4 571.6,130.4 571.6,130.3 571.6,130.3 571.6,130.2 571.6,130.2 571.6,130 571.7,130 571.7,129.8 571.7,129.8 571.7,129.5 571.8,129.5 571.8,129.1 571.9,129.1 571.9,128.7 572,128.7 572,128.3 572.1,128.3 572.1,127.7 572.3,127.7 572.3,127 572.5,127 572.5,126.2 572.8,126.2 572.8,125.3 573.1,125.3 573.1,124.3 573.4,124.3 573.4,123.1 573.9,123.1 573.9,121.7 574.4,121.7 574.4,120.2 575,120.2 575,118.5 575.7,118.5 575.7,116.6 576.5,116.6 576.5,114.6 577.5,114.6 577.5,112.3 578.6,112.3 578.6,109.9 579.8,109.9 579.8,107.3 581.2,107.3 581.2,104.5 582.7,104.5 582.7,101.6 584.5,101.6 584.5,98.6 586.3,98.6 586.3,95.4 588.4,95.4 588.4,92.1 590.7,92.1 590.7,88.8 593.1,88.8 593.1,85.4 595.7,85.4 595.7,82 598.4,82 598.4,78.7 601.3,78.7 601.3,75.3 604.4,75.3 604.4,72 607.6,72 607.6,68.8 610.8,68.8 610.8,65.7 614.2,65.7 614.2,62.8 617.6,62.8 617.6,59.9 621,59.9 621,57.3 624.5,57.3 624.5,54.8 627.9,54.8 627.9,52.5 631.3,52.5 631.3,50.3 634.7,50.3 634.7,48.4 637.9,48.4 637.9,46.6 641.1,46.6 641.1,45 644.1,45 644.1,43.6 647,43.6 647,42.4 649.7,42.4 649.7,41.3 652.3,41.3 652.3,40.3 654.6,40.3 654.6,39.5 656.9,39.5 656.9,38.7 658.9,38.7 658.9,38.1 660.8,38.1 660.8,37.6 662.4,37.6 662.4,37.2 664,37.2 664,36.8 665.3,36.8 665.3,36.5 666.5,36.5 666.5,36.3 667.6,36.3 667.6,36.1 668.5,36.1 668.5,36 669.3,36 669.3,35.8 670,35.8 670,35.7 670.6,35.7 670.6,35.6 671.1,35.6 671.1,35.6 671.5,35.6 671.5,35.5 671.9,35.5 671.9,35.5 672.2,35.5 672.2,35.5 672.4,35.5 672.4,35.5 672.6,35.5 672.6,35.4 672.8,35.4 672.8,35.4 672.9,35.4 672.9,35.4 673,35.4 673,35.4 673.1,35.4 673.1,35.4 673.2,35.4 673.2,35.4 673.2,35.4 673.2,35.4 673.3,35.4 673.3,35.4 673.3,35.4 673.3,35.4 673.3,35.4 673.3,35.4 673.3,35.4 673.3,35.4 673.4,35.4 673.4,35.4 673.4,35.4 673.4,35.4 673.4,35.4 673.4,35.4 673.4,35.4 673.4,35.4 673.4,35.4 673.4,35.4 673.4,35.4 673.4,35.4 673.4,35.4 673.4,35.4 673.4,35.4 673.4,35.4 673.4,35.4 673.4,35.4 673.4,35.4 673.4,35.4 673.4,35.4 673.4,35.4" fill="none" stroke="#3b50a6" stroke-width="2.1" stroke-linejoin="round" stroke-linecap="round"/>
<rect x="561.4" y="25.8" width="122.1" height="114.3" fill="none" stroke="#111" stroke-width="1.3"/>
<line x1="571.5" y1="140.1" x2="571.5" y2="145" stroke="#111" stroke-width="1.3"/>
<line x1="556.4" y1="130.8" x2="561.4" y2="130.8" stroke="#111" stroke-width="1.3"/>
<text x="571.5" y="154.9" class="t rt m">0.0</text>
<text x="554.9" y="134" class="t rt e">0.0</text>
<line x1="591.9" y1="140.1" x2="591.9" y2="145" stroke="#111" stroke-width="1.3"/>
<line x1="556.4" y1="111.7" x2="561.4" y2="111.7" stroke="#111" stroke-width="1.3"/>
<text x="591.9" y="154.9" class="t rt m">0.2</text>
<text x="554.9" y="114.9" class="t rt e">0.2</text>
<line x1="612.3" y1="140.1" x2="612.3" y2="145" stroke="#111" stroke-width="1.3"/>
<line x1="556.4" y1="92.6" x2="561.4" y2="92.6" stroke="#111" stroke-width="1.3"/>
<text x="612.3" y="154.9" class="t rt m">0.4</text>
<text x="554.9" y="95.8" class="t rt e">0.4</text>
<line x1="632.6" y1="140.1" x2="632.6" y2="145" stroke="#111" stroke-width="1.3"/>
<line x1="556.4" y1="73.6" x2="561.4" y2="73.6" stroke="#111" stroke-width="1.3"/>
<text x="632.6" y="154.9" class="t rt m">0.6</text>
<text x="554.9" y="76.8" class="t rt e">0.6</text>
<line x1="653" y1="140.1" x2="653" y2="145" stroke="#111" stroke-width="1.3"/>
<line x1="556.4" y1="54.5" x2="561.4" y2="54.5" stroke="#111" stroke-width="1.3"/>
<text x="653" y="154.9" class="t rt m">0.8</text>
<text x="554.9" y="57.7" class="t rt e">0.8</text>
<line x1="673.4" y1="140.1" x2="673.4" y2="145" stroke="#111" stroke-width="1.3"/>
<line x1="556.4" y1="35.4" x2="561.4" y2="35.4" stroke="#111" stroke-width="1.3"/>
<text x="673.4" y="154.9" class="t rt m">1.0</text>
<text x="554.9" y="38.6" class="t rt e">1.0</text>
<text transform="translate(622.5,169.2) scale(1,0.86)" class="t xl m">1 - Specificity</text>
<text transform="translate(534.7,83) rotate(-90)" class="t sl m">Sensitivity</text>
<text x="615.8" y="97" class="au">AUC: 0.690 (0.687-0.693)</text>
<text x="622.5" y="198.5" class="t ti m">TG</text>
<line x1="561.4" y1="327.4" x2="683.5" y2="213.0" stroke="#ef4f4f" stroke-width="1.1" stroke-dasharray="1.1 1.8"/>
<polyline points="571.5,317.9 571.5,317.9 571.5,317.9 571.5,317.9 571.5,317.8 571.5,317.8 571.5,317.8 571.5,317.8 571.5,317.8 571.5,317.8 571.5,317.8 571.5,317.8 571.5,317.8 571.5,317.8 571.5,317.8 571.5,317.7 571.5,317.7 571.5,317.7 571.5,317.7 571.5,317.7 571.5,317.6 571.5,317.6 571.5,317.6 571.5,317.6 571.5,317.5 571.5,317.5 571.5,317.5 571.5,317.4 571.5,317.4 571.5,317.3 571.5,317.3 571.5,317.2 571.5,317.2 571.5,317.1 571.5,317 571.5,317 571.5,316.9 571.5,316.8 571.5,316.7 571.5,316.6 571.5,316.5 571.5,316.4 571.6,316.3 571.6,316.2 571.6,316 571.6,315.9 571.6,315.7 571.6,315.6 571.6,315.4 571.6,315.2 571.6,315 571.6,314.8 571.7,314.6 571.7,314.4 571.7,314.2 571.7,313.9 571.7,313.7 571.7,313.4 571.8,313.1 571.8,312.8 571.8,312.5 571.9,312.1 571.9,311.8 571.9,311.4 572,311 572,310.6 572.1,310.2 572.1,309.8 572.2,309.3 572.2,308.8 572.3,308.3 572.4,307.8 572.4,307.3 572.5,306.7 572.6,306.2 572.7,305.6 572.8,304.9 572.9,304.3 573,303.6 573.1,303 573.2,302.3 573.4,301.6 573.5,300.8 573.6,300.1 573.8,299.3 574,298.5 574.2,297.6 574.4,296.8 574.6,295.9 574.8,295.1 575,294.2 575.2,293.2 575.5,292.3 575.8,291.4 576,290.4 576.3,289.4 576.6,288.4 577,287.4 577.3,286.3 577.7,285.3 578,284.2 578.4,283.2 578.9,282.1 579.3,281 579.7,279.9 580.2,278.8 580.7,277.7 581.2,276.5 581.7,275.4 582.3,274.3 582.9,273.1 583.4,272 584.1,270.8 584.7,269.7 585.4,268.5 586,267.4 586.7,266.3 587.5,265.1 588.2,264 589,262.9 589.8,261.8 590.6,260.6 591.4,259.5 592.3,258.4 593.2,257.4 594.1,256.3 595,255.2 595.9,254.2 596.9,253.1 597.9,252.1 598.9,251.1 599.9,250.1 600.9,249.2 602,248.2 603.1,247.3 604.1,246.3 605.3,245.4 606.4,244.6 607.5,243.7 608.7,242.8 609.8,242 611,241.2 612.2,240.4 613.4,239.7 614.5,238.9 615.8,238.2 617,237.5 618.2,236.8 619.4,236.2 620.6,235.5 621.8,234.9 623.1,234.3 624.3,233.7 625.5,233.2 626.7,232.6 627.9,232.1 629.1,231.6 630.4,231.2 631.5,230.7 632.7,230.3 633.9,229.8 635.1,229.4 636.2,229 637.4,228.7 638.5,228.3 639.6,228 640.8,227.7 641.8,227.3 642.9,227.1 644,226.8 645,226.5 646,226.3 647,226 648,225.8 649,225.6 649.9,225.4 650.8,225.2 651.7,225 652.6,224.8 653.5,224.7 654.3,224.5 655.1,224.4 655.9,224.3 656.7,224.1 657.4,224 658.2,223.9 658.9,223.8 659.5,223.7 660.2,223.6 660.8,223.5 661.5,223.4 662,223.4 662.6,223.3 663.2,223.2 663.7,223.2 664.2,223.1 664.7,223.1 665.2,223 665.6,223 666,222.9 666.5,222.9 666.9,222.9 667.2,222.8 667.6,222.8 667.9,222.8 668.3,222.8 668.6,222.7 668.9,222.7 669.1,222.7 669.4,222.7 669.7,222.7 669.9,222.6 670.1,222.6 670.3,222.6 670.5,222.6 670.7,222.6 670.9,222.6 671.1,222.6 671.3,222.6 671.4,222.6 671.5,222.6 671.7,222.6 671.8,222.5 671.9,222.5 672,222.5 672.1,222.5 672.2,222.5 672.3,222.5 672.4,222.5 672.5,222.5 672.5,222.5 672.6,222.5 672.7,222.5 672.7,222.5 672.8,222.5 672.8,222.5 672.9,222.5 672.9,222.5 673,222.5 673,222.5 673,222.5 673.1,222.5 673.1,222.5 673.1,222.5 673.2,222.5 673.2,222.5 673.2,222.5 673.2,222.5 673.2,222.5 673.2,222.5 673.3,222.5 673.3,222.5 673.3,222.5 673.3,222.5 673.3,222.5 673.3,222.5 673.3,222.5 673.3,222.5 673.3,222.5 673.3,222.5 673.4,222.5 673.4,222.5 673.4,222.5 673.4,222.5 673.4,222.5 673.4,222.5 673.4,222.5 673.4,222.5 673.4,222.5 673.4,222.5 673.4,222.5 673.4,222.5 673.4,222.5 673.4,222.5 673.4,222.5 673.4,222.5 673.4,222.5 673.4,222.5 673.4,222.5 673.4,222.5 673.4,222.5 673.4,222.5 673.4,222.5 673.4,222.5 673.4,222.5 673.4,222.5 673.4,222.5 673.4,222.5 673.4,222.5 673.4,222.5 673.4,222.5 673.4,222.5 673.4,222.5 673.4,222.5 673.4,222.5 673.4,222.5 673.4,222.5 673.4,222.5 673.4,222.5 673.4,222.5 673.4,222.5 673.4,222.5" fill="none" stroke="#3b50a6" stroke-width="2.1" stroke-linejoin="round" stroke-linecap="round"/>
<rect x="561.4" y="213.0" width="122.1" height="114.4" fill="none" stroke="#111" stroke-width="1.3"/>
<line x1="571.5" y1="327.4" x2="571.5" y2="332.3" stroke="#111" stroke-width="1.3"/>
<line x1="556.4" y1="317.9" x2="561.4" y2="317.9" stroke="#111" stroke-width="1.3"/>
<text x="571.5" y="342.2" class="t rt m">0.0</text>
<text x="554.9" y="321.1" class="t rt e">0.0</text>
<line x1="591.9" y1="327.4" x2="591.9" y2="332.3" stroke="#111" stroke-width="1.3"/>
<line x1="556.4" y1="298.8" x2="561.4" y2="298.8" stroke="#111" stroke-width="1.3"/>
<text x="591.9" y="342.2" class="t rt m">0.2</text>
<text x="554.9" y="302" class="t rt e">0.2</text>
<line x1="612.3" y1="327.4" x2="612.3" y2="332.3" stroke="#111" stroke-width="1.3"/>
<line x1="556.4" y1="279.7" x2="561.4" y2="279.7" stroke="#111" stroke-width="1.3"/>
<text x="612.3" y="342.2" class="t rt m">0.4</text>
<text x="554.9" y="282.9" class="t rt e">0.4</text>
<line x1="632.6" y1="327.4" x2="632.6" y2="332.3" stroke="#111" stroke-width="1.3"/>
<line x1="556.4" y1="260.7" x2="561.4" y2="260.7" stroke="#111" stroke-width="1.3"/>
<text x="632.6" y="342.2" class="t rt m">0.6</text>
<text x="554.9" y="263.9" class="t rt e">0.6</text>
<line x1="653" y1="327.4" x2="653" y2="332.3" stroke="#111" stroke-width="1.3"/>
<line x1="556.4" y1="241.6" x2="561.4" y2="241.6" stroke="#111" stroke-width="1.3"/>
<text x="653" y="342.2" class="t rt m">0.8</text>
<text x="554.9" y="244.8" class="t rt e">0.8</text>
<line x1="673.4" y1="327.4" x2="673.4" y2="332.3" stroke="#111" stroke-width="1.3"/>
<line x1="556.4" y1="222.5" x2="561.4" y2="222.5" stroke="#111" stroke-width="1.3"/>
<text x="673.4" y="342.2" class="t rt m">1.0</text>
<text x="554.9" y="225.7" class="t rt e">1.0</text>
<text transform="translate(622.5,356.5) scale(1,0.86)" class="t xl m">1 - Specificity</text>
<text transform="translate(534.7,270.2) rotate(-90)" class="t sl m">Sensitivity</text>
<text x="615.8" y="283.9" class="au">AUC: 0.782 (0.779-0.785)</text>
<text x="622.5" y="395.8" class="t ti m">TC</text>
<line x1="561.4" y1="525.2" x2="683.5" y2="410.7" stroke="#ef4f4f" stroke-width="1.1" stroke-dasharray="1.1 1.8"/>
<polyline points="571.5,515.8 571.7,515.5 571.9,515.2 572,514.9 572.2,514.5 572.4,514.2 572.6,513.9 572.7,513.6 572.9,513.3 573.1,513 573.3,512.7 573.4,512.4 573.6,512.1 573.8,511.8 574,511.5 574.1,511.2 574.3,510.9 574.5,510.7 574.7,510.4 574.8,510.1 575,509.8 575.2,509.5 575.4,509.3 575.5,509 575.7,508.7 575.9,508.4 576.1,508.2 576.2,507.9 576.4,507.6 576.6,507.4 577.6,506 578.6,504.7 579.5,503.4 580.5,502.1 581.5,500.9 582.5,499.6 583.4,498.3 584.4,497 585.4,495.7 586.4,494.5 587.4,493.3 588.3,492.1 589.3,491 590.3,490 591.3,489 592.2,488 593.2,487.1 594.2,486.2 595.2,485.2 596.2,484.3 597.1,483.2 598.1,482.2 599.1,481.1 600.1,480 601,478.8 602,477.7 603,476.6 604,475.5 605,474.4 605.9,473.4 606.9,472.4 607.9,471.4 608.9,470.4 609.8,469.4 610.8,468.4 611.8,467.4 612.8,466.4 613.8,465.5 614.7,464.5 615.7,463.6 616.7,462.7 617.7,461.8 618.6,461 619.6,460.1 620.6,459.2 621.6,458.3 622.6,457.5 623.5,456.6 624.5,455.7 625.5,454.8 626.5,453.9 627.4,452.9 628.4,452 629.4,451.1 630.4,450.2 631.4,449.4 632.3,448.6 633.3,447.8 634.3,447.1 635.3,446.4 636.2,445.7 637.2,445.1 638.2,444.5 639.2,443.8 640.2,443.2 641.1,442.6 642.1,442 643.1,441.3 644.1,440.7 645,440 646,439.4 647,438.8 648,438.1 649,437.5 649.9,436.8 650.9,436.1 651.9,435.5 652.9,434.8 653.8,434.1 654.8,433.4 655.8,432.7 656.8,432 657.8,431.3 658.7,430.5 659.7,429.7 660.7,429 661.7,428.2 662.6,427.5 663.6,426.7 664.6,426 665.6,425.3 666.6,424.7 667.5,424 668.5,423.4 669.5,422.8 670.5,422.2 671.4,421.6 672.4,421 673.4,420.4" fill="none" stroke="#3b50a6" stroke-width="2.1" stroke-linejoin="round" stroke-linecap="round"/>
<rect x="561.4" y="410.7" width="122.1" height="114.5" fill="none" stroke="#111" stroke-width="1.3"/>
<line x1="571.5" y1="525.2" x2="571.5" y2="530.1" stroke="#111" stroke-width="1.3"/>
<line x1="556.4" y1="515.8" x2="561.4" y2="515.8" stroke="#111" stroke-width="1.3"/>
<text x="571.5" y="540" class="t rt m">0.0</text>
<text x="554.9" y="519" class="t rt e">0.0</text>
<line x1="591.9" y1="525.2" x2="591.9" y2="530.1" stroke="#111" stroke-width="1.3"/>
<line x1="556.4" y1="496.7" x2="561.4" y2="496.7" stroke="#111" stroke-width="1.3"/>
<text x="591.9" y="540" class="t rt m">0.2</text>
<text x="554.9" y="499.9" class="t rt e">0.2</text>
<line x1="612.3" y1="525.2" x2="612.3" y2="530.1" stroke="#111" stroke-width="1.3"/>
<line x1="556.4" y1="477.6" x2="561.4" y2="477.6" stroke="#111" stroke-width="1.3"/>
<text x="612.3" y="540" class="t rt m">0.4</text>
<text x="554.9" y="480.8" class="t rt e">0.4</text>
<line x1="632.6" y1="525.2" x2="632.6" y2="530.1" stroke="#111" stroke-width="1.3"/>
<line x1="556.4" y1="458.6" x2="561.4" y2="458.6" stroke="#111" stroke-width="1.3"/>
<text x="632.6" y="540" class="t rt m">0.6</text>
<text x="554.9" y="461.8" class="t rt e">0.6</text>
<line x1="653" y1="525.2" x2="653" y2="530.1" stroke="#111" stroke-width="1.3"/>
<line x1="556.4" y1="439.5" x2="561.4" y2="439.5" stroke="#111" stroke-width="1.3"/>
<text x="653" y="540" class="t rt m">0.8</text>
<text x="554.9" y="442.7" class="t rt e">0.8</text>
<line x1="673.4" y1="525.2" x2="673.4" y2="530.1" stroke="#111" stroke-width="1.3"/>
<line x1="556.4" y1="420.4" x2="561.4" y2="420.4" stroke="#111" stroke-width="1.3"/>
<text x="673.4" y="540" class="t rt m">1.0</text>
<text x="554.9" y="423.6" class="t rt e">1.0</text>
<text transform="translate(622.5,554.3) scale(1,0.86)" class="t xl m">1 - Specificity</text>
<text transform="translate(534.7,468) rotate(-90)" class="t sl m">Sensitivity</text>
<text x="615.8" y="482" class="au">AUC: 0.578 (0.571-0.586)</text>
<text x="622.5" y="603.5" class="t ti m">HDL-C</text>
<line x1="561.4" y1="732.7" x2="683.5" y2="618.4" stroke="#ef4f4f" stroke-width="1.1" stroke-dasharray="1.1 1.8"/>
<polyline points="571.5,723.4 571.5,723.4 571.5,723.4 571.5,723.4 571.5,723.4 571.5,723.4 571.5,723.4 571.5,723.4 571.5,723.4 571.5,723.4 571.5,723.4 571.5,723.4 571.5,723.4 571.5,723.3 571.5,723.3 571.5,723.3 571.5,723.3 571.5,723.3 571.5,723.3 571.5,723.3 571.5,723.3 571.5,723.3 571.5,723.3 571.5,723.2 571.5,723.2 571.5,723.2 571.5,723.2 571.5,723.2 571.5,723.2 571.5,723.1 571.5,723.1 571.5,723.1 571.5,723 571.5,723 571.5,723 571.5,722.9 571.5,722.9 571.5,722.9 571.5,722.8 571.5,722.8 571.5,722.7 571.5,722.6 571.6,722.6 571.6,722.5 571.6,722.4 571.6,722.4 571.6,722.3 571.6,722.2 571.6,722.1 571.6,722 571.6,721.9 571.6,721.7 571.7,721.6 571.7,721.5 571.7,721.3 571.7,721.2 571.7,721 571.7,720.8 571.8,720.7 571.8,720.5 571.8,720.3 571.9,720.1 571.9,719.8 571.9,719.6 572,719.3 572,719.1 572.1,718.8 572.1,718.5 572.2,718.2 572.2,717.9 572.3,717.5 572.4,717.2 572.4,716.8 572.5,716.4 572.6,716 572.7,715.6 572.8,715.1 572.9,714.7 573,714.2 573.1,713.7 573.2,713.2 573.4,712.6 573.5,712.1 573.6,711.5 573.8,710.9 574,710.3 574.2,709.7 574.4,709 574.6,708.3 574.8,707.6 575,706.9 575.2,706.2 575.5,705.4 575.8,704.6 576,703.8 576.3,703 576.6,702.1 577,701.3 577.3,700.4 577.7,699.5 578,698.6 578.4,697.6 578.9,696.7 579.3,695.7 579.7,694.7 580.2,693.7 580.7,692.7 581.2,691.7 581.7,690.6 582.3,689.6 582.9,688.5 583.4,687.4 584.1,686.3 584.7,685.2 585.4,684.1 586,683 586.7,681.9 587.5,680.8 588.2,679.6 589,678.5 589.8,677.3 590.6,676.2 591.4,675.1 592.3,673.9 593.2,672.8 594.1,671.6 595,670.5 595.9,669.4 596.9,668.3 597.9,667.1 598.9,666 599.9,664.9 600.9,663.8 602,662.8 603.1,661.7 604.1,660.6 605.3,659.6 606.4,658.6 607.5,657.5 608.7,656.5 609.8,655.6 611,654.6 612.2,653.6 613.4,652.7 614.5,651.8 615.8,650.9 617,650 618.2,649.1 619.4,648.3 620.6,647.5 621.8,646.7 623.1,645.9 624.3,645.1 625.5,644.4 626.7,643.7 627.9,643 629.1,642.3 630.4,641.6 631.5,641 632.7,640.4 633.9,639.8 635.1,639.2 636.2,638.6 637.4,638.1 638.5,637.6 639.6,637.1 640.8,636.6 641.8,636.2 642.9,635.7 644,635.3 645,634.9 646,634.5 647,634.1 648,633.8 649,633.4 649.9,633.1 650.8,632.8 651.7,632.5 652.6,632.2 653.5,632 654.3,631.7 655.1,631.5 655.9,631.2 656.7,631 657.4,630.8 658.2,630.6 658.9,630.4 659.5,630.3 660.2,630.1 660.8,630 661.5,629.8 662,629.7 662.6,629.6 663.2,629.4 663.7,629.3 664.2,629.2 664.7,629.1 665.2,629 665.6,628.9 666,628.9 666.5,628.8 666.9,628.7 667.2,628.7 667.6,628.6 667.9,628.5 668.3,628.5 668.6,628.4 668.9,628.4 669.1,628.4 669.4,628.3 669.7,628.3 669.9,628.3 670.1,628.2 670.3,628.2 670.5,628.2 670.7,628.1 670.9,628.1 671.1,628.1 671.3,628.1 671.4,628.1 671.5,628.1 671.7,628 671.8,628 671.9,628 672,628 672.1,628 672.2,628 672.3,628 672.4,628 672.5,628 672.5,628 672.6,627.9 672.7,627.9 672.7,627.9 672.8,627.9 672.8,627.9 672.9,627.9 672.9,627.9 673,627.9 673,627.9 673,627.9 673.1,627.9 673.1,627.9 673.1,627.9 673.2,627.9 673.2,627.9 673.2,627.9 673.2,627.9 673.2,627.9 673.2,627.9 673.3,627.9 673.3,627.9 673.3,627.9 673.3,627.9 673.3,627.9 673.3,627.9 673.3,627.9 673.3,627.9 673.3,627.9 673.3,627.9 673.4,627.9 673.4,627.9 673.4,627.9 673.4,627.9 673.4,627.9 673.4,627.9 673.4,627.9 673.4,627.9 673.4,627.9 673.4,627.9 673.4,627.9 673.4,627.9 673.4,627.9 673.4,627.9 673.4,627.9 673.4,627.9 673.4,627.9 673.4,627.9 673.4,627.9 673.4,627.9 673.4,627.9 673.4,627.9 673.4,627.9 673.4,627.9 673.4,627.9 673.4,627.9 673.4,627.9 673.4,627.9 673.4,627.9 673.4,627.9 673.4,627.9 673.4,627.9 673.4,627.9 673.4,627.9 673.4,627.9 673.4,627.9 673.4,627.9 673.4,627.9 673.4,627.9 673.4,627.9 673.4,627.9 673.4,627.9" fill="none" stroke="#3b50a6" stroke-width="2.1" stroke-linejoin="round" stroke-linecap="round"/>
<rect x="561.4" y="618.4" width="122.1" height="114.3" fill="none" stroke="#111" stroke-width="1.3"/>
<line x1="571.5" y1="732.7" x2="571.5" y2="737.6" stroke="#111" stroke-width="1.3"/>
<line x1="556.4" y1="723.4" x2="561.4" y2="723.4" stroke="#111" stroke-width="1.3"/>
<text x="571.5" y="747.5" class="t rt m">0.0</text>
<text x="554.9" y="726.6" class="t rt e">0.0</text>
<line x1="591.9" y1="732.7" x2="591.9" y2="737.6" stroke="#111" stroke-width="1.3"/>
<line x1="556.4" y1="704.3" x2="561.4" y2="704.3" stroke="#111" stroke-width="1.3"/>
<text x="591.9" y="747.5" class="t rt m">0.2</text>
<text x="554.9" y="707.5" class="t rt e">0.2</text>
<line x1="612.3" y1="732.7" x2="612.3" y2="737.6" stroke="#111" stroke-width="1.3"/>
<line x1="556.4" y1="685.2" x2="561.4" y2="685.2" stroke="#111" stroke-width="1.3"/>
<text x="612.3" y="747.5" class="t rt m">0.4</text>
<text x="554.9" y="688.4" class="t rt e">0.4</text>
<line x1="632.6" y1="732.7" x2="632.6" y2="737.6" stroke="#111" stroke-width="1.3"/>
<line x1="556.4" y1="666.1" x2="561.4" y2="666.1" stroke="#111" stroke-width="1.3"/>
<text x="632.6" y="747.5" class="t rt m">0.6</text>
<text x="554.9" y="669.3" class="t rt e">0.6</text>
<line x1="653" y1="732.7" x2="653" y2="737.6" stroke="#111" stroke-width="1.3"/>
<line x1="556.4" y1="647" x2="561.4" y2="647" stroke="#111" stroke-width="1.3"/>
<text x="653" y="747.5" class="t rt m">0.8</text>
<text x="554.9" y="650.2" class="t rt e">0.8</text>
<line x1="673.4" y1="732.7" x2="673.4" y2="737.6" stroke="#111" stroke-width="1.3"/>
<line x1="556.4" y1="627.9" x2="561.4" y2="627.9" stroke="#111" stroke-width="1.3"/>
<text x="673.4" y="747.5" class="t rt m">1.0</text>
<text x="554.9" y="631.1" class="t rt e">1.0</text>
<text transform="translate(622.5,761.8) scale(1,0.86)" class="t xl m">1 - Specificity</text>
<text transform="translate(534.7,675.5) rotate(-90)" class="t sl m">Sensitivity</text>
<text x="615.8" y="689.9" class="au">AUC: 0.721 (0.718-0.724)</text>
<text x="622.5" y="819.2" class="t ti m">LDL-C</text>
<line x1="561.4" y1="947.8" x2="683.5" y2="833.6" stroke="#ef4f4f" stroke-width="1.1" stroke-dasharray="1.1 1.8"/>
<polyline points="571.5,938.5 571.7,938.2 571.9,937.9 572,937.6 572.2,937.3 572.4,937 572.6,936.8 572.7,936.5 572.9,936.2 573.1,935.9 573.3,935.6 573.4,935.3 573.6,935 573.8,934.7 574,934.4 574.1,934.1 574.3,933.8 574.5,933.6 574.7,933.3 574.8,933 575,932.7 575.2,932.4 575.4,932.1 575.5,931.8 575.7,931.5 575.9,931.2 576.1,930.9 576.2,930.6 576.4,930.4 576.6,930.1 577.6,928.4 578.6,926.7 579.5,925.1 580.5,923.4 581.5,921.9 582.5,920.4 583.4,919 584.4,917.6 585.4,916.2 586.4,914.9 587.4,913.6 588.3,912.3 589.3,911 590.3,909.7 591.3,908.5 592.2,907.2 593.2,906 594.2,904.8 595.2,903.6 596.2,902.4 597.1,901.4 598.1,900.3 599.1,899.3 600.1,898.3 601,897.3 602,896.3 603,895.4 604,894.4 605,893.5 605.9,892.6 606.9,891.6 607.9,890.7 608.9,889.8 609.8,888.9 610.8,888.1 611.8,887.2 612.8,886.3 613.8,885.5 614.7,884.6 615.7,883.8 616.7,883 617.7,882.2 618.6,881.4 619.6,880.6 620.6,879.9 621.6,879.1 622.6,878.3 623.5,877.5 624.5,876.7 625.5,875.9 626.5,875.1 627.4,874.3 628.4,873.5 629.4,872.7 630.4,872 631.4,871.2 632.3,870.5 633.3,869.7 634.3,869 635.3,868.4 636.2,867.7 637.2,867 638.2,866.4 639.2,865.7 640.2,865.1 641.1,864.5 642.1,863.8 643.1,863.2 644.1,862.5 645,861.9 646,861.2 647,860.5 648,859.9 649,859.2 649.9,858.6 650.9,857.9 651.9,857.3 652.9,856.6 653.8,856 654.8,855.4 655.8,854.8 656.8,854.2 657.8,853.6 658.7,853.1 659.7,852.5 660.7,852 661.7,851.4 662.6,850.8 663.6,850.2 664.6,849.6 665.6,849 666.6,848.3 667.5,847.7 668.5,847 669.5,846.2 670.5,845.5 671.4,844.7 672.4,844 673.4,843.2" fill="none" stroke="#3b50a6" stroke-width="2.1" stroke-linejoin="round" stroke-linecap="round"/>
<rect x="561.4" y="833.6" width="122.1" height="114.2" fill="none" stroke="#111" stroke-width="1.3"/>
<line x1="571.5" y1="947.8" x2="571.5" y2="952.7" stroke="#111" stroke-width="1.3"/>
<line x1="556.4" y1="938.5" x2="561.4" y2="938.5" stroke="#111" stroke-width="1.3"/>
<text x="571.5" y="962.6" class="t rt m">0.0</text>
<text x="554.9" y="941.7" class="t rt e">0.0</text>
<line x1="591.9" y1="947.8" x2="591.9" y2="952.7" stroke="#111" stroke-width="1.3"/>
<line x1="556.4" y1="919.4" x2="561.4" y2="919.4" stroke="#111" stroke-width="1.3"/>
<text x="591.9" y="962.6" class="t rt m">0.2</text>
<text x="554.9" y="922.6" class="t rt e">0.2</text>
<line x1="612.3" y1="947.8" x2="612.3" y2="952.7" stroke="#111" stroke-width="1.3"/>
<line x1="556.4" y1="900.4" x2="561.4" y2="900.4" stroke="#111" stroke-width="1.3"/>
<text x="612.3" y="962.6" class="t rt m">0.4</text>
<text x="554.9" y="903.6" class="t rt e">0.4</text>
<line x1="632.6" y1="947.8" x2="632.6" y2="952.7" stroke="#111" stroke-width="1.3"/>
<line x1="556.4" y1="881.3" x2="561.4" y2="881.3" stroke="#111" stroke-width="1.3"/>
<text x="632.6" y="962.6" class="t rt m">0.6</text>
<text x="554.9" y="884.5" class="t rt e">0.6</text>
<line x1="653" y1="947.8" x2="653" y2="952.7" stroke="#111" stroke-width="1.3"/>
<line x1="556.4" y1="862.3" x2="561.4" y2="862.3" stroke="#111" stroke-width="1.3"/>
<text x="653" y="962.6" class="t rt m">0.8</text>
<text x="554.9" y="865.5" class="t rt e">0.8</text>
<line x1="673.4" y1="947.8" x2="673.4" y2="952.7" stroke="#111" stroke-width="1.3"/>
<line x1="556.4" y1="843.2" x2="561.4" y2="843.2" stroke="#111" stroke-width="1.3"/>
<text x="673.4" y="962.6" class="t rt m">1.0</text>
<text x="554.9" y="846.4" class="t rt e">1.0</text>
<text transform="translate(622.5,976.9) scale(1,0.86)" class="t xl m">1 - Specificity</text>
<text transform="translate(534.7,890.7) rotate(-90)" class="t sl m">Sensitivity</text>
<text x="615.8" y="905.4" class="au">AUC: 0.593 (0.590-0.596)</text>
</svg></body></html>
